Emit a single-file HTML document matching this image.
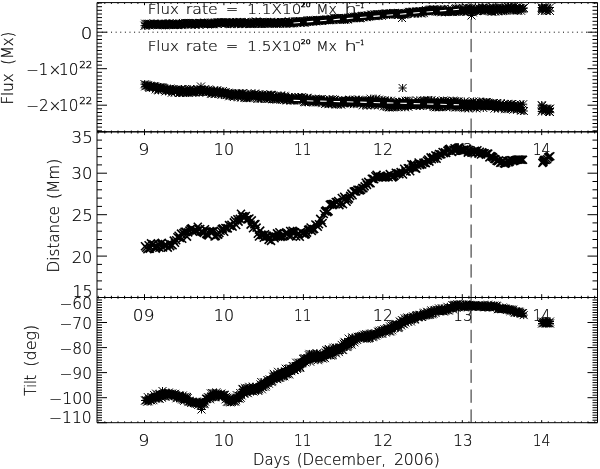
<!DOCTYPE html>
<html><head><meta charset="utf-8"><title>Flux, distance and tilt</title>
<style>html,body{margin:0;padding:0;background:#fff;overflow:hidden}svg{display:block}</style>
</head><body>
<svg width="600" height="469" viewBox="0 0 600 469">
<rect width="600" height="469" fill="#fff"/>
<defs><clipPath id="c1"><rect x="97.0" y="2.6" width="500.5" height="129.20000000000002"/></clipPath>
<clipPath id="c2"><rect x="97.0" y="131.8" width="500.5" height="165.7"/></clipPath>
<clipPath id="c3"><rect x="97.0" y="297.5" width="500.5" height="125.19999999999999"/></clipPath></defs>
<text transform="translate(138.33 155.00) scale(1.1722 1)" font-size="15.0" font-family="DejaVu Sans" font-weight="200" fill="#000" stroke="#000" stroke-width="0.2">9</text>
<text transform="translate(213.85 155.00) scale(1.0592 1)" font-size="15.0" font-family="DejaVu Sans" font-weight="200" fill="#000" stroke="#000" stroke-width="0.2">10</text>
<text transform="translate(293.99 155.00) scale(0.9123 1)" font-size="15.0" font-family="DejaVu Sans" font-weight="200" fill="#000" stroke="#000" stroke-width="0.2">11</text>
<text transform="translate(373.09 155.00) scale(1.0377 1)" font-size="15.0" font-family="DejaVu Sans" font-weight="200" fill="#000" stroke="#000" stroke-width="0.2">12</text>
<text transform="translate(453.33 155.00) scale(1.0111 1)" font-size="15.0" font-family="DejaVu Sans" font-weight="200" fill="#000" stroke="#000" stroke-width="0.2">13</text>
<text transform="translate(532.77 155.00) scale(0.9259 1)" font-size="15.0" font-family="DejaVu Sans" font-weight="200" fill="#000" stroke="#000" stroke-width="0.2">14</text>
<text transform="translate(132.87 320.60) scale(1.1324 1)" font-size="15.0" font-family="DejaVu Sans" font-weight="200" fill="#000" stroke="#000" stroke-width="0.2">09</text>
<text transform="translate(213.85 320.60) scale(1.0592 1)" font-size="15.0" font-family="DejaVu Sans" font-weight="200" fill="#000" stroke="#000" stroke-width="0.2">10</text>
<text transform="translate(293.99 320.60) scale(0.9123 1)" font-size="15.0" font-family="DejaVu Sans" font-weight="200" fill="#000" stroke="#000" stroke-width="0.2">11</text>
<text transform="translate(373.09 320.60) scale(1.0377 1)" font-size="15.0" font-family="DejaVu Sans" font-weight="200" fill="#000" stroke="#000" stroke-width="0.2">12</text>
<text transform="translate(453.33 320.60) scale(1.0111 1)" font-size="15.0" font-family="DejaVu Sans" font-weight="200" fill="#000" stroke="#000" stroke-width="0.2">13</text>
<text transform="translate(532.77 320.60) scale(0.9259 1)" font-size="15.0" font-family="DejaVu Sans" font-weight="200" fill="#000" stroke="#000" stroke-width="0.2">14</text>
<line x1="97.7" y1="32.2" x2="597" y2="32.2" stroke="#000" stroke-width="1" stroke-dasharray="1 3.612" stroke-dashoffset="0.5"/>
<line x1="471.1" y1="131.8" x2="471.1" y2="2.6" stroke="#222" stroke-width="1" stroke-dasharray="13.3 6.6"/>
<line x1="471.1" y1="297.5" x2="471.1" y2="131.8" stroke="#222" stroke-width="1" stroke-dasharray="13.3 6.6"/>
<line x1="471.1" y1="422.7" x2="471.1" y2="297.5" stroke="#222" stroke-width="1" stroke-dasharray="13.3 6.6"/>
<g clip-path="url(#c1)">
<polygon fill="#000" points="144.5,22.6 146.5,22.6 148.5,22.5 150.5,22.5 152.5,22.5 154.5,22.4 156.5,22.4 158.5,22.3 160.5,22.3 162.5,22.3 164.5,22.2 166.5,22.2 168.5,22.2 170.5,22.1 172.5,22.1 174.5,22.1 176.5,22 178.5,22 180.5,22 182.5,21.9 184.5,21.9 186.5,21.9 188.5,21.8 190.5,21.8 192.5,21.7 194.5,21.7 196.5,21.7 198.5,21.6 200.5,21.6 202.5,21.6 204.5,21.5 206.5,21.5 208.5,21.5 210.5,21.4 212.5,21.4 214.5,21.4 216.5,21.3 218.5,21.3 220.5,21.3 222.5,21.2 224.5,21.2 226.5,21.2 228.5,21.1 230.5,21.1 232.5,21 234.5,21 236.5,20.9 238.5,20.9 240.5,20.8 242.5,20.8 244.5,20.7 246.5,20.7 248.5,20.7 250.5,20.6 252.5,20.6 254.5,20.5 256.5,20.5 258.5,20.5 260.5,20.5 262.5,20.6 264.5,20.6 266.5,20.6 268.5,20.6 270.5,20.6 272.5,20.6 274.5,20.6 276.5,20.6 278.5,20.7 280.5,20.7 282.5,20.7 284.5,20.7 286.5,20.6 288.5,20.5 290.5,20.3 292.5,20.2 294.5,20.1 296.5,19.9 298.5,19.8 300.5,19.7 302.5,19.5 304.5,19.4 306.5,19.3 308.5,19.1 310.5,19 312.5,18.9 314.5,18.7 316.5,18.6 318.5,18.3 320.5,18.1 322.5,17.9 324.5,17.8 326.5,17.6 328.5,17.4 330.5,17.2 332.5,17.1 334.5,17 336.5,16.9 338.5,16.8 340.5,16.7 342.5,16.6 344.5,16.5 346.5,16.4 348.5,16.2 350.5,15.9 352.5,15.8 354.5,15.6 356.5,15.4 358.5,15.2 360.5,14.9 362.5,14.7 364.5,14.4 366.5,14.1 368.5,13.9 370.5,13.6 372.5,13.3 374.5,13.1 376.5,12.9 378.5,12.8 380.5,12.7 382.5,12.6 384.5,12.4 386.5,12.3 388.5,12.2 390.5,12.1 392.5,11.9 394.5,11.8 396.5,11.7 398.5,11.6 400.5,11.5 402.5,11.4 404.5,11.2 406.5,11 408.5,10.8 410.5,10.6 412.5,10.4 414.5,10.2 416.5,10 418.5,9.8 420.5,9.5 422.5,9.3 424.5,9.1 426.5,8.9 428.5,8.7 430.5,8.5 432.5,8.3 434.5,8.1 436.5,7.9 438.5,7.8 440.5,7.8 442.5,7.7 444.5,7.6 446.5,7.5 448.5,7.4 450.5,7.3 452.5,7.2 454.5,7.2 456.5,7.1 458.5,7 460.5,6.9 462.5,6.8 464.5,6.7 466.5,6.7 468.5,6.6 470.5,6.6 472.5,6.6 474.5,6.5 476.5,6.5 478.5,6.5 480.5,6.4 482.5,6.4 484.5,6.4 486.5,6.3 488.5,6.3 490.5,6.3 492.5,6.2 494.5,6.2 496.5,6.2 498.5,6.1 500.5,6.1 502.5,6.1 504.5,6 506.5,6 508.5,5.9 510.5,5.9 512.5,5.8 514.5,5.8 516.5,5.8 518.5,5.7 520.5,5.7 522.5,5.9 522.5,11.8 520.5,11.8 518.5,11.8 516.5,11.9 514.5,12 512.5,12 510.5,12.1 508.5,12.2 506.5,12.2 504.5,12.3 502.5,12.4 500.5,12.4 498.5,12.5 496.5,12.6 494.5,12.6 492.5,12.7 490.5,12.8 488.5,12.9 486.5,12.9 484.5,13 482.5,13.1 480.5,13.2 478.5,13.3 476.5,13.3 474.5,13.4 472.5,13.5 470.5,13.6 468.5,13.7 466.5,13.7 464.5,13.8 462.5,13.8 460.5,13.7 458.5,13.7 456.5,13.7 454.5,13.6 452.5,13.6 450.5,13.6 448.5,13.5 446.5,13.5 444.5,13.5 442.5,13.4 440.5,13.4 438.5,13.4 436.5,13.3 434.5,13.3 432.5,13.5 430.5,13.7 428.5,13.8 426.5,14 424.5,14.2 422.5,14.3 420.5,14.5 418.5,14.7 416.5,14.8 414.5,15 412.5,15.2 410.5,15.3 408.5,15.5 406.5,15.7 404.5,15.8 402.5,15.9 400.5,16 398.5,16.1 396.5,16.2 394.5,16.3 392.5,16.4 390.5,16.5 388.5,16.6 386.5,16.7 384.5,16.8 382.5,16.9 380.5,17 378.5,17.1 376.5,17.2 374.5,17.4 372.5,17.6 370.5,17.9 368.5,18.2 366.5,18.4 364.5,18.7 362.5,19 360.5,19.2 358.5,19.4 356.5,19.7 354.5,19.9 352.5,20.1 350.5,20.2 348.5,20.4 346.5,20.7 344.5,20.8 342.5,20.9 340.5,20.9 338.5,21 336.5,21.1 334.5,21.2 332.5,21.2 330.5,21.3 328.5,21.5 326.5,21.7 324.5,22 322.5,22.2 320.5,22.4 318.5,22.7 316.5,22.9 314.5,23.1 312.5,23.3 310.5,23.5 308.5,23.6 306.5,23.8 304.5,23.9 302.5,24.1 300.5,24.3 298.5,24.4 296.5,24.4 294.5,24.5 292.5,24.6 290.5,24.6 288.5,24.7 286.5,24.8 284.5,24.8 282.5,24.8 280.5,24.8 278.5,24.9 276.5,24.9 274.5,24.9 272.5,24.9 270.5,24.9 268.5,25 266.5,25 264.5,25 262.5,25 260.5,25 258.5,25.1 256.5,25.1 254.5,25.1 252.5,25.1 250.5,25.1 248.5,25.1 246.5,25.2 244.5,25.2 242.5,25.2 240.5,25.2 238.5,25.2 236.5,25.2 234.5,25.2 232.5,25.2 230.5,25.3 228.5,25.3 226.5,25.3 224.5,25.3 222.5,25.3 220.5,25.4 218.5,25.4 216.5,25.4 214.5,25.5 212.5,25.5 210.5,25.5 208.5,25.6 206.5,25.6 204.5,25.6 202.5,25.7 200.5,25.7 198.5,25.7 196.5,25.8 194.5,25.8 192.5,25.9 190.5,25.9 188.5,25.9 186.5,26 184.5,26 182.5,26.1 180.5,26.1 178.5,26.2 176.5,26.2 174.5,26.3 172.5,26.3 170.5,26.3 168.5,26.4 166.5,26.4 164.5,26.5 162.5,26.5 160.5,26.6 158.5,26.6 156.5,26.7 154.5,26.7 152.5,26.7 150.5,26.8 148.5,26.8 146.5,26.8 144.5,26.8"/>
<path fill="none" stroke="#000" stroke-width="1" d="M140.5 25.7h8M144.5 21.7v8M140.5 21.7l8 8M140.5 29.7l8 -8M141.2 23.7h8M145.2 19.7v8M141.2 19.7l8 8M141.2 27.7l8 -8M141.9 25.5h8M145.9 21.5v8M141.9 21.5l8 8M141.9 29.5l8 -8M142.6 24.2h8M146.6 20.2v8M142.6 20.2l8 8M142.6 28.2l8 -8M143.3 23.9h8M147.3 19.9v8M143.3 19.9l8 8M143.3 27.9l8 -8M144 23.8h8M148 19.8v8M144 19.8l8 8M144 27.8l8 -8M144.7 24.2h8M148.7 20.2v8M144.7 20.2l8 8M144.7 28.2l8 -8M145.4 25.4h8M149.4 21.4v8M145.4 21.4l8 8M145.4 29.4l8 -8M146.1 23.9h8M150.1 19.9v8M146.1 19.9l8 8M146.1 27.9l8 -8M146.8 24.8h8M150.8 20.8v8M146.8 20.8l8 8M146.8 28.8l8 -8M147.5 24.9h8M151.5 20.9v8M147.5 20.9l8 8M147.5 28.9l8 -8M148.2 24.3h8M152.2 20.3v8M148.2 20.3l8 8M148.2 28.3l8 -8M148.9 24.7h8M152.9 20.7v8M148.9 20.7l8 8M148.9 28.7l8 -8M149.6 23.6h8M153.6 19.6v8M149.6 19.6l8 8M149.6 27.6l8 -8M150.3 23.6h8M154.3 19.6v8M150.3 19.6l8 8M150.3 27.6l8 -8M151 23.9h8M155 19.9v8M151 19.9l8 8M151 27.9l8 -8M151.7 24.9h8M155.7 20.9v8M151.7 20.9l8 8M151.7 28.9l8 -8M152.4 24.4h8M156.4 20.4v8M152.4 20.4l8 8M152.4 28.4l8 -8M153.1 24.1h8M157.1 20.1v8M153.1 20.1l8 8M153.1 28.1l8 -8M153.8 24.7h8M157.8 20.7v8M153.8 20.7l8 8M153.8 28.7l8 -8M154.5 24.4h8M158.5 20.4v8M154.5 20.4l8 8M154.5 28.4l8 -8M155.2 24h8M159.2 20v8M155.2 20l8 8M155.2 28l8 -8M155.9 25.1h8M159.9 21.1v8M155.9 21.1l8 8M155.9 29.1l8 -8M156.6 24.9h8M160.6 20.9v8M156.6 20.9l8 8M156.6 28.9l8 -8M157.3 23.8h8M161.3 19.8v8M157.3 19.8l8 8M157.3 27.8l8 -8M158 24.6h8M162 20.6v8M158 20.6l8 8M158 28.6l8 -8M158.7 24.5h8M162.7 20.5v8M158.7 20.5l8 8M158.7 28.5l8 -8M159.4 25.2h8M163.4 21.2v8M159.4 21.2l8 8M159.4 29.2l8 -8M160.1 24.9h8M164.1 20.9v8M160.1 20.9l8 8M160.1 28.9l8 -8M160.8 23.9h8M164.8 19.9v8M160.8 19.9l8 8M160.8 27.9l8 -8M161.5 25.4h8M165.5 21.4v8M161.5 21.4l8 8M161.5 29.4l8 -8M162.2 23.5h8M166.2 19.5v8M162.2 19.5l8 8M162.2 27.5l8 -8M162.9 24.1h8M166.9 20.1v8M162.9 20.1l8 8M162.9 28.1l8 -8M163.6 24.9h8M167.6 20.9v8M163.6 20.9l8 8M163.6 28.9l8 -8M164.3 23.5h8M168.3 19.5v8M164.3 19.5l8 8M164.3 27.5l8 -8M165 24.2h8M169 20.2v8M165 20.2l8 8M165 28.2l8 -8M165.7 23.2h8M169.7 19.2v8M165.7 19.2l8 8M165.7 27.2l8 -8M166.4 24.6h8M170.4 20.6v8M166.4 20.6l8 8M166.4 28.6l8 -8M167.1 24.8h8M171.1 20.8v8M167.1 20.8l8 8M167.1 28.8l8 -8M167.8 24.4h8M171.8 20.4v8M167.8 20.4l8 8M167.8 28.4l8 -8M168.5 25h8M172.5 21v8M168.5 21l8 8M168.5 29l8 -8M169.2 23.8h8M173.2 19.8v8M169.2 19.8l8 8M169.2 27.8l8 -8M169.9 24.6h8M173.9 20.6v8M169.9 20.6l8 8M169.9 28.6l8 -8M170.6 24.4h8M174.6 20.4v8M170.6 20.4l8 8M170.6 28.4l8 -8M171.3 24.3h8M175.3 20.3v8M171.3 20.3l8 8M171.3 28.3l8 -8M172 24h8M176 20v8M172 20l8 8M172 28l8 -8M172.7 24.9h8M176.7 20.9v8M172.7 20.9l8 8M172.7 28.9l8 -8M173.4 25.1h8M177.4 21.1v8M173.4 21.1l8 8M173.4 29.1l8 -8M174.1 24h8M178.1 20v8M174.1 20l8 8M174.1 28l8 -8M174.8 24.4h8M178.8 20.4v8M174.8 20.4l8 8M174.8 28.4l8 -8M175.5 23.1h8M179.5 19.1v8M175.5 19.1l8 8M175.5 27.1l8 -8M176.2 24.5h8M180.2 20.5v8M176.2 20.5l8 8M176.2 28.5l8 -8M176.9 24.4h8M180.9 20.4v8M176.9 20.4l8 8M176.9 28.4l8 -8M177.6 25.1h8M181.6 21.1v8M177.6 21.1l8 8M177.6 29.1l8 -8M178.3 24.7h8M182.3 20.7v8M178.3 20.7l8 8M178.3 28.7l8 -8M179 23.5h8M183 19.5v8M179 19.5l8 8M179 27.5l8 -8M179.7 23.7h8M183.7 19.7v8M179.7 19.7l8 8M179.7 27.7l8 -8M180.4 24.3h8M184.4 20.3v8M180.4 20.3l8 8M180.4 28.3l8 -8M181.1 22.9h8M185.1 18.9v8M181.1 18.9l8 8M181.1 26.9l8 -8M181.8 23.9h8M185.8 19.9v8M181.8 19.9l8 8M181.8 27.9l8 -8M182.5 23.2h8M186.5 19.2v8M182.5 19.2l8 8M182.5 27.2l8 -8M183.2 23.1h8M187.2 19.1v8M183.2 19.1l8 8M183.2 27.1l8 -8M183.9 23h8M187.9 19v8M183.9 19l8 8M183.9 27l8 -8M184.6 24.4h8M188.6 20.4v8M184.6 20.4l8 8M184.6 28.4l8 -8M185.3 23.1h8M189.3 19.1v8M185.3 19.1l8 8M185.3 27.1l8 -8M186 23.3h8M190 19.3v8M186 19.3l8 8M186 27.3l8 -8M186.7 23.6h8M190.7 19.6v8M186.7 19.6l8 8M186.7 27.6l8 -8M187.4 24.6h8M191.4 20.6v8M187.4 20.6l8 8M187.4 28.6l8 -8M188.1 22.9h8M192.1 18.9v8M188.1 18.9l8 8M188.1 26.9l8 -8M188.8 23.7h8M192.8 19.7v8M188.8 19.7l8 8M188.8 27.7l8 -8M189.5 23.9h8M193.5 19.9v8M189.5 19.9l8 8M189.5 27.9l8 -8M190.2 24.6h8M194.2 20.6v8M190.2 20.6l8 8M190.2 28.6l8 -8M190.9 24.4h8M194.9 20.4v8M190.9 20.4l8 8M190.9 28.4l8 -8M191.6 24.5h8M195.6 20.5v8M191.6 20.5l8 8M191.6 28.5l8 -8M192.3 23.3h8M196.3 19.3v8M192.3 19.3l8 8M192.3 27.3l8 -8M193 23.5h8M197 19.5v8M193 19.5l8 8M193 27.5l8 -8M193.7 23.4h8M197.7 19.4v8M193.7 19.4l8 8M193.7 27.4l8 -8M194.4 24.5h8M198.4 20.5v8M194.4 20.5l8 8M194.4 28.5l8 -8M195.1 24.6h8M199.1 20.6v8M195.1 20.6l8 8M195.1 28.6l8 -8M195.8 22.9h8M199.8 18.9v8M195.8 18.9l8 8M195.8 26.9l8 -8M196.5 23h8M200.5 19v8M196.5 19l8 8M196.5 27l8 -8M197.2 23.1h8M201.2 19.1v8M197.2 19.1l8 8M197.2 27.1l8 -8M197.9 23.1h8M201.9 19.1v8M197.9 19.1l8 8M197.9 27.1l8 -8M198.6 23.6h8M202.6 19.6v8M198.6 19.6l8 8M198.6 27.6l8 -8M199.3 23.8h8M203.3 19.8v8M199.3 19.8l8 8M199.3 27.8l8 -8M200 23.1h8M204 19.1v8M200 19.1l8 8M200 27.1l8 -8M200.7 22.5h8M204.7 18.5v8M200.7 18.5l8 8M200.7 26.5l8 -8M201.4 23.4h8M205.4 19.4v8M201.4 19.4l8 8M201.4 27.4l8 -8M202.1 23.3h8M206.1 19.3v8M202.1 19.3l8 8M202.1 27.3l8 -8M202.8 23.7h8M206.8 19.7v8M202.8 19.7l8 8M202.8 27.7l8 -8M203.5 24.5h8M207.5 20.5v8M203.5 20.5l8 8M203.5 28.5l8 -8M204.2 23.9h8M208.2 19.9v8M204.2 19.9l8 8M204.2 27.9l8 -8M204.9 23.6h8M208.9 19.6v8M204.9 19.6l8 8M204.9 27.6l8 -8M205.6 23.8h8M209.6 19.8v8M205.6 19.8l8 8M205.6 27.8l8 -8M206.3 23.9h8M210.3 19.9v8M206.3 19.9l8 8M206.3 27.9l8 -8M207 22.5h8M211 18.5v8M207 18.5l8 8M207 26.5l8 -8M207.7 24.3h8M211.7 20.3v8M207.7 20.3l8 8M207.7 28.3l8 -8M208.4 24h8M212.4 20v8M208.4 20l8 8M208.4 28l8 -8M209.1 24.2h8M213.1 20.2v8M209.1 20.2l8 8M209.1 28.2l8 -8M209.8 24.1h8M213.8 20.1v8M209.8 20.1l8 8M209.8 28.1l8 -8M210.5 23.2h8M214.5 19.2v8M210.5 19.2l8 8M210.5 27.2l8 -8M211.2 23.2h8M215.2 19.2v8M211.2 19.2l8 8M211.2 27.2l8 -8M211.9 22.6h8M215.9 18.6v8M211.9 18.6l8 8M211.9 26.6l8 -8M212.6 23.7h8M216.6 19.7v8M212.6 19.7l8 8M212.6 27.7l8 -8M213.3 22.5h8M217.3 18.5v8M213.3 18.5l8 8M213.3 26.5l8 -8M214 22.5h8M218 18.5v8M214 18.5l8 8M214 26.5l8 -8M214.7 22.7h8M218.7 18.7v8M214.7 18.7l8 8M214.7 26.7l8 -8M215.4 22.6h8M219.4 18.6v8M215.4 18.6l8 8M215.4 26.6l8 -8M216.1 23h8M220.1 19v8M216.1 19l8 8M216.1 27l8 -8M216.8 22.4h8M220.8 18.4v8M216.8 18.4l8 8M216.8 26.4l8 -8M217.5 22.3h8M221.5 18.3v8M217.5 18.3l8 8M217.5 26.3l8 -8M218.2 22.6h8M222.2 18.6v8M218.2 18.6l8 8M218.2 26.6l8 -8M218.9 22.4h8M222.9 18.4v8M218.9 18.4l8 8M218.9 26.4l8 -8M219.6 23h8M223.6 19v8M219.6 19l8 8M219.6 27l8 -8M220.3 22.3h8M224.3 18.3v8M220.3 18.3l8 8M220.3 26.3l8 -8M221 24h8M225 20v8M221 20l8 8M221 28l8 -8M221.7 23.5h8M225.7 19.5v8M221.7 19.5l8 8M221.7 27.5l8 -8M222.4 22.5h8M226.4 18.5v8M222.4 18.5l8 8M222.4 26.5l8 -8M223.1 22.7h8M227.1 18.7v8M223.1 18.7l8 8M223.1 26.7l8 -8M223.8 22.9h8M227.8 18.9v8M223.8 18.9l8 8M223.8 26.9l8 -8M224.5 22.9h8M228.5 18.9v8M224.5 18.9l8 8M224.5 26.9l8 -8M225.2 22.4h8M229.2 18.4v8M225.2 18.4l8 8M225.2 26.4l8 -8M225.9 23.9h8M229.9 19.9v8M225.9 19.9l8 8M225.9 27.9l8 -8M226.6 24.2h8M230.6 20.2v8M226.6 20.2l8 8M226.6 28.2l8 -8M227.3 23.1h8M231.3 19.1v8M227.3 19.1l8 8M227.3 27.1l8 -8M228 23.1h8M232 19.1v8M228 19.1l8 8M228 27.1l8 -8M228.7 22.2h8M232.7 18.2v8M228.7 18.2l8 8M228.7 26.2l8 -8M229.4 22.2h8M233.4 18.2v8M229.4 18.2l8 8M229.4 26.2l8 -8M230.1 22.8h8M234.1 18.8v8M230.1 18.8l8 8M230.1 26.8l8 -8M230.8 22.6h8M234.8 18.6v8M230.8 18.6l8 8M230.8 26.6l8 -8M231.5 23.8h8M235.5 19.8v8M231.5 19.8l8 8M231.5 27.8l8 -8M232.2 22.3h8M236.2 18.3v8M232.2 18.3l8 8M232.2 26.3l8 -8M232.9 22h8M236.9 18v8M232.9 18l8 8M232.9 26l8 -8M233.6 24.1h8M237.6 20.1v8M233.6 20.1l8 8M233.6 28.1l8 -8M234.3 23.1h8M238.3 19.1v8M234.3 19.1l8 8M234.3 27.1l8 -8M235 22.2h8M239 18.2v8M235 18.2l8 8M235 26.2l8 -8M235.7 23.1h8M239.7 19.1v8M235.7 19.1l8 8M235.7 27.1l8 -8M236.4 21.9h8M240.4 17.9v8M236.4 17.9l8 8M236.4 25.9l8 -8M237.1 23.1h8M241.1 19.1v8M237.1 19.1l8 8M237.1 27.1l8 -8M237.8 24.1h8M241.8 20.1v8M237.8 20.1l8 8M237.8 28.1l8 -8M238.5 23.9h8M242.5 19.9v8M238.5 19.9l8 8M238.5 27.9l8 -8M239.2 23.4h8M243.2 19.4v8M239.2 19.4l8 8M239.2 27.4l8 -8M239.9 22.4h8M243.9 18.4v8M239.9 18.4l8 8M239.9 26.4l8 -8M240.6 22.6h8M244.6 18.6v8M240.6 18.6l8 8M240.6 26.6l8 -8M241.3 22.1h8M245.3 18.1v8M241.3 18.1l8 8M241.3 26.1l8 -8M242 23.6h8M246 19.6v8M242 19.6l8 8M242 27.6l8 -8M242.7 23h8M246.7 19v8M242.7 19l8 8M242.7 27l8 -8M243.4 23.6h8M247.4 19.6v8M243.4 19.6l8 8M243.4 27.6l8 -8M244.1 22.5h8M248.1 18.5v8M244.1 18.5l8 8M244.1 26.5l8 -8M244.8 22.2h8M248.8 18.2v8M244.8 18.2l8 8M244.8 26.2l8 -8M245.5 23.7h8M249.5 19.7v8M245.5 19.7l8 8M245.5 27.7l8 -8M246.2 24.1h8M250.2 20.1v8M246.2 20.1l8 8M246.2 28.1l8 -8M246.9 23.8h8M250.9 19.8v8M246.9 19.8l8 8M246.9 27.8l8 -8M247.6 23.6h8M251.6 19.6v8M247.6 19.6l8 8M247.6 27.6l8 -8M248.3 23.7h8M252.3 19.7v8M248.3 19.7l8 8M248.3 27.7l8 -8M249 23.4h8M253 19.4v8M249 19.4l8 8M249 27.4l8 -8M249.7 22.1h8M253.7 18.1v8M249.7 18.1l8 8M249.7 26.1l8 -8M250.4 22.9h8M254.4 18.9v8M250.4 18.9l8 8M250.4 26.9l8 -8M251.1 22.4h8M255.1 18.4v8M251.1 18.4l8 8M251.1 26.4l8 -8M251.8 21.6h8M255.8 17.6v8M251.8 17.6l8 8M251.8 25.6l8 -8M252.5 21.6h8M256.5 17.6v8M252.5 17.6l8 8M252.5 25.6l8 -8M253.2 22.2h8M257.2 18.2v8M253.2 18.2l8 8M253.2 26.2l8 -8M253.9 22.2h8M257.9 18.2v8M253.9 18.2l8 8M253.9 26.2l8 -8M254.6 23.3h8M258.6 19.3v8M254.6 19.3l8 8M254.6 27.3l8 -8M255.3 23.9h8M259.3 19.9v8M255.3 19.9l8 8M255.3 27.9l8 -8M256 22.7h8M260 18.7v8M256 18.7l8 8M256 26.7l8 -8M256.7 23.9h8M260.7 19.9v8M256.7 19.9l8 8M256.7 27.9l8 -8M257.4 24h8M261.4 20v8M257.4 20l8 8M257.4 28l8 -8M258.1 23.9h8M262.1 19.9v8M258.1 19.9l8 8M258.1 27.9l8 -8M258.8 22.5h8M262.8 18.5v8M258.8 18.5l8 8M258.8 26.5l8 -8M259.5 22.1h8M263.5 18.1v8M259.5 18.1l8 8M259.5 26.1l8 -8M260.2 22.1h8M264.2 18.1v8M260.2 18.1l8 8M260.2 26.1l8 -8M260.9 22h8M264.9 18v8M260.9 18l8 8M260.9 26l8 -8M261.6 22.1h8M265.6 18.1v8M261.6 18.1l8 8M261.6 26.1l8 -8M262.3 23.1h8M266.3 19.1v8M262.3 19.1l8 8M262.3 27.1l8 -8M263 23.7h8M267 19.7v8M263 19.7l8 8M263 27.7l8 -8M263.7 23.6h8M267.7 19.6v8M263.7 19.6l8 8M263.7 27.6l8 -8M264.4 22.7h8M268.4 18.7v8M264.4 18.7l8 8M264.4 26.7l8 -8M265.1 23.1h8M269.1 19.1v8M265.1 19.1l8 8M265.1 27.1l8 -8M265.8 23.5h8M269.8 19.5v8M265.8 19.5l8 8M265.8 27.5l8 -8M266.5 21.8h8M270.5 17.8v8M266.5 17.8l8 8M266.5 25.8l8 -8M267.2 23.1h8M271.2 19.1v8M267.2 19.1l8 8M267.2 27.1l8 -8M267.9 23.7h8M271.9 19.7v8M267.9 19.7l8 8M267.9 27.7l8 -8M268.6 23.4h8M272.6 19.4v8M268.6 19.4l8 8M268.6 27.4l8 -8M269.3 23.3h8M273.3 19.3v8M269.3 19.3l8 8M269.3 27.3l8 -8M270 22.7h8M274 18.7v8M270 18.7l8 8M270 26.7l8 -8M270.7 22h8M274.7 18v8M270.7 18l8 8M270.7 26l8 -8M271.4 23.4h8M275.4 19.4v8M271.4 19.4l8 8M271.4 27.4l8 -8M272.1 22.4h8M276.1 18.4v8M272.1 18.4l8 8M272.1 26.4l8 -8M272.8 23.4h8M276.8 19.4v8M272.8 19.4l8 8M272.8 27.4l8 -8M273.5 23.8h8M277.5 19.8v8M273.5 19.8l8 8M273.5 27.8l8 -8M274.2 22.5h8M278.2 18.5v8M274.2 18.5l8 8M274.2 26.5l8 -8M274.9 22.5h8M278.9 18.5v8M274.9 18.5l8 8M274.9 26.5l8 -8M275.6 23.7h8M279.6 19.7v8M275.6 19.7l8 8M275.6 27.7l8 -8M276.3 23.2h8M280.3 19.2v8M276.3 19.2l8 8M276.3 27.2l8 -8M277 22h8M281 18v8M277 18l8 8M277 26l8 -8M277.7 22h8M281.7 18v8M277.7 18l8 8M277.7 26l8 -8M278.4 22h8M282.4 18v8M278.4 18l8 8M278.4 26l8 -8M279.1 23.6h8M283.1 19.6v8M279.1 19.6l8 8M279.1 27.6l8 -8M279.8 23.4h8M283.8 19.4v8M279.8 19.4l8 8M279.8 27.4l8 -8M280.5 22h8M284.5 18v8M280.5 18l8 8M280.5 26l8 -8M281.2 23.4h8M285.2 19.4v8M281.2 19.4l8 8M281.2 27.4l8 -8M281.9 23.7h8M285.9 19.7v8M281.9 19.7l8 8M281.9 27.7l8 -8M282.6 23h8M286.6 19v8M282.6 19l8 8M282.6 27l8 -8M283.3 22.3h8M287.3 18.3v8M283.3 18.3l8 8M283.3 26.3l8 -8M284 22.7h8M288 18.7v8M284 18.7l8 8M284 26.7l8 -8M284.7 21.7h8M288.7 17.7v8M284.7 17.7l8 8M284.7 25.7l8 -8M285.4 21.4h8M289.4 17.4v8M285.4 17.4l8 8M285.4 25.4l8 -8M286.1 23.6h8M290.1 19.6v8M286.1 19.6l8 8M286.1 27.6l8 -8M286.8 22.8h8M290.8 18.8v8M286.8 18.8l8 8M286.8 26.8l8 -8M287.5 22.5h8M291.5 18.5v8M287.5 18.5l8 8M287.5 26.5l8 -8M288.2 23.4h8M292.2 19.4v8M288.2 19.4l8 8M288.2 27.4l8 -8M288.9 22.2h8M292.9 18.2v8M288.9 18.2l8 8M288.9 26.2l8 -8M289.6 23.2h8M293.6 19.2v8M289.6 19.2l8 8M289.6 27.2l8 -8M290.3 23.1h8M294.3 19.1v8M290.3 19.1l8 8M290.3 27.1l8 -8M291 21.5h8M295 17.5v8M291 17.5l8 8M291 25.5l8 -8M291.7 21.6h8M295.7 17.6v8M291.7 17.6l8 8M291.7 25.6l8 -8M292.4 21.7h8M296.4 17.7v8M292.4 17.7l8 8M292.4 25.7l8 -8M293.1 21.5h8M297.1 17.5v8M293.1 17.5l8 8M293.1 25.5l8 -8M293.8 22.3h8M297.8 18.3v8M293.8 18.3l8 8M293.8 26.3l8 -8M294.5 21.5h8M298.5 17.5v8M294.5 17.5l8 8M294.5 25.5l8 -8M295.2 21.8h8M299.2 17.8v8M295.2 17.8l8 8M295.2 25.8l8 -8M295.9 21h8M299.9 17v8M295.9 17l8 8M295.9 25l8 -8M296.6 23h8M300.6 19v8M296.6 19l8 8M296.6 27l8 -8M297.3 21.5h8M301.3 17.5v8M297.3 17.5l8 8M297.3 25.5l8 -8M298 21.7h8M302 17.7v8M298 17.7l8 8M298 25.7l8 -8M298.7 22h8M302.7 18v8M298.7 18l8 8M298.7 26l8 -8M299.4 22.8h8M303.4 18.8v8M299.4 18.8l8 8M299.4 26.8l8 -8M300.1 21.5h8M304.1 17.5v8M300.1 17.5l8 8M300.1 25.5l8 -8M300.8 22.7h8M304.8 18.7v8M300.8 18.7l8 8M300.8 26.7l8 -8M301.5 21.6h8M305.5 17.6v8M301.5 17.6l8 8M301.5 25.6l8 -8M302.2 21.6h8M306.2 17.6v8M302.2 17.6l8 8M302.2 25.6l8 -8M302.9 21.6h8M306.9 17.6v8M302.9 17.6l8 8M302.9 25.6l8 -8M303.6 20.2h8M307.6 16.2v8M303.6 16.2l8 8M303.6 24.2l8 -8M304.3 21.2h8M308.3 17.2v8M304.3 17.2l8 8M304.3 25.2l8 -8M305 20.6h8M309 16.6v8M305 16.6l8 8M305 24.6l8 -8M305.7 20.1h8M309.7 16.1v8M305.7 16.1l8 8M305.7 24.1l8 -8M306.4 22h8M310.4 18v8M306.4 18l8 8M306.4 26l8 -8M307.1 20.4h8M311.1 16.4v8M307.1 16.4l8 8M307.1 24.4l8 -8M307.8 21.1h8M311.8 17.1v8M307.8 17.1l8 8M307.8 25.1l8 -8M308.5 21.6h8M312.5 17.6v8M308.5 17.6l8 8M308.5 25.6l8 -8M309.2 21.2h8M313.2 17.2v8M309.2 17.2l8 8M309.2 25.2l8 -8M309.9 20.6h8M313.9 16.6v8M309.9 16.6l8 8M309.9 24.6l8 -8M310.6 21h8M314.6 17v8M310.6 17l8 8M310.6 25l8 -8M311.3 21h8M315.3 17v8M311.3 17l8 8M311.3 25l8 -8M312 21.5h8M316 17.5v8M312 17.5l8 8M312 25.5l8 -8M312.7 19.8h8M316.7 15.8v8M312.7 15.8l8 8M312.7 23.8l8 -8M313.4 20.8h8M317.4 16.8v8M313.4 16.8l8 8M313.4 24.8l8 -8M314.1 20h8M318.1 16v8M314.1 16l8 8M314.1 24l8 -8M314.8 20h8M318.8 16v8M314.8 16l8 8M314.8 24l8 -8M315.5 21h8M319.5 17v8M315.5 17l8 8M315.5 25l8 -8M316.2 20.3h8M320.2 16.3v8M316.2 16.3l8 8M316.2 24.3l8 -8M316.9 20.4h8M320.9 16.4v8M316.9 16.4l8 8M316.9 24.4l8 -8M317.6 20.8h8M321.6 16.8v8M317.6 16.8l8 8M317.6 24.8l8 -8M318.3 21h8M322.3 17v8M318.3 17l8 8M318.3 25l8 -8M319 19.9h8M323 15.9v8M319 15.9l8 8M319 23.9l8 -8M319.7 20.2h8M323.7 16.2v8M319.7 16.2l8 8M319.7 24.2l8 -8M320.4 19.9h8M324.4 15.9v8M320.4 15.9l8 8M320.4 23.9l8 -8M321.1 19.8h8M325.1 15.8v8M321.1 15.8l8 8M321.1 23.8l8 -8M321.8 20.1h8M325.8 16.1v8M321.8 16.1l8 8M321.8 24.1l8 -8M322.5 19.5h8M326.5 15.5v8M322.5 15.5l8 8M322.5 23.5l8 -8M323.2 19.6h8M327.2 15.6v8M323.2 15.6l8 8M323.2 23.6l8 -8M323.9 19.4h8M327.9 15.4v8M323.9 15.4l8 8M323.9 23.4l8 -8M324.6 20.3h8M328.6 16.3v8M324.6 16.3l8 8M324.6 24.3l8 -8M325.3 19.7h8M329.3 15.7v8M325.3 15.7l8 8M325.3 23.7l8 -8M326 20h8M330 16v8M326 16l8 8M326 24l8 -8M326.7 20.2h8M330.7 16.2v8M326.7 16.2l8 8M326.7 24.2l8 -8M327.4 18.7h8M331.4 14.7v8M327.4 14.7l8 8M327.4 22.7l8 -8M328.1 19.3h8M332.1 15.3v8M328.1 15.3l8 8M328.1 23.3l8 -8M328.8 20.1h8M332.8 16.1v8M328.8 16.1l8 8M328.8 24.1l8 -8M329.5 19.8h8M333.5 15.8v8M329.5 15.8l8 8M329.5 23.8l8 -8M330.2 18.3h8M334.2 14.3v8M330.2 14.3l8 8M330.2 22.3l8 -8M330.9 18.2h8M334.9 14.2v8M330.9 14.2l8 8M330.9 22.2l8 -8M331.6 18.9h8M335.6 14.9v8M331.6 14.9l8 8M331.6 22.9l8 -8M332.3 18.1h8M336.3 14.1v8M332.3 14.1l8 8M332.3 22.1l8 -8M333 18.4h8M337 14.4v8M333 14.4l8 8M333 22.4l8 -8M333.7 18h8M337.7 14v8M333.7 14l8 8M333.7 22l8 -8M334.4 19.3h8M338.4 15.3v8M334.4 15.3l8 8M334.4 23.3l8 -8M335.1 19.5h8M339.1 15.5v8M335.1 15.5l8 8M335.1 23.5l8 -8M335.8 19.7h8M339.8 15.7v8M335.8 15.7l8 8M335.8 23.7l8 -8M336.5 18.1h8M340.5 14.1v8M336.5 14.1l8 8M336.5 22.1l8 -8M337.2 19.3h8M341.2 15.3v8M337.2 15.3l8 8M337.2 23.3l8 -8M337.9 19.1h8M341.9 15.1v8M337.9 15.1l8 8M337.9 23.1l8 -8M338.6 17.9h8M342.6 13.9v8M338.6 13.9l8 8M338.6 21.9l8 -8M339.3 19.6h8M343.3 15.6v8M339.3 15.6l8 8M339.3 23.6l8 -8M340 19.8h8M344 15.8v8M340 15.8l8 8M340 23.8l8 -8M340.7 18h8M344.7 14v8M340.7 14l8 8M340.7 22l8 -8M341.4 19.7h8M345.4 15.7v8M341.4 15.7l8 8M341.4 23.7l8 -8M342.1 18.3h8M346.1 14.3v8M342.1 14.3l8 8M342.1 22.3l8 -8M342.8 18.4h8M346.8 14.4v8M342.8 14.4l8 8M342.8 22.4l8 -8M343.5 19.5h8M347.5 15.5v8M343.5 15.5l8 8M343.5 23.5l8 -8M344.2 19.1h8M348.2 15.1v8M344.2 15.1l8 8M344.2 23.1l8 -8M344.9 17.5h8M348.9 13.5v8M344.9 13.5l8 8M344.9 21.5l8 -8M345.6 18h8M349.6 14v8M345.6 14l8 8M345.6 22l8 -8M346.3 18.2h8M350.3 14.2v8M346.3 14.2l8 8M346.3 22.2l8 -8M347 17.7h8M351 13.7v8M347 13.7l8 8M347 21.7l8 -8M347.7 17.3h8M351.7 13.3v8M347.7 13.3l8 8M347.7 21.3l8 -8M348.4 17.5h8M352.4 13.5v8M348.4 13.5l8 8M348.4 21.5l8 -8M349.1 18.4h8M353.1 14.4v8M349.1 14.4l8 8M349.1 22.4l8 -8M349.8 16.7h8M353.8 12.7v8M349.8 12.7l8 8M349.8 20.7l8 -8M350.5 17.8h8M354.5 13.8v8M350.5 13.8l8 8M350.5 21.8l8 -8M351.2 17.5h8M355.2 13.5v8M351.2 13.5l8 8M351.2 21.5l8 -8M351.9 16.5h8M355.9 12.5v8M351.9 12.5l8 8M351.9 20.5l8 -8M352.6 17.1h8M356.6 13.1v8M352.6 13.1l8 8M352.6 21.1l8 -8M353.3 17.7h8M357.3 13.7v8M353.3 13.7l8 8M353.3 21.7l8 -8M354 17.4h8M358 13.4v8M354 13.4l8 8M354 21.4l8 -8M354.7 16.3h8M358.7 12.3v8M354.7 12.3l8 8M354.7 20.3l8 -8M355.4 18.3h8M359.4 14.3v8M355.4 14.3l8 8M355.4 22.3l8 -8M356.1 17.8h8M360.1 13.8v8M356.1 13.8l8 8M356.1 21.8l8 -8M356.8 18.1h8M360.8 14.1v8M356.8 14.1l8 8M356.8 22.1l8 -8M357.5 16h8M361.5 12v8M357.5 12l8 8M357.5 20l8 -8M358.2 16.3h8M362.2 12.3v8M358.2 12.3l8 8M358.2 20.3l8 -8M358.9 15.7h8M362.9 11.7v8M358.9 11.7l8 8M358.9 19.7l8 -8M359.6 17.3h8M363.6 13.3v8M359.6 13.3l8 8M359.6 21.3l8 -8M360.3 16h8M364.3 12v8M360.3 12l8 8M360.3 20l8 -8M361 15.6h8M365 11.6v8M361 11.6l8 8M361 19.6l8 -8M361.7 16.2h8M365.7 12.2v8M361.7 12.2l8 8M361.7 20.2l8 -8M362.4 17.2h8M366.4 13.2v8M362.4 13.2l8 8M362.4 21.2l8 -8M363.1 16.9h8M367.1 12.9v8M363.1 12.9l8 8M363.1 20.9l8 -8M363.8 15.6h8M367.8 11.6v8M363.8 11.6l8 8M363.8 19.6l8 -8M364.5 15.2h8M368.5 11.2v8M364.5 11.2l8 8M364.5 19.2l8 -8M365.2 16.9h8M369.2 12.9v8M365.2 12.9l8 8M365.2 20.9l8 -8M365.9 16h8M369.9 12v8M365.9 12l8 8M365.9 20l8 -8M366.6 16.2h8M370.6 12.2v8M366.6 12.2l8 8M366.6 20.2l8 -8M367.3 14.7h8M371.3 10.7v8M367.3 10.7l8 8M367.3 18.7l8 -8M368 14.5h8M372 10.5v8M368 10.5l8 8M368 18.5l8 -8M368.7 15.9h8M372.7 11.9v8M368.7 11.9l8 8M368.7 19.9l8 -8M369.4 15.2h8M373.4 11.2v8M369.4 11.2l8 8M369.4 19.2l8 -8M370.1 14.3h8M374.1 10.3v8M370.1 10.3l8 8M370.1 18.3l8 -8M370.8 16.2h8M374.8 12.2v8M370.8 12.2l8 8M370.8 20.2l8 -8M371.5 15.4h8M375.5 11.4v8M371.5 11.4l8 8M371.5 19.4l8 -8M372.2 15.8h8M376.2 11.8v8M372.2 11.8l8 8M372.2 19.8l8 -8M372.9 14.1h8M376.9 10.1v8M372.9 10.1l8 8M372.9 18.1l8 -8M373.6 15.8h8M377.6 11.8v8M373.6 11.8l8 8M373.6 19.8l8 -8M374.3 14h8M378.3 10v8M374.3 10l8 8M374.3 18l8 -8M375 15.8h8M379 11.8v8M375 11.8l8 8M375 19.8l8 -8M375.7 14.8h8M379.7 10.8v8M375.7 10.8l8 8M375.7 18.8l8 -8M376.4 14.5h8M380.4 10.5v8M376.4 10.5l8 8M376.4 18.5l8 -8M377.1 14.9h8M381.1 10.9v8M377.1 10.9l8 8M377.1 18.9l8 -8M377.8 15.8h8M381.8 11.8v8M377.8 11.8l8 8M377.8 19.8l8 -8M378.5 14.2h8M382.5 10.2v8M378.5 10.2l8 8M378.5 18.2l8 -8M379.2 13.8h8M383.2 9.8v8M379.2 9.8l8 8M379.2 17.8l8 -8M379.9 14.7h8M383.9 10.7v8M379.9 10.7l8 8M379.9 18.7l8 -8M380.6 14h8M384.6 10v8M380.6 10l8 8M380.6 18l8 -8M381.3 13.6h8M385.3 9.6v8M381.3 9.6l8 8M381.3 17.6l8 -8M382 13.7h8M386 9.7v8M382 9.7l8 8M382 17.7l8 -8M382.7 13.4h8M386.7 9.4v8M382.7 9.4l8 8M382.7 17.4l8 -8M383.4 13.7h8M387.4 9.7v8M383.4 9.7l8 8M383.4 17.7l8 -8M384.1 14h8M388.1 10v8M384.1 10l8 8M384.1 18l8 -8M384.8 13.9h8M388.8 9.9v8M384.8 9.9l8 8M384.8 17.9l8 -8M385.5 15h8M389.5 11v8M385.5 11l8 8M385.5 19l8 -8M386.2 13.8h8M390.2 9.8v8M386.2 9.8l8 8M386.2 17.8l8 -8M386.9 14.3h8M390.9 10.3v8M386.9 10.3l8 8M386.9 18.3l8 -8M387.6 13.4h8M391.6 9.4v8M387.6 9.4l8 8M387.6 17.4l8 -8M388.3 13.8h8M392.3 9.8v8M388.3 9.8l8 8M388.3 17.8l8 -8M389 13h8M393 9v8M389 9l8 8M389 17l8 -8M389.7 13.5h8M393.7 9.5v8M389.7 9.5l8 8M389.7 17.5l8 -8M390.4 12.9h8M394.4 8.9v8M390.4 8.9l8 8M390.4 16.9l8 -8M391.1 14.6h8M395.1 10.6v8M391.1 10.6l8 8M391.1 18.6l8 -8M391.8 14.1h8M395.8 10.1v8M391.8 10.1l8 8M391.8 18.1l8 -8M392.5 13.2h8M396.5 9.2v8M392.5 9.2l8 8M392.5 17.2l8 -8M393.2 13.9h8M397.2 9.9v8M393.2 9.9l8 8M393.2 17.9l8 -8M393.9 15h8M397.9 11v8M393.9 11l8 8M393.9 19l8 -8M394.6 12.9h8M398.6 8.9v8M394.6 8.9l8 8M394.6 16.9l8 -8M395.3 14.6h8M399.3 10.6v8M395.3 10.6l8 8M395.3 18.6l8 -8M396 13.6h8M400 9.6v8M396 9.6l8 8M396 17.6l8 -8M396.7 13.7h8M400.7 9.7v8M396.7 9.7l8 8M396.7 17.7l8 -8M397.4 14.6h8M401.4 10.6v8M397.4 10.6l8 8M397.4 18.6l8 -8M398.1 13.4h8M402.1 9.4v8M398.1 9.4l8 8M398.1 17.4l8 -8M398.8 13.6h8M402.8 9.6v8M398.8 9.6l8 8M398.8 17.6l8 -8M399.5 14.1h8M403.5 10.1v8M399.5 10.1l8 8M399.5 18.1l8 -8M400.2 14.8h8M404.2 10.8v8M400.2 10.8l8 8M400.2 18.8l8 -8M400.9 13.1h8M404.9 9.1v8M400.9 9.1l8 8M400.9 17.1l8 -8M401.6 14.3h8M405.6 10.3v8M401.6 10.3l8 8M401.6 18.3l8 -8M402.3 13.9h8M406.3 9.9v8M402.3 9.9l8 8M402.3 17.9l8 -8M403 13.7h8M407 9.7v8M403 9.7l8 8M403 17.7l8 -8M403.7 13h8M407.7 9v8M403.7 9l8 8M403.7 17l8 -8M404.4 12.8h8M408.4 8.8v8M404.4 8.8l8 8M404.4 16.8l8 -8M405.1 11.9h8M409.1 7.9v8M405.1 7.9l8 8M405.1 15.9l8 -8M405.8 12h8M409.8 8v8M405.8 8l8 8M405.8 16l8 -8M406.5 11.8h8M410.5 7.8v8M406.5 7.8l8 8M406.5 15.8l8 -8M407.2 13.6h8M411.2 9.6v8M407.2 9.6l8 8M407.2 17.6l8 -8M407.9 12.2h8M411.9 8.2v8M407.9 8.2l8 8M407.9 16.2l8 -8M408.6 11.8h8M412.6 7.8v8M408.6 7.8l8 8M408.6 15.8l8 -8M409.3 11.6h8M413.3 7.6v8M409.3 7.6l8 8M409.3 15.6l8 -8M410 13.6h8M414 9.6v8M410 9.6l8 8M410 17.6l8 -8M410.7 13.6h8M414.7 9.6v8M410.7 9.6l8 8M410.7 17.6l8 -8M411.4 13h8M415.4 9v8M411.4 9l8 8M411.4 17l8 -8M412.1 11.8h8M416.1 7.8v8M412.1 7.8l8 8M412.1 15.8l8 -8M412.8 11.6h8M416.8 7.6v8M412.8 7.6l8 8M412.8 15.6l8 -8M413.5 11.7h8M417.5 7.7v8M413.5 7.7l8 8M413.5 15.7l8 -8M414.2 12.1h8M418.2 8.1v8M414.2 8.1l8 8M414.2 16.1l8 -8M414.9 11.2h8M418.9 7.2v8M414.9 7.2l8 8M414.9 15.2l8 -8M415.6 12h8M419.6 8v8M415.6 8l8 8M415.6 16l8 -8M416.3 11.3h8M420.3 7.3v8M416.3 7.3l8 8M416.3 15.3l8 -8M417 13.4h8M421 9.4v8M417 9.4l8 8M417 17.4l8 -8M417.7 13.3h8M421.7 9.3v8M417.7 9.3l8 8M417.7 17.3l8 -8M418.4 12h8M422.4 8v8M418.4 8l8 8M418.4 16l8 -8M419.1 11h8M423.1 7v8M419.1 7l8 8M419.1 15l8 -8M419.8 13.1h8M423.8 9.1v8M419.8 9.1l8 8M419.8 17.1l8 -8M420.5 11.1h8M424.5 7.1v8M420.5 7.1l8 8M420.5 15.1l8 -8M421.2 11.1h8M425.2 7.1v8M421.2 7.1l8 8M421.2 15.1l8 -8M421.9 10h8M425.9 6v8M421.9 6l8 8M421.9 14l8 -8M422.6 11.1h8M426.6 7.1v8M422.6 7.1l8 8M422.6 15.1l8 -8M423.3 11.3h8M427.3 7.3v8M423.3 7.3l8 8M423.3 15.3l8 -8M424 11.3h8M428 7.3v8M424 7.3l8 8M424 15.3l8 -8M424.7 10.3h8M428.7 6.3v8M424.7 6.3l8 8M424.7 14.3l8 -8M425.4 11.2h8M429.4 7.2v8M425.4 7.2l8 8M425.4 15.2l8 -8M426.1 9.5h8M430.1 5.5v8M426.1 5.5l8 8M426.1 13.5l8 -8M426.8 10.3h8M430.8 6.3v8M426.8 6.3l8 8M426.8 14.3l8 -8M427.5 9.7h8M431.5 5.7v8M427.5 5.7l8 8M427.5 13.7l8 -8M428.2 10.6h8M432.2 6.6v8M428.2 6.6l8 8M428.2 14.6l8 -8M428.9 9.4h8M432.9 5.4v8M428.9 5.4l8 8M428.9 13.4l8 -8M429.6 9.2h8M433.6 5.2v8M429.6 5.2l8 8M429.6 13.2l8 -8M430.3 10.1h8M434.3 6.1v8M430.3 6.1l8 8M430.3 14.1l8 -8M431 9.8h8M435 5.8v8M431 5.8l8 8M431 13.8l8 -8M431.7 10.9h8M435.7 6.9v8M431.7 6.9l8 8M431.7 14.9l8 -8M432.4 10.7h8M436.4 6.7v8M432.4 6.7l8 8M432.4 14.7l8 -8M433.1 11.5h8M437.1 7.5v8M433.1 7.5l8 8M433.1 15.5l8 -8M433.8 11.2h8M437.8 7.2v8M433.8 7.2l8 8M433.8 15.2l8 -8M434.5 11.4h8M438.5 7.4v8M434.5 7.4l8 8M434.5 15.4l8 -8M435.2 11.9h8M439.2 7.9v8M435.2 7.9l8 8M435.2 15.9l8 -8M435.9 10.2h8M439.9 6.2v8M435.9 6.2l8 8M435.9 14.2l8 -8M436.6 9.9h8M440.6 5.9v8M436.6 5.9l8 8M436.6 13.9l8 -8M437.3 12.3h8M441.3 8.3v8M437.3 8.3l8 8M437.3 16.3l8 -8M438 9.3h8M442 5.3v8M438 5.3l8 8M438 13.3l8 -8M438.7 11.4h8M442.7 7.4v8M438.7 7.4l8 8M438.7 15.4l8 -8M439.4 11.1h8M443.4 7.1v8M439.4 7.1l8 8M439.4 15.1l8 -8M440.1 8.8h8M444.1 4.8v8M440.1 4.8l8 8M440.1 12.8l8 -8M440.8 11.8h8M444.8 7.8v8M440.8 7.8l8 8M440.8 15.8l8 -8M441.5 12.1h8M445.5 8.1v8M441.5 8.1l8 8M441.5 16.1l8 -8M442.2 11h8M446.2 7v8M442.2 7l8 8M442.2 15l8 -8M442.9 11.4h8M446.9 7.4v8M442.9 7.4l8 8M442.9 15.4l8 -8M443.6 11.7h8M447.6 7.7v8M443.6 7.7l8 8M443.6 15.7l8 -8M444.3 9h8M448.3 5v8M444.3 5l8 8M444.3 13l8 -8M445 10.6h8M449 6.6v8M445 6.6l8 8M445 14.6l8 -8M445.7 10.5h8M449.7 6.5v8M445.7 6.5l8 8M445.7 14.5l8 -8M446.4 11.9h8M450.4 7.9v8M446.4 7.9l8 8M446.4 15.9l8 -8M447.1 11.7h8M451.1 7.7v8M447.1 7.7l8 8M447.1 15.7l8 -8M447.8 11.8h8M451.8 7.8v8M447.8 7.8l8 8M447.8 15.8l8 -8M448.5 10.8h8M452.5 6.8v8M448.5 6.8l8 8M448.5 14.8l8 -8M449.2 12.1h8M453.2 8.1v8M449.2 8.1l8 8M449.2 16.1l8 -8M449.9 11.2h8M453.9 7.2v8M449.9 7.2l8 8M449.9 15.2l8 -8M450.6 11.3h8M454.6 7.3v8M450.6 7.3l8 8M450.6 15.3l8 -8M451.3 9.2h8M455.3 5.2v8M451.3 5.2l8 8M451.3 13.2l8 -8M452 8.2h8M456 4.2v8M452 4.2l8 8M452 12.2l8 -8M452.7 8.7h8M456.7 4.7v8M452.7 4.7l8 8M452.7 12.7l8 -8M453.4 9.7h8M457.4 5.7v8M453.4 5.7l8 8M453.4 13.7l8 -8M454.1 8.5h8M458.1 4.5v8M454.1 4.5l8 8M454.1 12.5l8 -8M454.8 11.9h8M458.8 7.9v8M454.8 7.9l8 8M454.8 15.9l8 -8M455.5 10.6h8M459.5 6.6v8M455.5 6.6l8 8M455.5 14.6l8 -8M456.2 10.9h8M460.2 6.9v8M456.2 6.9l8 8M456.2 14.9l8 -8M456.9 10.9h8M460.9 6.9v8M456.9 6.9l8 8M456.9 14.9l8 -8M457.6 11.2h8M461.6 7.2v8M457.6 7.2l8 8M457.6 15.2l8 -8M458.3 10.2h8M462.3 6.2v8M458.3 6.2l8 8M458.3 14.2l8 -8M459 7.8h8M463 3.8v8M459 3.8l8 8M459 11.8l8 -8M459.7 11.8h8M463.7 7.8v8M459.7 7.8l8 8M459.7 15.8l8 -8M460.4 11.5h8M464.4 7.5v8M460.4 7.5l8 8M460.4 15.5l8 -8M461.1 10.3h8M465.1 6.3v8M461.1 6.3l8 8M461.1 14.3l8 -8M461.8 10.4h8M465.8 6.4v8M461.8 6.4l8 8M461.8 14.4l8 -8M462.5 11h8M466.5 7v8M462.5 7l8 8M462.5 15l8 -8M463.2 8h8M467.2 4v8M463.2 4l8 8M463.2 12l8 -8M463.9 11.4h8M467.9 7.4v8M463.9 7.4l8 8M463.9 15.4l8 -8M464.6 8.9h8M468.6 4.9v8M464.6 4.9l8 8M464.6 12.9l8 -8M465.3 8h8M469.3 4v8M465.3 4l8 8M465.3 12l8 -8M466 8.9h8M470 4.9v8M466 4.9l8 8M466 12.9l8 -8M466.7 11.2h8M470.7 7.2v8M466.7 7.2l8 8M466.7 15.2l8 -8M467.4 8.6h8M471.4 4.6v8M467.4 4.6l8 8M467.4 12.6l8 -8M468.1 11.2h8M472.1 7.2v8M468.1 7.2l8 8M468.1 15.2l8 -8M468.8 12.4h8M472.8 8.4v8M468.8 8.4l8 8M468.8 16.4l8 -8M469.5 10h8M473.5 6v8M469.5 6l8 8M469.5 14l8 -8M470.2 9.4h8M474.2 5.4v8M470.2 5.4l8 8M470.2 13.4l8 -8M470.9 9.9h8M474.9 5.9v8M470.9 5.9l8 8M470.9 13.9l8 -8M471.6 10.8h8M475.6 6.8v8M471.6 6.8l8 8M471.6 14.8l8 -8M472.3 11.2h8M476.3 7.2v8M472.3 7.2l8 8M472.3 15.2l8 -8M473 10.5h8M477 6.5v8M473 6.5l8 8M473 14.5l8 -8M473.7 10.6h8M477.7 6.6v8M473.7 6.6l8 8M473.7 14.6l8 -8M474.4 7.8h8M478.4 3.8v8M474.4 3.8l8 8M474.4 11.8l8 -8M475.1 8.2h8M479.1 4.2v8M475.1 4.2l8 8M475.1 12.2l8 -8M475.8 8.7h8M479.8 4.7v8M475.8 4.7l8 8M475.8 12.7l8 -8M476.5 11h8M480.5 7v8M476.5 7l8 8M476.5 15l8 -8M477.2 8.9h8M481.2 4.9v8M477.2 4.9l8 8M477.2 12.9l8 -8M477.9 10.1h8M481.9 6.1v8M477.9 6.1l8 8M477.9 14.1l8 -8M478.6 7.5h8M482.6 3.5v8M478.6 3.5l8 8M478.6 11.5l8 -8M479.3 7.7h8M483.3 3.7v8M479.3 3.7l8 8M479.3 11.7l8 -8M480 8.6h8M484 4.6v8M480 4.6l8 8M480 12.6l8 -8M480.7 10.5h8M484.7 6.5v8M480.7 6.5l8 8M480.7 14.5l8 -8M481.4 10.6h8M485.4 6.6v8M481.4 6.6l8 8M481.4 14.6l8 -8M482.1 10.5h8M486.1 6.5v8M482.1 6.5l8 8M482.1 14.5l8 -8M482.8 8.7h8M486.8 4.7v8M482.8 4.7l8 8M482.8 12.7l8 -8M483.5 9.7h8M487.5 5.7v8M483.5 5.7l8 8M483.5 13.7l8 -8M484.2 9.4h8M488.2 5.4v8M484.2 5.4l8 8M484.2 13.4l8 -8M484.9 9.4h8M488.9 5.4v8M484.9 5.4l8 8M484.9 13.4l8 -8M485.6 7.8h8M489.6 3.8v8M485.6 3.8l8 8M485.6 11.8l8 -8M486.3 11.3h8M490.3 7.3v8M486.3 7.3l8 8M486.3 15.3l8 -8M487 8.2h8M491 4.2v8M487 4.2l8 8M487 12.2l8 -8M487.7 11.6h8M491.7 7.6v8M487.7 7.6l8 8M487.7 15.6l8 -8M488.4 11.4h8M492.4 7.4v8M488.4 7.4l8 8M488.4 15.4l8 -8M489.1 7.3h8M493.1 3.3v8M489.1 3.3l8 8M489.1 11.3l8 -8M489.8 9.3h8M493.8 5.3v8M489.8 5.3l8 8M489.8 13.3l8 -8M490.5 10.8h8M494.5 6.8v8M490.5 6.8l8 8M490.5 14.8l8 -8M491.2 11.5h8M495.2 7.5v8M491.2 7.5l8 8M491.2 15.5l8 -8M491.9 9.2h8M495.9 5.2v8M491.9 5.2l8 8M491.9 13.2l8 -8M492.6 8.3h8M496.6 4.3v8M492.6 4.3l8 8M492.6 12.3l8 -8M493.3 8.1h8M497.3 4.1v8M493.3 4.1l8 8M493.3 12.1l8 -8M494 11.3h8M498 7.3v8M494 7.3l8 8M494 15.3l8 -8M494.7 8h8M498.7 4v8M494.7 4l8 8M494.7 12l8 -8M495.4 9.6h8M499.4 5.6v8M495.4 5.6l8 8M495.4 13.6l8 -8M496.1 7.7h8M500.1 3.7v8M496.1 3.7l8 8M496.1 11.7l8 -8M496.8 9.4h8M500.8 5.4v8M496.8 5.4l8 8M496.8 13.4l8 -8M497.5 11.2h8M501.5 7.2v8M497.5 7.2l8 8M497.5 15.2l8 -8M498.2 7.6h8M502.2 3.6v8M498.2 3.6l8 8M498.2 11.6l8 -8M498.9 10.6h8M502.9 6.6v8M498.9 6.6l8 8M498.9 14.6l8 -8M499.6 9.2h8M503.6 5.2v8M499.6 5.2l8 8M499.6 13.2l8 -8M500.3 10.8h8M504.3 6.8v8M500.3 6.8l8 8M500.3 14.8l8 -8M501 10h8M505 6v8M501 6l8 8M501 14l8 -8M501.7 8h8M505.7 4v8M501.7 4l8 8M501.7 12l8 -8M502.4 10.8h8M506.4 6.8v8M502.4 6.8l8 8M502.4 14.8l8 -8M503.1 9h8M507.1 5v8M503.1 5l8 8M503.1 13l8 -8M503.8 7h8M507.8 3v8M503.8 3l8 8M503.8 11l8 -8M504.5 6.9h8M508.5 2.9v8M504.5 2.9l8 8M504.5 10.9l8 -8M505.2 9h8M509.2 5v8M505.2 5l8 8M505.2 13l8 -8M505.9 8.8h8M509.9 4.8v8M505.9 4.8l8 8M505.9 12.8l8 -8M506.6 8.2h8M510.6 4.2v8M506.6 4.2l8 8M506.6 12.2l8 -8M507.3 7.5h8M511.3 3.5v8M507.3 3.5l8 8M507.3 11.5l8 -8M508 8.3h8M512 4.3v8M508 4.3l8 8M508 12.3l8 -8M508.7 8.2h8M512.7 4.2v8M508.7 4.2l8 8M508.7 12.2l8 -8M509.4 10.3h8M513.4 6.3v8M509.4 6.3l8 8M509.4 14.3l8 -8M510.1 6.8h8M514.1 2.8v8M510.1 2.8l8 8M510.1 10.8l8 -8M510.8 9.9h8M514.8 5.9v8M510.8 5.9l8 8M510.8 13.9l8 -8M511.5 10.3h8M515.5 6.3v8M511.5 6.3l8 8M511.5 14.3l8 -8M512.2 7.3h8M516.2 3.3v8M512.2 3.3l8 8M512.2 11.3l8 -8M512.9 10.6h8M516.9 6.6v8M512.9 6.6l8 8M512.9 14.6l8 -8M513.6 9.7h8M517.6 5.7v8M513.6 5.7l8 8M513.6 13.7l8 -8M514.3 10.4h8M518.3 6.4v8M514.3 6.4l8 8M514.3 14.4l8 -8M515 7.9h8M519 3.9v8M515 3.9l8 8M515 11.9l8 -8M515.7 8.2h8M519.7 4.2v8M515.7 4.2l8 8M515.7 12.2l8 -8M516.4 8.3h8M520.4 4.3v8M516.4 4.3l8 8M516.4 12.3l8 -8M517.1 10.8h8M521.1 6.8v8M517.1 6.8l8 8M517.1 14.8l8 -8M517.8 9.2h8M521.8 5.2v8M517.8 5.2l8 8M517.8 13.2l8 -8M518.5 8.3h8M522.5 4.3v8M518.5 4.3l8 8M518.5 12.3l8 -8M519.2 8.6h8M523.2 4.6v8M519.2 4.6l8 8M519.2 12.6l8 -8M519.9 8h8M523.9 4v8M519.9 4l8 8M519.9 12l8 -8M540.5 8h8M544.5 4v8M540.5 4l8 8M540.5 12l8 -8M543.1 7.8h8M547.1 3.8v8M543.1 3.8l8 8M543.1 11.8l8 -8M542.2 8.8h8M546.2 4.8v8M542.2 4.8l8 8M542.2 12.8l8 -8M538.3 9.3h8M542.3 5.3v8M538.3 5.3l8 8M538.3 13.3l8 -8M538.1 9h8M542.1 5v8M538.1 5l8 8M538.1 13l8 -8M538.4 7.8h8M542.4 3.8v8M538.4 3.8l8 8M538.4 11.8l8 -8M541.3 10.4h8M545.3 6.4v8M541.3 6.4l8 8M541.3 14.4l8 -8M538.8 8.3h8M542.8 4.3v8M538.8 4.3l8 8M538.8 12.3l8 -8M542.9 10.8h8M546.9 6.8v8M542.9 6.8l8 8M542.9 14.8l8 -8M542.5 8.9h8M546.5 4.9v8M542.5 4.9l8 8M542.5 12.9l8 -8M537.8 7.5h8M541.8 3.5v8M537.8 3.5l8 8M537.8 11.5l8 -8M537.8 11h8M541.8 7v8M537.8 7l8 8M537.8 15l8 -8M546 7.5h8M550 3.5v8M546 3.5l8 8M546 11.5l8 -8M546 11h8M550 7v8M546 7l8 8M546 15l8 -8M398 18h8M402 14v8M398 14l8 8M398 22l8 -8M467.5 15.5h8M471.5 11.5v8M467.5 11.5l8 8M467.5 19.5l8 -8"/>
</g>
<g clip-path="url(#c1)">
<polygon fill="#000" points="144.5,83.1 146.5,83.3 148.5,83.5 150.5,83.8 152.5,84.2 154.5,84.6 156.5,85 158.5,85.4 160.5,85.8 162.5,86.1 164.5,86.4 166.5,86.7 168.5,87 170.5,87.2 172.5,87.5 174.5,87.7 176.5,87.9 178.5,88 180.5,88.2 182.5,88.1 184.5,88 186.5,88 188.5,87.9 190.5,87.9 192.5,87.8 194.5,87.7 196.5,87.8 198.5,87.9 200.5,88 202.5,88.1 204.5,88.2 206.5,88.3 208.5,88.4 210.5,88.5 212.5,88.6 214.5,88.7 216.5,88.9 218.5,89.2 220.5,89.5 222.5,89.8 224.5,90.1 226.5,90.4 228.5,90.7 230.5,91 232.5,91.3 234.5,91.6 236.5,91.8 238.5,91.8 240.5,91.9 242.5,92 244.5,92.1 246.5,92.2 248.5,92.2 250.5,92.3 252.5,92.4 254.5,92.5 256.5,92.6 258.5,92.8 260.5,92.9 262.5,93 264.5,93.2 266.5,93.3 268.5,93.5 270.5,93.6 272.5,93.8 274.5,93.9 276.5,94.1 278.5,94.2 280.5,94.4 282.5,94.5 284.5,94.7 286.5,94.8 288.5,95 290.5,95.1 292.5,95.3 294.5,95.4 296.5,95.6 298.5,95.7 300.5,95.9 302.5,96 304.5,96.2 306.5,96.3 308.5,96.5 310.5,96.7 312.5,96.8 314.5,97 316.5,97.1 318.5,97.2 320.5,97.3 322.5,97.4 324.5,97.5 326.5,97.7 328.5,97.8 330.5,97.9 332.5,98 334.5,98.1 336.5,98.2 338.5,98.3 340.5,98.4 342.5,98.6 344.5,98.7 346.5,98.6 348.5,98.6 350.5,98.5 352.5,98.4 354.5,98.3 356.5,98.2 358.5,98.2 360.5,98.1 362.5,98 364.5,97.9 366.5,97.8 368.5,97.8 370.5,97.7 372.5,97.6 374.5,97.5 376.5,97.7 378.5,97.9 380.5,98.1 382.5,98.3 384.5,98.5 386.5,98.8 388.5,99 390.5,99.2 392.5,99.4 394.5,99.6 396.5,99.7 398.5,99.6 400.5,99.6 402.5,99.5 404.5,99.5 406.5,99.4 408.5,99.4 410.5,99.3 412.5,99.3 414.5,99.2 416.5,99.2 418.5,99.1 420.5,99.1 422.5,99 424.5,99 426.5,98.9 428.5,98.9 430.5,98.8 432.5,98.8 434.5,98.7 436.5,98.8 438.5,98.8 440.5,98.9 442.5,99 444.5,99 446.5,99.1 448.5,99.2 450.5,99.2 452.5,99.3 454.5,99.4 456.5,99.4 458.5,99.5 460.5,99.5 462.5,99.6 464.5,99.7 466.5,99.8 468.5,99.9 470.5,100 472.5,100.1 474.5,100.2 476.5,100.4 478.5,100.5 480.5,100.6 482.5,100.7 484.5,100.8 486.5,100.9 488.5,101 490.5,101.1 492.5,101.3 494.5,101.4 496.5,101.5 498.5,101.7 500.5,101.9 502.5,102.1 504.5,102.3 506.5,102.4 508.5,102.6 510.5,102.8 512.5,103 514.5,103.2 516.5,103.2 518.5,103.2 520.5,103.2 522.5,103.2 522.5,112.9 520.5,112.4 518.5,111.9 516.5,111.5 514.5,111.1 512.5,111 510.5,110.9 508.5,110.7 506.5,110.6 504.5,110.5 502.5,110.4 500.5,110.3 498.5,110.2 496.5,110.1 494.5,110 492.5,109.9 490.5,109.9 488.5,109.8 486.5,109.8 484.5,109.8 482.5,109.7 480.5,109.7 478.5,109.6 476.5,109.6 474.5,109.5 472.5,109.5 470.5,109.4 468.5,109.4 466.5,109.3 464.5,109.3 462.5,109.2 460.5,109.1 458.5,109.1 456.5,109 454.5,109 452.5,108.9 450.5,108.8 448.5,108.8 446.5,108.7 444.5,108.6 442.5,108.5 440.5,108.5 438.5,108.4 436.5,108.3 434.5,108.3 432.5,108.4 430.5,108.4 428.5,108.5 426.5,108.5 424.5,108.6 422.5,108.6 420.5,108.7 418.5,108.7 416.5,108.8 414.5,108.8 412.5,108.9 410.5,108.9 408.5,109 406.5,109 404.5,109.1 402.5,109.1 400.5,109.2 398.5,109.2 396.5,109.3 394.5,109.2 392.5,109 390.5,108.7 388.5,108.5 386.5,108.2 384.5,108 382.5,107.7 380.5,107.5 378.5,107.2 376.5,107 374.5,106.8 372.5,106.8 370.5,106.7 368.5,106.7 366.5,106.7 364.5,106.6 362.5,106.6 360.5,106.6 358.5,106.5 356.5,106.5 354.5,106.5 352.5,106.4 350.5,106.4 348.5,106.4 346.5,106.3 344.5,106.3 342.5,106.1 340.5,106 338.5,105.9 336.5,105.7 334.5,105.6 332.5,105.5 330.5,105.3 328.5,105.2 326.5,105.1 324.5,104.9 322.5,104.8 320.5,104.7 318.5,104.5 316.5,104.4 314.5,104.2 312.5,104 310.5,103.8 308.5,103.6 306.5,103.5 304.5,103.2 302.5,103 300.5,102.8 298.5,102.6 296.5,102.5 294.5,102.2 292.5,102 290.5,101.8 288.5,101.6 286.5,101.5 284.5,101.3 282.5,101.2 280.5,101.1 278.5,101 276.5,100.9 274.5,100.8 272.5,100.7 270.5,100.6 268.5,100.5 266.5,100.4 264.5,100.3 262.5,100.2 260.5,100.1 258.5,100 256.5,99.9 254.5,99.8 252.5,99.6 250.5,99.5 248.5,99.3 246.5,99.2 244.5,99 242.5,98.9 240.5,98.7 238.5,98.6 236.5,98.4 234.5,98.2 232.5,97.9 230.5,97.6 228.5,97.3 226.5,97 224.5,96.7 222.5,96.4 220.5,96.1 218.5,95.8 216.5,95.5 214.5,95.3 212.5,95.1 210.5,95 208.5,94.8 206.5,94.7 204.5,94.5 202.5,94.4 200.5,94.2 198.5,94.1 196.5,93.9 194.5,93.8 192.5,93.9 190.5,94 188.5,94 186.5,94.1 184.5,94.1 182.5,94.2 180.5,94.3 178.5,94.2 176.5,94.1 174.5,94 172.5,93.9 170.5,93.8 168.5,93.5 166.5,93.1 164.5,92.7 162.5,92.3 160.5,91.9 158.5,91.4 156.5,90.9 154.5,90.4 152.5,89.9 150.5,89.4 148.5,88.7 146.5,88 144.5,87.3"/>
<path fill="none" stroke="#000" stroke-width="1" d="M140.5 84.2h8M144.5 80.2v8M140.5 80.2l8 8M140.5 88.2l8 -8M141.2 86.4h8M145.2 82.4v8M141.2 82.4l8 8M141.2 90.4l8 -8M141.9 84.6h8M145.9 80.6v8M141.9 80.6l8 8M141.9 88.6l8 -8M142.6 85.6h8M146.6 81.6v8M142.6 81.6l8 8M142.6 89.6l8 -8M143.3 85.4h8M147.3 81.4v8M143.3 81.4l8 8M143.3 89.4l8 -8M144 85.4h8M148 81.4v8M144 81.4l8 8M144 89.4l8 -8M144.7 87h8M148.7 83v8M144.7 83l8 8M144.7 91l8 -8M145.4 88h8M149.4 84v8M145.4 84l8 8M145.4 92l8 -8M146.1 85.7h8M150.1 81.7v8M146.1 81.7l8 8M146.1 89.7l8 -8M146.8 87.2h8M150.8 83.2v8M146.8 83.2l8 8M146.8 91.2l8 -8M147.5 86.1h8M151.5 82.1v8M147.5 82.1l8 8M147.5 90.1l8 -8M148.2 87.2h8M152.2 83.2v8M148.2 83.2l8 8M148.2 91.2l8 -8M148.9 86.8h8M152.9 82.8v8M148.9 82.8l8 8M148.9 90.8l8 -8M149.6 86.1h8M153.6 82.1v8M149.6 82.1l8 8M149.6 90.1l8 -8M150.3 86.2h8M154.3 82.2v8M150.3 82.2l8 8M150.3 90.2l8 -8M151 86.5h8M155 82.5v8M151 82.5l8 8M151 90.5l8 -8M151.7 89.4h8M155.7 85.4v8M151.7 85.4l8 8M151.7 93.4l8 -8M152.4 87.9h8M156.4 83.9v8M152.4 83.9l8 8M152.4 91.9l8 -8M153.1 87h8M157.1 83v8M153.1 83l8 8M153.1 91l8 -8M153.8 89.9h8M157.8 85.9v8M153.8 85.9l8 8M153.8 93.9l8 -8M154.5 90.4h8M158.5 86.4v8M154.5 86.4l8 8M154.5 94.4l8 -8M155.2 88.4h8M159.2 84.4v8M155.2 84.4l8 8M155.2 92.4l8 -8M155.9 87.3h8M159.9 83.3v8M155.9 83.3l8 8M155.9 91.3l8 -8M156.6 87.6h8M160.6 83.6v8M156.6 83.6l8 8M156.6 91.6l8 -8M157.3 87.3h8M161.3 83.3v8M157.3 83.3l8 8M157.3 91.3l8 -8M158 88.4h8M162 84.4v8M158 84.4l8 8M158 92.4l8 -8M158.7 87.5h8M162.7 83.5v8M158.7 83.5l8 8M158.7 91.5l8 -8M159.4 88.2h8M163.4 84.2v8M159.4 84.2l8 8M159.4 92.2l8 -8M160.1 88.4h8M164.1 84.4v8M160.1 84.4l8 8M160.1 92.4l8 -8M160.8 89.9h8M164.8 85.9v8M160.8 85.9l8 8M160.8 93.9l8 -8M161.5 91.4h8M165.5 87.4v8M161.5 87.4l8 8M161.5 95.4l8 -8M162.2 90.9h8M166.2 86.9v8M162.2 86.9l8 8M162.2 94.9l8 -8M162.9 89.6h8M166.9 85.6v8M162.9 85.6l8 8M162.9 93.6l8 -8M163.6 89.7h8M167.6 85.7v8M163.6 85.7l8 8M163.6 93.7l8 -8M164.3 90.3h8M168.3 86.3v8M164.3 86.3l8 8M164.3 94.3l8 -8M165 89.8h8M169 85.8v8M165 85.8l8 8M165 93.8l8 -8M165.7 89.7h8M169.7 85.7v8M165.7 85.7l8 8M165.7 93.7l8 -8M166.4 88.5h8M170.4 84.5v8M166.4 84.5l8 8M166.4 92.5l8 -8M167.1 89.6h8M171.1 85.6v8M167.1 85.6l8 8M167.1 93.6l8 -8M167.8 92.7h8M171.8 88.7v8M167.8 88.7l8 8M167.8 96.7l8 -8M168.5 89h8M172.5 85v8M168.5 85l8 8M168.5 93l8 -8M169.2 90.8h8M173.2 86.8v8M169.2 86.8l8 8M169.2 94.8l8 -8M169.9 91.4h8M173.9 87.4v8M169.9 87.4l8 8M169.9 95.4l8 -8M170.6 92.4h8M174.6 88.4v8M170.6 88.4l8 8M170.6 96.4l8 -8M171.3 89.7h8M175.3 85.7v8M171.3 85.7l8 8M171.3 93.7l8 -8M172 90h8M176 86v8M172 86l8 8M172 94l8 -8M172.7 89.9h8M176.7 85.9v8M172.7 85.9l8 8M172.7 93.9l8 -8M173.4 90.6h8M177.4 86.6v8M173.4 86.6l8 8M173.4 94.6l8 -8M174.1 90.9h8M178.1 86.9v8M174.1 86.9l8 8M174.1 94.9l8 -8M174.8 93h8M178.8 89v8M174.8 89l8 8M174.8 97l8 -8M175.5 92.7h8M179.5 88.7v8M175.5 88.7l8 8M175.5 96.7l8 -8M176.2 92.8h8M180.2 88.8v8M176.2 88.8l8 8M176.2 96.8l8 -8M176.9 89.3h8M180.9 85.3v8M176.9 85.3l8 8M176.9 93.3l8 -8M177.6 89.3h8M181.6 85.3v8M177.6 85.3l8 8M177.6 93.3l8 -8M178.3 92h8M182.3 88v8M178.3 88l8 8M178.3 96l8 -8M179 92.8h8M183 88.8v8M179 88.8l8 8M179 96.8l8 -8M179.7 91h8M183.7 87v8M179.7 87l8 8M179.7 95l8 -8M180.4 91.5h8M184.4 87.5v8M180.4 87.5l8 8M180.4 95.5l8 -8M181.1 89h8M185.1 85v8M181.1 85l8 8M181.1 93l8 -8M181.8 90.6h8M185.8 86.6v8M181.8 86.6l8 8M181.8 94.6l8 -8M182.5 92.8h8M186.5 88.8v8M182.5 88.8l8 8M182.5 96.8l8 -8M183.2 92.3h8M187.2 88.3v8M183.2 88.3l8 8M183.2 96.3l8 -8M183.9 92.4h8M187.9 88.4v8M183.9 88.4l8 8M183.9 96.4l8 -8M184.6 92.9h8M188.6 88.9v8M184.6 88.9l8 8M184.6 96.9l8 -8M185.3 89.9h8M189.3 85.9v8M185.3 85.9l8 8M185.3 93.9l8 -8M186 89.3h8M190 85.3v8M186 85.3l8 8M186 93.3l8 -8M186.7 89.5h8M190.7 85.5v8M186.7 85.5l8 8M186.7 93.5l8 -8M187.4 91h8M191.4 87v8M187.4 87l8 8M187.4 95l8 -8M188.1 91.6h8M192.1 87.6v8M188.1 87.6l8 8M188.1 95.6l8 -8M188.8 92.6h8M192.8 88.6v8M188.8 88.6l8 8M188.8 96.6l8 -8M189.5 91.7h8M193.5 87.7v8M189.5 87.7l8 8M189.5 95.7l8 -8M190.2 91.4h8M194.2 87.4v8M190.2 87.4l8 8M190.2 95.4l8 -8M190.9 91.8h8M194.9 87.8v8M190.9 87.8l8 8M190.9 95.8l8 -8M191.6 90.6h8M195.6 86.6v8M191.6 86.6l8 8M191.6 94.6l8 -8M192.3 91h8M196.3 87v8M192.3 87l8 8M192.3 95l8 -8M193 89h8M197 85v8M193 85l8 8M193 93l8 -8M193.7 92.1h8M197.7 88.1v8M193.7 88.1l8 8M193.7 96.1l8 -8M194.4 89.8h8M198.4 85.8v8M194.4 85.8l8 8M194.4 93.8l8 -8M195.1 92.8h8M199.1 88.8v8M195.1 88.8l8 8M195.1 96.8l8 -8M195.8 91.7h8M199.8 87.7v8M195.8 87.7l8 8M195.8 95.7l8 -8M196.5 90.3h8M200.5 86.3v8M196.5 86.3l8 8M196.5 94.3l8 -8M197.2 89.6h8M201.2 85.6v8M197.2 85.6l8 8M197.2 93.6l8 -8M197.9 90.1h8M201.9 86.1v8M197.9 86.1l8 8M197.9 94.1l8 -8M198.6 91.8h8M202.6 87.8v8M198.6 87.8l8 8M198.6 95.8l8 -8M199.3 92.1h8M203.3 88.1v8M199.3 88.1l8 8M199.3 96.1l8 -8M200 89.6h8M204 85.6v8M200 85.6l8 8M200 93.6l8 -8M200.7 89.5h8M204.7 85.5v8M200.7 85.5l8 8M200.7 93.5l8 -8M201.4 91.5h8M205.4 87.5v8M201.4 87.5l8 8M201.4 95.5l8 -8M202.1 91.8h8M206.1 87.8v8M202.1 87.8l8 8M202.1 95.8l8 -8M202.8 91h8M206.8 87v8M202.8 87l8 8M202.8 95l8 -8M203.5 90.3h8M207.5 86.3v8M203.5 86.3l8 8M203.5 94.3l8 -8M204.2 92h8M208.2 88v8M204.2 88l8 8M204.2 96l8 -8M204.9 89.4h8M208.9 85.4v8M204.9 85.4l8 8M204.9 93.4l8 -8M205.6 90.8h8M209.6 86.8v8M205.6 86.8l8 8M205.6 94.8l8 -8M206.3 91.5h8M210.3 87.5v8M206.3 87.5l8 8M206.3 95.5l8 -8M207 93.8h8M211 89.8v8M207 89.8l8 8M207 97.8l8 -8M207.7 92.4h8M211.7 88.4v8M207.7 88.4l8 8M207.7 96.4l8 -8M208.4 93.6h8M212.4 89.6v8M208.4 89.6l8 8M208.4 97.6l8 -8M209.1 91.8h8M213.1 87.8v8M209.1 87.8l8 8M209.1 95.8l8 -8M209.8 90.7h8M213.8 86.7v8M209.8 86.7l8 8M209.8 94.7l8 -8M210.5 90.8h8M214.5 86.8v8M210.5 86.8l8 8M210.5 94.8l8 -8M211.2 94.1h8M215.2 90.1v8M211.2 90.1l8 8M211.2 98.1l8 -8M211.9 93.1h8M215.9 89.1v8M211.9 89.1l8 8M211.9 97.1l8 -8M212.6 91.4h8M216.6 87.4v8M212.6 87.4l8 8M212.6 95.4l8 -8M213.3 90.1h8M217.3 86.1v8M213.3 86.1l8 8M213.3 94.1l8 -8M214 92.4h8M218 88.4v8M214 88.4l8 8M214 96.4l8 -8M214.7 93.4h8M218.7 89.4v8M214.7 89.4l8 8M214.7 97.4l8 -8M215.4 92.3h8M219.4 88.3v8M215.4 88.3l8 8M215.4 96.3l8 -8M216.1 91.6h8M220.1 87.6v8M216.1 87.6l8 8M216.1 95.6l8 -8M216.8 93.6h8M220.8 89.6v8M216.8 89.6l8 8M216.8 97.6l8 -8M217.5 94.9h8M221.5 90.9v8M217.5 90.9l8 8M217.5 98.9l8 -8M218.2 91.8h8M222.2 87.8v8M218.2 87.8l8 8M218.2 95.8l8 -8M218.9 91h8M222.9 87v8M218.9 87l8 8M218.9 95l8 -8M219.6 92.5h8M223.6 88.5v8M219.6 88.5l8 8M219.6 96.5l8 -8M220.3 93h8M224.3 89v8M220.3 89l8 8M220.3 97l8 -8M221 94.3h8M225 90.3v8M221 90.3l8 8M221 98.3l8 -8M221.7 92.2h8M225.7 88.2v8M221.7 88.2l8 8M221.7 96.2l8 -8M222.4 95.1h8M226.4 91.1v8M222.4 91.1l8 8M222.4 99.1l8 -8M223.1 94.9h8M227.1 90.9v8M223.1 90.9l8 8M223.1 98.9l8 -8M223.8 93.9h8M227.8 89.9v8M223.8 89.9l8 8M223.8 97.9l8 -8M224.5 92.7h8M228.5 88.7v8M224.5 88.7l8 8M224.5 96.7l8 -8M225.2 96.3h8M229.2 92.3v8M225.2 92.3l8 8M225.2 100.3l8 -8M225.9 93.4h8M229.9 89.4v8M225.9 89.4l8 8M225.9 97.4l8 -8M226.6 95.8h8M230.6 91.8v8M226.6 91.8l8 8M226.6 99.8l8 -8M227.3 93.2h8M231.3 89.2v8M227.3 89.2l8 8M227.3 97.2l8 -8M228 93.3h8M232 89.3v8M228 89.3l8 8M228 97.3l8 -8M228.7 95.9h8M232.7 91.9v8M228.7 91.9l8 8M228.7 99.9l8 -8M229.4 93.8h8M233.4 89.8v8M229.4 89.8l8 8M229.4 97.8l8 -8M230.1 96.9h8M234.1 92.9v8M230.1 92.9l8 8M230.1 100.9l8 -8M230.8 95h8M234.8 91v8M230.8 91l8 8M230.8 99l8 -8M231.5 93.6h8M235.5 89.6v8M231.5 89.6l8 8M231.5 97.6l8 -8M232.2 93.8h8M236.2 89.8v8M232.2 89.8l8 8M232.2 97.8l8 -8M232.9 94.7h8M236.9 90.7v8M232.9 90.7l8 8M232.9 98.7l8 -8M233.6 95.9h8M237.6 91.9v8M233.6 91.9l8 8M233.6 99.9l8 -8M234.3 97.3h8M238.3 93.3v8M234.3 93.3l8 8M234.3 101.3l8 -8M235 93.6h8M239 89.6v8M235 89.6l8 8M235 97.6l8 -8M235.7 94.8h8M239.7 90.8v8M235.7 90.8l8 8M235.7 98.8l8 -8M236.4 93.9h8M240.4 89.9v8M236.4 89.9l8 8M236.4 97.9l8 -8M237.1 97.6h8M241.1 93.6v8M237.1 93.6l8 8M237.1 101.6l8 -8M237.8 93.7h8M241.8 89.7v8M237.8 89.7l8 8M237.8 97.7l8 -8M238.5 93.3h8M242.5 89.3v8M238.5 89.3l8 8M238.5 97.3l8 -8M239.2 93.3h8M243.2 89.3v8M239.2 89.3l8 8M239.2 97.3l8 -8M239.9 95h8M243.9 91v8M239.9 91l8 8M239.9 99l8 -8M240.6 97.5h8M244.6 93.5v8M240.6 93.5l8 8M240.6 101.5l8 -8M241.3 97.5h8M245.3 93.5v8M241.3 93.5l8 8M241.3 101.5l8 -8M242 96.8h8M246 92.8v8M242 92.8l8 8M242 100.8l8 -8M242.7 98.2h8M246.7 94.2v8M242.7 94.2l8 8M242.7 102.2l8 -8M243.4 97.9h8M247.4 93.9v8M243.4 93.9l8 8M243.4 101.9l8 -8M244.1 94.9h8M248.1 90.9v8M244.1 90.9l8 8M244.1 98.9l8 -8M244.8 94.2h8M248.8 90.2v8M244.8 90.2l8 8M244.8 98.2l8 -8M245.5 98.1h8M249.5 94.1v8M245.5 94.1l8 8M245.5 102.1l8 -8M246.2 97.1h8M250.2 93.1v8M246.2 93.1l8 8M246.2 101.1l8 -8M246.9 93.5h8M250.9 89.5v8M246.9 89.5l8 8M246.9 97.5l8 -8M247.6 96.8h8M251.6 92.8v8M247.6 92.8l8 8M247.6 100.8l8 -8M248.3 95.4h8M252.3 91.4v8M248.3 91.4l8 8M248.3 99.4l8 -8M249 95.4h8M253 91.4v8M249 91.4l8 8M249 99.4l8 -8M249.7 95.2h8M253.7 91.2v8M249.7 91.2l8 8M249.7 99.2l8 -8M250.4 94.4h8M254.4 90.4v8M250.4 90.4l8 8M250.4 98.4l8 -8M251.1 93.5h8M255.1 89.5v8M251.1 89.5l8 8M251.1 97.5l8 -8M251.8 95h8M255.8 91v8M251.8 91l8 8M251.8 99l8 -8M252.5 95.5h8M256.5 91.5v8M252.5 91.5l8 8M252.5 99.5l8 -8M253.2 98.7h8M257.2 94.7v8M253.2 94.7l8 8M253.2 102.7l8 -8M253.9 94.4h8M257.9 90.4v8M253.9 90.4l8 8M253.9 98.4l8 -8M254.6 98.8h8M258.6 94.8v8M254.6 94.8l8 8M254.6 102.8l8 -8M255.3 94.9h8M259.3 90.9v8M255.3 90.9l8 8M255.3 98.9l8 -8M256 95.7h8M260 91.7v8M256 91.7l8 8M256 99.7l8 -8M256.7 98.2h8M260.7 94.2v8M256.7 94.2l8 8M256.7 102.2l8 -8M257.4 98.2h8M261.4 94.2v8M257.4 94.2l8 8M257.4 102.2l8 -8M258.1 96.2h8M262.1 92.2v8M258.1 92.2l8 8M258.1 100.2l8 -8M258.8 94.3h8M262.8 90.3v8M258.8 90.3l8 8M258.8 98.3l8 -8M259.5 96.5h8M263.5 92.5v8M259.5 92.5l8 8M259.5 100.5l8 -8M260.2 96.1h8M264.2 92.1v8M260.2 92.1l8 8M260.2 100.1l8 -8M260.9 98.9h8M264.9 94.9v8M260.9 94.9l8 8M260.9 102.9l8 -8M261.6 95.3h8M265.6 91.3v8M261.6 91.3l8 8M261.6 99.3l8 -8M262.3 96.2h8M266.3 92.2v8M262.3 92.2l8 8M262.3 100.2l8 -8M263 98.9h8M267 94.9v8M263 94.9l8 8M263 102.9l8 -8M263.7 94.6h8M267.7 90.6v8M263.7 90.6l8 8M263.7 98.6l8 -8M264.4 96.5h8M268.4 92.5v8M264.4 92.5l8 8M264.4 100.5l8 -8M265.1 98.6h8M269.1 94.6v8M265.1 94.6l8 8M265.1 102.6l8 -8M265.8 98.4h8M269.8 94.4v8M265.8 94.4l8 8M265.8 102.4l8 -8M266.5 94.8h8M270.5 90.8v8M266.5 90.8l8 8M266.5 98.8l8 -8M267.2 94.9h8M271.2 90.9v8M267.2 90.9l8 8M267.2 98.9l8 -8M267.9 95h8M271.9 91v8M267.9 91l8 8M267.9 99l8 -8M268.6 99.3h8M272.6 95.3v8M268.6 95.3l8 8M268.6 103.3l8 -8M269.3 96.1h8M273.3 92.1v8M269.3 92.1l8 8M269.3 100.1l8 -8M270 98.5h8M274 94.5v8M270 94.5l8 8M270 102.5l8 -8M270.7 99.3h8M274.7 95.3v8M270.7 95.3l8 8M270.7 103.3l8 -8M271.4 96.6h8M275.4 92.6v8M271.4 92.6l8 8M271.4 100.6l8 -8M272.1 96.4h8M276.1 92.4v8M272.1 92.4l8 8M272.1 100.4l8 -8M272.8 99.7h8M276.8 95.7v8M272.8 95.7l8 8M272.8 103.7l8 -8M273.5 98.1h8M277.5 94.1v8M273.5 94.1l8 8M273.5 102.1l8 -8M274.2 96.4h8M278.2 92.4v8M274.2 92.4l8 8M274.2 100.4l8 -8M274.9 98.7h8M278.9 94.7v8M274.9 94.7l8 8M274.9 102.7l8 -8M275.6 96.8h8M279.6 92.8v8M275.6 92.8l8 8M275.6 100.8l8 -8M276.3 96.7h8M280.3 92.7v8M276.3 92.7l8 8M276.3 100.7l8 -8M277 95.4h8M281 91.4v8M277 91.4l8 8M277 99.4l8 -8M277.7 99h8M281.7 95v8M277.7 95l8 8M277.7 103l8 -8M278.4 99.8h8M282.4 95.8v8M278.4 95.8l8 8M278.4 103.8l8 -8M279.1 98.5h8M283.1 94.5v8M279.1 94.5l8 8M279.1 102.5l8 -8M279.8 100h8M283.8 96v8M279.8 96l8 8M279.8 104l8 -8M280.5 95.8h8M284.5 91.8v8M280.5 91.8l8 8M280.5 99.8l8 -8M281.2 96.8h8M285.2 92.8v8M281.2 92.8l8 8M281.2 100.8l8 -8M281.9 98h8M285.9 94v8M281.9 94l8 8M281.9 102l8 -8M282.6 100.3h8M286.6 96.3v8M282.6 96.3l8 8M282.6 104.3l8 -8M283.3 100.3h8M287.3 96.3v8M283.3 96.3l8 8M283.3 104.3l8 -8M284 97.7h8M288 93.7v8M284 93.7l8 8M284 101.7l8 -8M284.7 97.2h8M288.7 93.2v8M284.7 93.2l8 8M284.7 101.2l8 -8M285.4 98.1h8M289.4 94.1v8M285.4 94.1l8 8M285.4 102.1l8 -8M286.1 98.4h8M290.1 94.4v8M286.1 94.4l8 8M286.1 102.4l8 -8M286.8 100.5h8M290.8 96.5v8M286.8 96.5l8 8M286.8 104.5l8 -8M287.5 97.1h8M291.5 93.1v8M287.5 93.1l8 8M287.5 101.1l8 -8M288.2 100.1h8M292.2 96.1v8M288.2 96.1l8 8M288.2 104.1l8 -8M288.9 99.8h8M292.9 95.8v8M288.9 95.8l8 8M288.9 103.8l8 -8M289.6 100.3h8M293.6 96.3v8M289.6 96.3l8 8M289.6 104.3l8 -8M290.3 100.1h8M294.3 96.1v8M290.3 96.1l8 8M290.3 104.1l8 -8M291 99.4h8M295 95.4v8M291 95.4l8 8M291 103.4l8 -8M291.7 98.1h8M295.7 94.1v8M291.7 94.1l8 8M291.7 102.1l8 -8M292.4 98.1h8M296.4 94.1v8M292.4 94.1l8 8M292.4 102.1l8 -8M293.1 98.4h8M297.1 94.4v8M293.1 94.4l8 8M293.1 102.4l8 -8M293.8 100.5h8M297.8 96.5v8M293.8 96.5l8 8M293.8 104.5l8 -8M294.5 97.1h8M298.5 93.1v8M294.5 93.1l8 8M294.5 101.1l8 -8M295.2 97.8h8M299.2 93.8v8M295.2 93.8l8 8M295.2 101.8l8 -8M295.9 100.6h8M299.9 96.6v8M295.9 96.6l8 8M295.9 104.6l8 -8M296.6 98.1h8M300.6 94.1v8M296.6 94.1l8 8M296.6 102.1l8 -8M297.3 97.3h8M301.3 93.3v8M297.3 93.3l8 8M297.3 101.3l8 -8M298 97.2h8M302 93.2v8M298 93.2l8 8M298 101.2l8 -8M298.7 99.8h8M302.7 95.8v8M298.7 95.8l8 8M298.7 103.8l8 -8M299.4 98.7h8M303.4 94.7v8M299.4 94.7l8 8M299.4 102.7l8 -8M300.1 102.1h8M304.1 98.1v8M300.1 98.1l8 8M300.1 106.1l8 -8M300.8 101.7h8M304.8 97.7v8M300.8 97.7l8 8M300.8 105.7l8 -8M301.5 102.3h8M305.5 98.3v8M301.5 98.3l8 8M301.5 106.3l8 -8M302.2 98.7h8M306.2 94.7v8M302.2 94.7l8 8M302.2 102.7l8 -8M302.9 97.8h8M306.9 93.8v8M302.9 93.8l8 8M302.9 101.8l8 -8M303.6 97.9h8M307.6 93.9v8M303.6 93.9l8 8M303.6 101.9l8 -8M304.3 100.1h8M308.3 96.1v8M304.3 96.1l8 8M304.3 104.1l8 -8M305 101.2h8M309 97.2v8M305 97.2l8 8M305 105.2l8 -8M305.7 99.9h8M309.7 95.9v8M305.7 95.9l8 8M305.7 103.9l8 -8M306.4 98.9h8M310.4 94.9v8M306.4 94.9l8 8M306.4 102.9l8 -8M307.1 99.9h8M311.1 95.9v8M307.1 95.9l8 8M307.1 103.9l8 -8M307.8 101h8M311.8 97v8M307.8 97l8 8M307.8 105l8 -8M308.5 101.3h8M312.5 97.3v8M308.5 97.3l8 8M308.5 105.3l8 -8M309.2 101.8h8M313.2 97.8v8M309.2 97.8l8 8M309.2 105.8l8 -8M309.9 102.4h8M313.9 98.4v8M309.9 98.4l8 8M309.9 106.4l8 -8M310.6 101.5h8M314.6 97.5v8M310.6 97.5l8 8M310.6 105.5l8 -8M311.3 98.7h8M315.3 94.7v8M311.3 94.7l8 8M311.3 102.7l8 -8M312 102.5h8M316 98.5v8M312 98.5l8 8M312 106.5l8 -8M312.7 99.7h8M316.7 95.7v8M312.7 95.7l8 8M312.7 103.7l8 -8M313.4 101.2h8M317.4 97.2v8M313.4 97.2l8 8M313.4 105.2l8 -8M314.1 100.2h8M318.1 96.2v8M314.1 96.2l8 8M314.1 104.2l8 -8M314.8 102.2h8M318.8 98.2v8M314.8 98.2l8 8M314.8 106.2l8 -8M315.5 99.3h8M319.5 95.3v8M315.5 95.3l8 8M315.5 103.3l8 -8M316.2 99.6h8M320.2 95.6v8M316.2 95.6l8 8M316.2 103.6l8 -8M316.9 99.6h8M320.9 95.6v8M316.9 95.6l8 8M316.9 103.6l8 -8M317.6 99.2h8M321.6 95.2v8M317.6 95.2l8 8M317.6 103.2l8 -8M318.3 103.2h8M322.3 99.2v8M318.3 99.2l8 8M318.3 107.2l8 -8M319 101.6h8M323 97.6v8M319 97.6l8 8M319 105.6l8 -8M319.7 100.3h8M323.7 96.3v8M319.7 96.3l8 8M319.7 104.3l8 -8M320.4 100.7h8M324.4 96.7v8M320.4 96.7l8 8M320.4 104.7l8 -8M321.1 103.9h8M325.1 99.9v8M321.1 99.9l8 8M321.1 107.9l8 -8M321.8 101.4h8M325.8 97.4v8M321.8 97.4l8 8M321.8 105.4l8 -8M322.5 99.9h8M326.5 95.9v8M322.5 95.9l8 8M322.5 103.9l8 -8M323.2 103.1h8M327.2 99.1v8M323.2 99.1l8 8M323.2 107.1l8 -8M323.9 102.3h8M327.9 98.3v8M323.9 98.3l8 8M323.9 106.3l8 -8M324.6 104.2h8M328.6 100.2v8M324.6 100.2l8 8M324.6 108.2l8 -8M325.3 99.4h8M329.3 95.4v8M325.3 95.4l8 8M325.3 103.4l8 -8M326 101.4h8M330 97.4v8M326 97.4l8 8M326 105.4l8 -8M326.7 103.4h8M330.7 99.4v8M326.7 99.4l8 8M326.7 107.4l8 -8M327.4 103.5h8M331.4 99.5v8M327.4 99.5l8 8M327.4 107.5l8 -8M328.1 104h8M332.1 100v8M328.1 100l8 8M328.1 108l8 -8M328.8 99.2h8M332.8 95.2v8M328.8 95.2l8 8M328.8 103.2l8 -8M329.5 100.7h8M333.5 96.7v8M329.5 96.7l8 8M329.5 104.7l8 -8M330.2 99.7h8M334.2 95.7v8M330.2 95.7l8 8M330.2 103.7l8 -8M330.9 100.2h8M334.9 96.2v8M330.9 96.2l8 8M330.9 104.2l8 -8M331.6 104.5h8M335.6 100.5v8M331.6 100.5l8 8M331.6 108.5l8 -8M332.3 102.4h8M336.3 98.4v8M332.3 98.4l8 8M332.3 106.4l8 -8M333 104.4h8M337 100.4v8M333 100.4l8 8M333 108.4l8 -8M333.7 101.3h8M337.7 97.3v8M333.7 97.3l8 8M333.7 105.3l8 -8M334.4 104.1h8M338.4 100.1v8M334.4 100.1l8 8M334.4 108.1l8 -8M335.1 101.9h8M339.1 97.9v8M335.1 97.9l8 8M335.1 105.9l8 -8M335.8 100.8h8M339.8 96.8v8M335.8 96.8l8 8M335.8 104.8l8 -8M336.5 103.8h8M340.5 99.8v8M336.5 99.8l8 8M336.5 107.8l8 -8M337.2 104.7h8M341.2 100.7v8M337.2 100.7l8 8M337.2 108.7l8 -8M337.9 100.1h8M341.9 96.1v8M337.9 96.1l8 8M337.9 104.1l8 -8M338.6 102.9h8M342.6 98.9v8M338.6 98.9l8 8M338.6 106.9l8 -8M339.3 103.1h8M343.3 99.1v8M339.3 99.1l8 8M339.3 107.1l8 -8M340 100.9h8M344 96.9v8M340 96.9l8 8M340 104.9l8 -8M340.7 101.7h8M344.7 97.7v8M340.7 97.7l8 8M340.7 105.7l8 -8M341.4 100.5h8M345.4 96.5v8M341.4 96.5l8 8M341.4 104.5l8 -8M342.1 100.8h8M346.1 96.8v8M342.1 96.8l8 8M342.1 104.8l8 -8M342.8 101.1h8M346.8 97.1v8M342.8 97.1l8 8M342.8 105.1l8 -8M343.5 103h8M347.5 99v8M343.5 99l8 8M343.5 107l8 -8M344.2 103.3h8M348.2 99.3v8M344.2 99.3l8 8M344.2 107.3l8 -8M344.9 100.7h8M348.9 96.7v8M344.9 96.7l8 8M344.9 104.7l8 -8M345.6 99.6h8M349.6 95.6v8M345.6 95.6l8 8M345.6 103.6l8 -8M346.3 101.4h8M350.3 97.4v8M346.3 97.4l8 8M346.3 105.4l8 -8M347 103.5h8M351 99.5v8M347 99.5l8 8M347 107.5l8 -8M347.7 100.5h8M351.7 96.5v8M347.7 96.5l8 8M347.7 104.5l8 -8M348.4 101.3h8M352.4 97.3v8M348.4 97.3l8 8M348.4 105.3l8 -8M349.1 100.6h8M353.1 96.6v8M349.1 96.6l8 8M349.1 104.6l8 -8M349.8 104.2h8M353.8 100.2v8M349.8 100.2l8 8M349.8 108.2l8 -8M350.5 102.7h8M354.5 98.7v8M350.5 98.7l8 8M350.5 106.7l8 -8M351.2 99.7h8M355.2 95.7v8M351.2 95.7l8 8M351.2 103.7l8 -8M351.9 99.9h8M355.9 95.9v8M351.9 95.9l8 8M351.9 103.9l8 -8M352.6 101.7h8M356.6 97.7v8M352.6 97.7l8 8M352.6 105.7l8 -8M353.3 102.7h8M357.3 98.7v8M353.3 98.7l8 8M353.3 106.7l8 -8M354 103.2h8M358 99.2v8M354 99.2l8 8M354 107.2l8 -8M354.7 99.7h8M358.7 95.7v8M354.7 95.7l8 8M354.7 103.7l8 -8M355.4 100.2h8M359.4 96.2v8M355.4 96.2l8 8M355.4 104.2l8 -8M356.1 103.6h8M360.1 99.6v8M356.1 99.6l8 8M356.1 107.6l8 -8M356.8 101.7h8M360.8 97.7v8M356.8 97.7l8 8M356.8 105.7l8 -8M357.5 100.9h8M361.5 96.9v8M357.5 96.9l8 8M357.5 104.9l8 -8M358.2 101h8M362.2 97v8M358.2 97l8 8M358.2 105l8 -8M358.9 105.3h8M362.9 101.3v8M358.9 101.3l8 8M358.9 109.3l8 -8M359.6 101h8M363.6 97v8M359.6 97l8 8M359.6 105l8 -8M360.3 102.7h8M364.3 98.7v8M360.3 98.7l8 8M360.3 106.7l8 -8M361 101.3h8M365 97.3v8M361 97.3l8 8M361 105.3l8 -8M361.7 101.7h8M365.7 97.7v8M361.7 97.7l8 8M361.7 105.7l8 -8M362.4 104.7h8M366.4 100.7v8M362.4 100.7l8 8M362.4 108.7l8 -8M363.1 105.6h8M367.1 101.6v8M363.1 101.6l8 8M363.1 109.6l8 -8M363.8 101.3h8M367.8 97.3v8M363.8 97.3l8 8M363.8 105.3l8 -8M364.5 100.1h8M368.5 96.1v8M364.5 96.1l8 8M364.5 104.1l8 -8M365.2 103.8h8M369.2 99.8v8M365.2 99.8l8 8M365.2 107.8l8 -8M365.9 100.1h8M369.9 96.1v8M365.9 96.1l8 8M365.9 104.1l8 -8M366.6 98.7h8M370.6 94.7v8M366.6 94.7l8 8M366.6 102.7l8 -8M367.3 105h8M371.3 101v8M367.3 101l8 8M367.3 109l8 -8M368 101.6h8M372 97.6v8M368 97.6l8 8M368 105.6l8 -8M368.7 104.5h8M372.7 100.5v8M368.7 100.5l8 8M368.7 108.5l8 -8M369.4 101.5h8M373.4 97.5v8M369.4 97.5l8 8M369.4 105.5l8 -8M370.1 104.9h8M374.1 100.9v8M370.1 100.9l8 8M370.1 108.9l8 -8M370.8 101.9h8M374.8 97.9v8M370.8 97.9l8 8M370.8 105.9l8 -8M371.5 99.7h8M375.5 95.7v8M371.5 95.7l8 8M371.5 103.7l8 -8M372.2 98.7h8M376.2 94.7v8M372.2 94.7l8 8M372.2 102.7l8 -8M372.9 102.8h8M376.9 98.8v8M372.9 98.8l8 8M372.9 106.8l8 -8M373.6 103.5h8M377.6 99.5v8M373.6 99.5l8 8M373.6 107.5l8 -8M374.3 105.5h8M378.3 101.5v8M374.3 101.5l8 8M374.3 109.5l8 -8M375 99.6h8M379 95.6v8M375 95.6l8 8M375 103.6l8 -8M375.7 103.6h8M379.7 99.6v8M375.7 99.6l8 8M375.7 107.6l8 -8M376.4 101.8h8M380.4 97.8v8M376.4 97.8l8 8M376.4 105.8l8 -8M377.1 102.9h8M381.1 98.9v8M377.1 98.9l8 8M377.1 106.9l8 -8M377.8 100.3h8M381.8 96.3v8M377.8 96.3l8 8M377.8 104.3l8 -8M378.5 101.4h8M382.5 97.4v8M378.5 97.4l8 8M378.5 105.4l8 -8M379.2 103.3h8M383.2 99.3v8M379.2 99.3l8 8M379.2 107.3l8 -8M379.9 106.4h8M383.9 102.4v8M379.9 102.4l8 8M379.9 110.4l8 -8M380.6 100.4h8M384.6 96.4v8M380.6 96.4l8 8M380.6 104.4l8 -8M381.3 103.3h8M385.3 99.3v8M381.3 99.3l8 8M381.3 107.3l8 -8M382 105.7h8M386 101.7v8M382 101.7l8 8M382 109.7l8 -8M382.7 107h8M386.7 103v8M382.7 103l8 8M382.7 111l8 -8M383.4 101.3h8M387.4 97.3v8M383.4 97.3l8 8M383.4 105.3l8 -8M384.1 100.9h8M388.1 96.9v8M384.1 96.9l8 8M384.1 104.9l8 -8M384.8 107.1h8M388.8 103.1v8M384.8 103.1l8 8M384.8 111.1l8 -8M385.5 107.4h8M389.5 103.4v8M385.5 103.4l8 8M385.5 111.4l8 -8M386.2 103.8h8M390.2 99.8v8M386.2 99.8l8 8M386.2 107.8l8 -8M386.9 100.7h8M390.9 96.7v8M386.9 96.7l8 8M386.9 104.7l8 -8M387.6 107.3h8M391.6 103.3v8M387.6 103.3l8 8M387.6 111.3l8 -8M388.3 103.3h8M392.3 99.3v8M388.3 99.3l8 8M388.3 107.3l8 -8M389 107.3h8M393 103.3v8M389 103.3l8 8M389 111.3l8 -8M389.7 105.3h8M393.7 101.3v8M389.7 101.3l8 8M389.7 109.3l8 -8M390.4 106.9h8M394.4 102.9v8M390.4 102.9l8 8M390.4 110.9l8 -8M391.1 101.9h8M395.1 97.9v8M391.1 97.9l8 8M391.1 105.9l8 -8M391.8 106.7h8M395.8 102.7v8M391.8 102.7l8 8M391.8 110.7l8 -8M392.5 102.4h8M396.5 98.4v8M392.5 98.4l8 8M392.5 106.4l8 -8M393.2 103.7h8M397.2 99.7v8M393.2 99.7l8 8M393.2 107.7l8 -8M393.9 107.1h8M397.9 103.1v8M393.9 103.1l8 8M393.9 111.1l8 -8M394.6 106.9h8M398.6 102.9v8M394.6 102.9l8 8M394.6 110.9l8 -8M395.3 102h8M399.3 98v8M395.3 98l8 8M395.3 106l8 -8M396 102.2h8M400 98.2v8M396 98.2l8 8M396 106.2l8 -8M396.7 103.6h8M400.7 99.6v8M396.7 99.6l8 8M396.7 107.6l8 -8M397.4 104.5h8M401.4 100.5v8M397.4 100.5l8 8M397.4 108.5l8 -8M398.1 103.4h8M402.1 99.4v8M398.1 99.4l8 8M398.1 107.4l8 -8M398.8 101.4h8M402.8 97.4v8M398.8 97.4l8 8M398.8 105.4l8 -8M399.5 102.4h8M403.5 98.4v8M399.5 98.4l8 8M399.5 106.4l8 -8M400.2 106h8M404.2 102v8M400.2 102l8 8M400.2 110l8 -8M400.9 107.3h8M404.9 103.3v8M400.9 103.3l8 8M400.9 111.3l8 -8M401.6 100.7h8M405.6 96.7v8M401.6 96.7l8 8M401.6 104.7l8 -8M402.3 104.7h8M406.3 100.7v8M402.3 100.7l8 8M402.3 108.7l8 -8M403 106.2h8M407 102.2v8M403 102.2l8 8M403 110.2l8 -8M403.7 100.7h8M407.7 96.7v8M403.7 96.7l8 8M403.7 104.7l8 -8M404.4 106.7h8M408.4 102.7v8M404.4 102.7l8 8M404.4 110.7l8 -8M405.1 101.2h8M409.1 97.2v8M405.1 97.2l8 8M405.1 105.2l8 -8M405.8 104.9h8M409.8 100.9v8M405.8 100.9l8 8M405.8 108.9l8 -8M406.5 104.5h8M410.5 100.5v8M406.5 100.5l8 8M406.5 108.5l8 -8M407.2 105.1h8M411.2 101.1v8M407.2 101.1l8 8M407.2 109.1l8 -8M407.9 102.6h8M411.9 98.6v8M407.9 98.6l8 8M407.9 106.6l8 -8M408.6 103.5h8M412.6 99.5v8M408.6 99.5l8 8M408.6 107.5l8 -8M409.3 104.7h8M413.3 100.7v8M409.3 100.7l8 8M409.3 108.7l8 -8M410 103.5h8M414 99.5v8M410 99.5l8 8M410 107.5l8 -8M410.7 105.2h8M414.7 101.2v8M410.7 101.2l8 8M410.7 109.2l8 -8M411.4 103.6h8M415.4 99.6v8M411.4 99.6l8 8M411.4 107.6l8 -8M412.1 103.5h8M416.1 99.5v8M412.1 99.5l8 8M412.1 107.5l8 -8M412.8 100.3h8M416.8 96.3v8M412.8 96.3l8 8M412.8 104.3l8 -8M413.5 104.8h8M417.5 100.8v8M413.5 100.8l8 8M413.5 108.8l8 -8M414.2 103.8h8M418.2 99.8v8M414.2 99.8l8 8M414.2 107.8l8 -8M414.9 101.9h8M418.9 97.9v8M414.9 97.9l8 8M414.9 105.9l8 -8M415.6 105.9h8M419.6 101.9v8M415.6 101.9l8 8M415.6 109.9l8 -8M416.3 106h8M420.3 102v8M416.3 102l8 8M416.3 110l8 -8M417 103.5h8M421 99.5v8M417 99.5l8 8M417 107.5l8 -8M417.7 101.4h8M421.7 97.4v8M417.7 97.4l8 8M417.7 105.4l8 -8M418.4 103.6h8M422.4 99.6v8M418.4 99.6l8 8M418.4 107.6l8 -8M419.1 100.8h8M423.1 96.8v8M419.1 96.8l8 8M419.1 104.8l8 -8M419.8 101h8M423.8 97v8M419.8 97l8 8M419.8 105l8 -8M420.5 103.2h8M424.5 99.2v8M420.5 99.2l8 8M420.5 107.2l8 -8M421.2 100.6h8M425.2 96.6v8M421.2 96.6l8 8M421.2 104.6l8 -8M421.9 103.3h8M425.9 99.3v8M421.9 99.3l8 8M421.9 107.3l8 -8M422.6 103.8h8M426.6 99.8v8M422.6 99.8l8 8M422.6 107.8l8 -8M423.3 100.2h8M427.3 96.2v8M423.3 96.2l8 8M423.3 104.2l8 -8M424 104.7h8M428 100.7v8M424 100.7l8 8M424 108.7l8 -8M424.7 100.5h8M428.7 96.5v8M424.7 96.5l8 8M424.7 104.5l8 -8M425.4 105.4h8M429.4 101.4v8M425.4 101.4l8 8M425.4 109.4l8 -8M426.1 105.7h8M430.1 101.7v8M426.1 101.7l8 8M426.1 109.7l8 -8M426.8 103.7h8M430.8 99.7v8M426.8 99.7l8 8M426.8 107.7l8 -8M427.5 100.2h8M431.5 96.2v8M427.5 96.2l8 8M427.5 104.2l8 -8M428.2 103.6h8M432.2 99.6v8M428.2 99.6l8 8M428.2 107.6l8 -8M428.9 102.6h8M432.9 98.6v8M428.9 98.6l8 8M428.9 106.6l8 -8M429.6 107h8M433.6 103v8M429.6 103l8 8M429.6 111l8 -8M430.3 100.8h8M434.3 96.8v8M430.3 96.8l8 8M430.3 104.8l8 -8M431 106.2h8M435 102.2v8M431 102.2l8 8M431 110.2l8 -8M431.7 107.3h8M435.7 103.3v8M431.7 103.3l8 8M431.7 111.3l8 -8M432.4 105.3h8M436.4 101.3v8M432.4 101.3l8 8M432.4 109.3l8 -8M433.1 106h8M437.1 102v8M433.1 102l8 8M433.1 110l8 -8M433.8 101.3h8M437.8 97.3v8M433.8 97.3l8 8M433.8 105.3l8 -8M434.5 107.3h8M438.5 103.3v8M434.5 103.3l8 8M434.5 111.3l8 -8M435.2 103.6h8M439.2 99.6v8M435.2 99.6l8 8M435.2 107.6l8 -8M435.9 107.1h8M439.9 103.1v8M435.9 103.1l8 8M435.9 111.1l8 -8M436.6 106.8h8M440.6 102.8v8M436.6 102.8l8 8M436.6 110.8l8 -8M437.3 101.2h8M441.3 97.2v8M437.3 97.2l8 8M437.3 105.2l8 -8M438 105.9h8M442 101.9v8M438 101.9l8 8M438 109.9l8 -8M438.7 107h8M442.7 103v8M438.7 103l8 8M438.7 111l8 -8M439.4 100.5h8M443.4 96.5v8M439.4 96.5l8 8M439.4 104.5l8 -8M440.1 102.7h8M444.1 98.7v8M440.1 98.7l8 8M440.1 106.7l8 -8M440.8 105.8h8M444.8 101.8v8M440.8 101.8l8 8M440.8 109.8l8 -8M441.5 101.3h8M445.5 97.3v8M441.5 97.3l8 8M441.5 105.3l8 -8M442.2 106.9h8M446.2 102.9v8M442.2 102.9l8 8M442.2 110.9l8 -8M442.9 102.2h8M446.9 98.2v8M442.9 98.2l8 8M442.9 106.2l8 -8M443.6 106.3h8M447.6 102.3v8M443.6 102.3l8 8M443.6 110.3l8 -8M444.3 101.2h8M448.3 97.2v8M444.3 97.2l8 8M444.3 105.2l8 -8M445 104h8M449 100v8M445 100l8 8M445 108l8 -8M445.7 107.2h8M449.7 103.2v8M445.7 103.2l8 8M445.7 111.2l8 -8M446.4 101.8h8M450.4 97.8v8M446.4 97.8l8 8M446.4 105.8l8 -8M447.1 102.2h8M451.1 98.2v8M447.1 98.2l8 8M447.1 106.2l8 -8M447.8 104.1h8M451.8 100.1v8M447.8 100.1l8 8M447.8 108.1l8 -8M448.5 102.7h8M452.5 98.7v8M448.5 98.7l8 8M448.5 106.7l8 -8M449.2 100.6h8M453.2 96.6v8M449.2 96.6l8 8M449.2 104.6l8 -8M449.9 101.7h8M453.9 97.7v8M449.9 97.7l8 8M449.9 105.7l8 -8M450.6 101.6h8M454.6 97.6v8M450.6 97.6l8 8M450.6 105.6l8 -8M451.3 107.5h8M455.3 103.5v8M451.3 103.5l8 8M451.3 111.5l8 -8M452 105.6h8M456 101.6v8M452 101.6l8 8M452 109.6l8 -8M452.7 107.2h8M456.7 103.2v8M452.7 103.2l8 8M452.7 111.2l8 -8M453.4 101.7h8M457.4 97.7v8M453.4 97.7l8 8M453.4 105.7l8 -8M454.1 106.4h8M458.1 102.4v8M454.1 102.4l8 8M454.1 110.4l8 -8M454.8 101.4h8M458.8 97.4v8M454.8 97.4l8 8M454.8 105.4l8 -8M455.5 104.6h8M459.5 100.6v8M455.5 100.6l8 8M455.5 108.6l8 -8M456.2 105.4h8M460.2 101.4v8M456.2 101.4l8 8M456.2 109.4l8 -8M456.9 103.3h8M460.9 99.3v8M456.9 99.3l8 8M456.9 107.3l8 -8M457.6 107.2h8M461.6 103.2v8M457.6 103.2l8 8M457.6 111.2l8 -8M458.3 104.8h8M462.3 100.8v8M458.3 100.8l8 8M458.3 108.8l8 -8M459 105h8M463 101v8M459 101l8 8M459 109l8 -8M459.7 107.4h8M463.7 103.4v8M459.7 103.4l8 8M459.7 111.4l8 -8M460.4 101.5h8M464.4 97.5v8M460.4 97.5l8 8M460.4 105.5l8 -8M461.1 108.2h8M465.1 104.2v8M461.1 104.2l8 8M461.1 112.2l8 -8M461.8 105.5h8M465.8 101.5v8M461.8 101.5l8 8M461.8 109.5l8 -8M462.5 103.8h8M466.5 99.8v8M462.5 99.8l8 8M462.5 107.8l8 -8M463.2 106.8h8M467.2 102.8v8M463.2 102.8l8 8M463.2 110.8l8 -8M463.9 102.9h8M467.9 98.9v8M463.9 98.9l8 8M463.9 106.9l8 -8M464.6 108.3h8M468.6 104.3v8M464.6 104.3l8 8M464.6 112.3l8 -8M465.3 105.2h8M469.3 101.2v8M465.3 101.2l8 8M465.3 109.2l8 -8M466 103.7h8M470 99.7v8M466 99.7l8 8M466 107.7l8 -8M466.7 106.7h8M470.7 102.7v8M466.7 102.7l8 8M466.7 110.7l8 -8M467.4 104.3h8M471.4 100.3v8M467.4 100.3l8 8M467.4 108.3l8 -8M468.1 102.4h8M472.1 98.4v8M468.1 98.4l8 8M468.1 106.4l8 -8M468.8 106.6h8M472.8 102.6v8M468.8 102.6l8 8M468.8 110.6l8 -8M469.5 101.5h8M473.5 97.5v8M469.5 97.5l8 8M469.5 105.5l8 -8M470.2 107.2h8M474.2 103.2v8M470.2 103.2l8 8M470.2 111.2l8 -8M470.9 103.1h8M474.9 99.1v8M470.9 99.1l8 8M470.9 107.1l8 -8M471.6 105.9h8M475.6 101.9v8M471.6 101.9l8 8M471.6 109.9l8 -8M472.3 108.4h8M476.3 104.4v8M472.3 104.4l8 8M472.3 112.4l8 -8M473 105.6h8M477 101.6v8M473 101.6l8 8M473 109.6l8 -8M473.7 106.2h8M477.7 102.2v8M473.7 102.2l8 8M473.7 110.2l8 -8M474.4 103.7h8M478.4 99.7v8M474.4 99.7l8 8M474.4 107.7l8 -8M475.1 101.5h8M479.1 97.5v8M475.1 97.5l8 8M475.1 105.5l8 -8M475.8 101.8h8M479.8 97.8v8M475.8 97.8l8 8M475.8 105.8l8 -8M476.5 102.6h8M480.5 98.6v8M476.5 98.6l8 8M476.5 106.6l8 -8M477.2 106h8M481.2 102v8M477.2 102l8 8M477.2 110l8 -8M477.9 104.7h8M481.9 100.7v8M477.9 100.7l8 8M477.9 108.7l8 -8M478.6 105.3h8M482.6 101.3v8M478.6 101.3l8 8M478.6 109.3l8 -8M479.3 108h8M483.3 104v8M479.3 104l8 8M479.3 112l8 -8M480 102.7h8M484 98.7v8M480 98.7l8 8M480 106.7l8 -8M480.7 103.4h8M484.7 99.4v8M480.7 99.4l8 8M480.7 107.4l8 -8M481.4 106.4h8M485.4 102.4v8M481.4 102.4l8 8M481.4 110.4l8 -8M482.1 102h8M486.1 98v8M482.1 98l8 8M482.1 106l8 -8M482.8 102h8M486.8 98v8M482.8 98l8 8M482.8 106l8 -8M483.5 104.4h8M487.5 100.4v8M483.5 100.4l8 8M483.5 108.4l8 -8M484.2 102.7h8M488.2 98.7v8M484.2 98.7l8 8M484.2 106.7l8 -8M484.9 104.5h8M488.9 100.5v8M484.9 100.5l8 8M484.9 108.5l8 -8M485.6 103.6h8M489.6 99.6v8M485.6 99.6l8 8M485.6 107.6l8 -8M486.3 106.1h8M490.3 102.1v8M486.3 102.1l8 8M486.3 110.1l8 -8M487 106.1h8M491 102.1v8M487 102.1l8 8M487 110.1l8 -8M487.7 103.6h8M491.7 99.6v8M487.7 99.6l8 8M487.7 107.6l8 -8M488.4 106.4h8M492.4 102.4v8M488.4 102.4l8 8M488.4 110.4l8 -8M489.1 105.5h8M493.1 101.5v8M489.1 101.5l8 8M489.1 109.5l8 -8M489.8 103.2h8M493.8 99.2v8M489.8 99.2l8 8M489.8 107.2l8 -8M490.5 108.6h8M494.5 104.6v8M490.5 104.6l8 8M490.5 112.6l8 -8M491.2 104h8M495.2 100v8M491.2 100l8 8M491.2 108l8 -8M491.9 103.5h8M495.9 99.5v8M491.9 99.5l8 8M491.9 107.5l8 -8M492.6 103.2h8M496.6 99.2v8M492.6 99.2l8 8M492.6 107.2l8 -8M493.3 106.8h8M497.3 102.8v8M493.3 102.8l8 8M493.3 110.8l8 -8M494 108.3h8M498 104.3v8M494 104.3l8 8M494 112.3l8 -8M494.7 107.8h8M498.7 103.8v8M494.7 103.8l8 8M494.7 111.8l8 -8M495.4 105.4h8M499.4 101.4v8M495.4 101.4l8 8M495.4 109.4l8 -8M496.1 104.6h8M500.1 100.6v8M496.1 100.6l8 8M496.1 108.6l8 -8M496.8 103h8M500.8 99v8M496.8 99l8 8M496.8 107l8 -8M497.5 107.1h8M501.5 103.1v8M497.5 103.1l8 8M497.5 111.1l8 -8M498.2 106.6h8M502.2 102.6v8M498.2 102.6l8 8M498.2 110.6l8 -8M498.9 105.3h8M502.9 101.3v8M498.9 101.3l8 8M498.9 109.3l8 -8M499.6 107.2h8M503.6 103.2v8M499.6 103.2l8 8M499.6 111.2l8 -8M500.3 106h8M504.3 102v8M500.3 102l8 8M500.3 110l8 -8M501 109.2h8M505 105.2v8M501 105.2l8 8M501 113.2l8 -8M501.7 107.9h8M505.7 103.9v8M501.7 103.9l8 8M501.7 111.9l8 -8M502.4 105h8M506.4 101v8M502.4 101l8 8M502.4 109l8 -8M503.1 109.1h8M507.1 105.1v8M503.1 105.1l8 8M503.1 113.1l8 -8M503.8 103.8h8M507.8 99.8v8M503.8 99.8l8 8M503.8 107.8l8 -8M504.5 106.9h8M508.5 102.9v8M504.5 102.9l8 8M504.5 110.9l8 -8M505.2 106.2h8M509.2 102.2v8M505.2 102.2l8 8M505.2 110.2l8 -8M505.9 105.2h8M509.9 101.2v8M505.9 101.2l8 8M505.9 109.2l8 -8M506.6 104.2h8M510.6 100.2v8M506.6 100.2l8 8M506.6 108.2l8 -8M507.3 108.6h8M511.3 104.6v8M507.3 104.6l8 8M507.3 112.6l8 -8M508 104h8M512 100v8M508 100l8 8M508 108l8 -8M508.7 107.3h8M512.7 103.3v8M508.7 103.3l8 8M508.7 111.3l8 -8M509.4 109.7h8M513.4 105.7v8M509.4 105.7l8 8M509.4 113.7l8 -8M510.1 105h8M514.1 101v8M510.1 101l8 8M510.1 109l8 -8M510.8 105.4h8M514.8 101.4v8M510.8 101.4l8 8M510.8 109.4l8 -8M511.5 107.9h8M515.5 103.9v8M511.5 103.9l8 8M511.5 111.9l8 -8M512.2 107.3h8M516.2 103.3v8M512.2 103.3l8 8M512.2 111.3l8 -8M512.9 108.3h8M516.9 104.3v8M512.9 104.3l8 8M512.9 112.3l8 -8M513.6 109.5h8M517.6 105.5v8M513.6 105.5l8 8M513.6 113.5l8 -8M514.3 105.4h8M518.3 101.4v8M514.3 101.4l8 8M514.3 109.4l8 -8M515 106.3h8M519 102.3v8M515 102.3l8 8M515 110.3l8 -8M515.7 106.3h8M519.7 102.3v8M515.7 102.3l8 8M515.7 110.3l8 -8M516.4 104.5h8M520.4 100.5v8M516.4 100.5l8 8M516.4 108.5l8 -8M517.1 110.7h8M521.1 106.7v8M517.1 106.7l8 8M517.1 114.7l8 -8M517.8 110.1h8M521.8 106.1v8M517.8 106.1l8 8M517.8 114.1l8 -8M518.5 109.7h8M522.5 105.7v8M518.5 105.7l8 8M518.5 113.7l8 -8M519.2 104.2h8M523.2 100.2v8M519.2 100.2l8 8M519.2 108.2l8 -8M519.9 111h8M523.9 107v8M519.9 107l8 8M519.9 115l8 -8M538.1 105.8h8M542.1 101.8v8M538.1 101.8l8 8M538.1 109.8l8 -8M544.6 109.1h8M548.6 105.1v8M544.6 105.1l8 8M544.6 113.1l8 -8M545.5 109.2h8M549.5 105.2v8M545.5 105.2l8 8M545.5 113.2l8 -8M539.9 108.8h8M543.9 104.8v8M539.9 104.8l8 8M539.9 112.8l8 -8M539.3 107.9h8M543.3 103.9v8M539.3 103.9l8 8M539.3 111.9l8 -8M545.6 111.6h8M549.6 107.6v8M545.6 107.6l8 8M545.6 115.6l8 -8M544.4 110.4h8M548.4 106.4v8M544.4 106.4l8 8M544.4 114.4l8 -8M545.3 111.7h8M549.3 107.7v8M545.3 107.7l8 8M545.3 115.7l8 -8M542.3 110.4h8M546.3 106.4v8M542.3 106.4l8 8M542.3 114.4l8 -8M538.1 109.8h8M542.1 105.8v8M538.1 105.8l8 8M538.1 113.8l8 -8M541.4 110.5h8M545.4 106.5v8M541.4 106.5l8 8M541.4 114.5l8 -8M543 108.6h8M547 104.6v8M543 104.6l8 8M543 112.6l8 -8M537.7 105h8M541.7 101v8M537.7 101l8 8M537.7 109l8 -8M537.7 111.5h8M541.7 107.5v8M537.7 107.5l8 8M537.7 115.5l8 -8M546 108.5h8M550 104.5v8M546 104.5l8 8M546 112.5l8 -8M546 112h8M550 108v8M546 108l8 8M546 116l8 -8M398.6 88h8M402.6 84v8M398.6 84l8 8M398.6 92l8 -8M197 86.5h8M201 82.5v8M197 82.5l8 8M197 90.5l8 -8"/>
</g>
<line x1="293.5" y1="23" x2="459" y2="9.3" stroke="#fff" stroke-width="1.1" stroke-dasharray="6.5 6.85"/>
<line x1="293.5" y1="100.4" x2="459" y2="104.8" stroke="#fff" stroke-width="1.1" stroke-dasharray="6.5 6.85"/>
<g clip-path="url(#c2)">
<path fill="none" stroke="#000" stroke-width="1.6" d="M141 242.3l8 8M141 250.3l8 -8M142.2 243.8l8 8M142.2 251.8l8 -8M143.4 245.3l8 8M143.4 253.3l8 -8M144.6 241.2l8 8M144.6 249.2l8 -8M145.8 244.8l8 8M145.8 252.8l8 -8M147 239.4l8 8M147 247.4l8 -8M148.2 240.7l8 8M148.2 248.7l8 -8M149.4 240.3l8 8M149.4 248.3l8 -8M150.6 243.4l8 8M150.6 251.4l8 -8M151.8 244.6l8 8M151.8 252.6l8 -8M153 243.1l8 8M153 251.1l8 -8M154.2 240.1l8 8M154.2 248.1l8 -8M155.4 243.7l8 8M155.4 251.7l8 -8M156.6 239.7l8 8M156.6 247.7l8 -8M157.8 238.9l8 8M157.8 246.9l8 -8M159 243.5l8 8M159 251.5l8 -8M160.2 241.3l8 8M160.2 249.3l8 -8M161.4 241.6l8 8M161.4 249.6l8 -8M162.6 241.3l8 8M162.6 249.3l8 -8M163.8 243.6l8 8M163.8 251.6l8 -8M165 239.4l8 8M165 247.4l8 -8M166.2 242.1l8 8M166.2 250.1l8 -8M167.4 240.4l8 8M167.4 248.4l8 -8M168.6 241.2l8 8M168.6 249.2l8 -8M169.8 236.6l8 8M169.8 244.6l8 -8M171 238.7l8 8M171 246.7l8 -8M172.2 236.3l8 8M172.2 244.3l8 -8M173.4 233.2l8 8M173.4 241.2l8 -8M174.6 231.7l8 8M174.6 239.7l8 -8M175.8 234l8 8M175.8 242l8 -8M177 229.6l8 8M177 237.6l8 -8M178.2 234.8l8 8M178.2 242.8l8 -8M179.4 229.1l8 8M179.4 237.1l8 -8M180.6 227.8l8 8M180.6 235.8l8 -8M181.8 227.9l8 8M181.8 235.9l8 -8M183 232.6l8 8M183 240.6l8 -8M184.2 228.4l8 8M184.2 236.4l8 -8M185.4 226.6l8 8M185.4 234.6l8 -8M186.6 225.1l8 8M186.6 233.1l8 -8M187.8 224.2l8 8M187.8 232.2l8 -8M189 227.6l8 8M189 235.6l8 -8M190.2 226.3l8 8M190.2 234.3l8 -8M191.4 226.2l8 8M191.4 234.2l8 -8M192.6 226.5l8 8M192.6 234.5l8 -8M193.8 222.8l8 8M193.8 230.8l8 -8M195 225.8l8 8M195 233.8l8 -8M196.2 225l8 8M196.2 233l8 -8M197.4 227.4l8 8M197.4 235.4l8 -8M198.6 228l8 8M198.6 236l8 -8M199.8 228.9l8 8M199.8 236.9l8 -8M201 225.3l8 8M201 233.3l8 -8M202.2 229.9l8 8M202.2 237.9l8 -8M203.4 230.7l8 8M203.4 238.7l8 -8M204.6 231.5l8 8M204.6 239.5l8 -8M205.8 227.1l8 8M205.8 235.1l8 -8M207 227.9l8 8M207 235.9l8 -8M208.2 227.6l8 8M208.2 235.6l8 -8M209.4 227.4l8 8M209.4 235.4l8 -8M210.6 232.5l8 8M210.6 240.5l8 -8M211.8 231.9l8 8M211.8 239.9l8 -8M213 230.3l8 8M213 238.3l8 -8M214.2 230.6l8 8M214.2 238.6l8 -8M215.4 229l8 8M215.4 237l8 -8M216.6 226.7l8 8M216.6 234.7l8 -8M217.8 225.1l8 8M217.8 233.1l8 -8M219 224.5l8 8M219 232.5l8 -8M220.2 227.8l8 8M220.2 235.8l8 -8M221.4 224l8 8M221.4 232l8 -8M222.6 224.2l8 8M222.6 232.2l8 -8M223.8 224.4l8 8M223.8 232.4l8 -8M225 221.1l8 8M225 229.1l8 -8M226.2 222l8 8M226.2 230l8 -8M227.4 220.7l8 8M227.4 228.7l8 -8M228.6 222.6l8 8M228.6 230.6l8 -8M229.8 218.4l8 8M229.8 226.4l8 -8M231 216.5l8 8M231 224.5l8 -8M232.2 221l8 8M232.2 229l8 -8M233.4 215.2l8 8M233.4 223.2l8 -8M234.6 217.6l8 8M234.6 225.6l8 -8M235.8 214.9l8 8M235.8 222.9l8 -8M237 209.7l8 8M237 217.7l8 -8M238.2 212.4l8 8M238.2 220.4l8 -8M239.4 212.2l8 8M239.4 220.2l8 -8M240.6 213.6l8 8M240.6 221.6l8 -8M241.8 212l8 8M241.8 220l8 -8M243 215.2l8 8M243 223.2l8 -8M244.2 215.4l8 8M244.2 223.4l8 -8M245.4 214.5l8 8M245.4 222.5l8 -8M246.6 220.6l8 8M246.6 228.6l8 -8M247.8 216.4l8 8M247.8 224.4l8 -8M249 224.3l8 8M249 232.3l8 -8M250.2 220.2l8 8M250.2 228.2l8 -8M251.4 220.1l8 8M251.4 228.1l8 -8M252.6 223.6l8 8M252.6 231.6l8 -8M253.8 229.8l8 8M253.8 237.8l8 -8M255 232.5l8 8M255 240.5l8 -8M256.2 226.6l8 8M256.2 234.6l8 -8M257.4 230.6l8 8M257.4 238.6l8 -8M258.6 231.1l8 8M258.6 239.1l8 -8M259.8 233.7l8 8M259.8 241.7l8 -8M261 230.2l8 8M261 238.2l8 -8M262.2 232.8l8 8M262.2 240.8l8 -8M263.4 232.4l8 8M263.4 240.4l8 -8M264.6 235.9l8 8M264.6 243.9l8 -8M265.8 233l8 8M265.8 241l8 -8M267 236.9l8 8M267 244.9l8 -8M268.2 232.4l8 8M268.2 240.4l8 -8M269.4 231.5l8 8M269.4 239.5l8 -8M270.6 234.2l8 8M270.6 242.2l8 -8M271.8 232.5l8 8M271.8 240.5l8 -8M273 229.4l8 8M273 237.4l8 -8M274.2 232.6l8 8M274.2 240.6l8 -8M275.4 228.3l8 8M275.4 236.3l8 -8M276.6 232.9l8 8M276.6 240.9l8 -8M277.8 232.1l8 8M277.8 240.1l8 -8M279 232.5l8 8M279 240.5l8 -8M280.2 231.2l8 8M280.2 239.2l8 -8M281.4 229.3l8 8M281.4 237.3l8 -8M282.6 229.4l8 8M282.6 237.4l8 -8M283.8 229.2l8 8M283.8 237.2l8 -8M285 232l8 8M285 240l8 -8M286.2 227l8 8M286.2 235l8 -8M287.4 232l8 8M287.4 240l8 -8M288.6 226.7l8 8M288.6 234.7l8 -8M289.8 227.9l8 8M289.8 235.9l8 -8M291 228.3l8 8M291 236.3l8 -8M292.2 232.5l8 8M292.2 240.5l8 -8M293.4 230l8 8M293.4 238l8 -8M294.6 229.3l8 8M294.6 237.3l8 -8M295.8 232.7l8 8M295.8 240.7l8 -8M297 228l8 8M297 236l8 -8M298.2 229.2l8 8M298.2 237.2l8 -8M299.4 229.4l8 8M299.4 237.4l8 -8M300.6 230.7l8 8M300.6 238.7l8 -8M301.8 230.1l8 8M301.8 238.1l8 -8M303 228.6l8 8M303 236.6l8 -8M304.2 225.9l8 8M304.2 233.9l8 -8M305.4 225.2l8 8M305.4 233.2l8 -8M306.6 223.5l8 8M306.6 231.5l8 -8M307.8 226.9l8 8M307.8 234.9l8 -8M309 225.2l8 8M309 233.2l8 -8M310.2 225l8 8M310.2 233l8 -8M311.4 220.5l8 8M311.4 228.5l8 -8M312.6 221.2l8 8M312.6 229.2l8 -8M313.8 222.8l8 8M313.8 230.8l8 -8M315 220.3l8 8M315 228.3l8 -8M316.2 214.9l8 8M316.2 222.9l8 -8M317.4 216.2l8 8M317.4 224.2l8 -8M318.6 219l8 8M318.6 227l8 -8M319.8 210l8 8M319.8 218l8 -8M321 207.4l8 8M321 215.4l8 -8M322.2 206.4l8 8M322.2 214.4l8 -8M323.4 208.1l8 8M323.4 216.1l8 -8M324.6 207.3l8 8M324.6 215.3l8 -8M325.8 200.7l8 8M325.8 208.7l8 -8M327 200.2l8 8M327 208.2l8 -8M328.2 200.2l8 8M328.2 208.2l8 -8M329.4 199.9l8 8M329.4 207.9l8 -8M330.6 200.3l8 8M330.6 208.3l8 -8M331.8 198l8 8M331.8 206l8 -8M333 198.3l8 8M333 206.3l8 -8M334.2 197l8 8M334.2 205l8 -8M335.4 201.1l8 8M335.4 209.1l8 -8M336.6 199.1l8 8M336.6 207.1l8 -8M337.8 194l8 8M337.8 202l8 -8M339 200.2l8 8M339 208.2l8 -8M340.2 192.8l8 8M340.2 200.8l8 -8M341.4 194.4l8 8M341.4 202.4l8 -8M342.6 197.7l8 8M342.6 205.7l8 -8M343.8 195.7l8 8M343.8 203.7l8 -8M345 194.5l8 8M345 202.5l8 -8M346.2 191.9l8 8M346.2 199.9l8 -8M347.4 189.6l8 8M347.4 197.6l8 -8M348.6 191.2l8 8M348.6 199.2l8 -8M349.8 187.5l8 8M349.8 195.5l8 -8M351 187.4l8 8M351 195.4l8 -8M352.2 187.4l8 8M352.2 195.4l8 -8M353.4 185.8l8 8M353.4 193.8l8 -8M354.6 185.9l8 8M354.6 193.9l8 -8M355.8 186.5l8 8M355.8 194.5l8 -8M357 185.7l8 8M357 193.7l8 -8M358.2 184.1l8 8M358.2 192.1l8 -8M359.4 184.3l8 8M359.4 192.3l8 -8M360.6 182.4l8 8M360.6 190.4l8 -8M361.8 178.7l8 8M361.8 186.7l8 -8M363 180.9l8 8M363 188.9l8 -8M364.2 177.9l8 8M364.2 185.9l8 -8M365.4 179.1l8 8M365.4 187.1l8 -8M366.6 179.3l8 8M366.6 187.3l8 -8M367.8 174.7l8 8M367.8 182.7l8 -8M369 174.9l8 8M369 182.9l8 -8M370.2 175.3l8 8M370.2 183.3l8 -8M371.4 172.3l8 8M371.4 180.3l8 -8M372.6 170.9l8 8M372.6 178.9l8 -8M373.8 173.3l8 8M373.8 181.3l8 -8M375 173.5l8 8M375 181.5l8 -8M376.2 172.6l8 8M376.2 180.6l8 -8M377.4 172.6l8 8M377.4 180.6l8 -8M378.6 173.4l8 8M378.6 181.4l8 -8M379.8 173l8 8M379.8 181l8 -8M381 173.1l8 8M381 181.1l8 -8M382.2 172.3l8 8M382.2 180.3l8 -8M383.4 171.6l8 8M383.4 179.6l8 -8M384.6 173.2l8 8M384.6 181.2l8 -8M385.8 170.1l8 8M385.8 178.1l8 -8M387 171.7l8 8M387 179.7l8 -8M388.2 173.5l8 8M388.2 181.5l8 -8M389.4 172.7l8 8M389.4 180.7l8 -8M390.6 171.7l8 8M390.6 179.7l8 -8M391.8 168.8l8 8M391.8 176.8l8 -8M393 169.5l8 8M393 177.5l8 -8M394.2 169.3l8 8M394.2 177.3l8 -8M395.4 170.1l8 8M395.4 178.1l8 -8M396.6 168.1l8 8M396.6 176.1l8 -8M397.8 169.3l8 8M397.8 177.3l8 -8M399 170.5l8 8M399 178.5l8 -8M400.2 164.7l8 8M400.2 172.7l8 -8M401.4 167.4l8 8M401.4 175.4l8 -8M402.6 167.6l8 8M402.6 175.6l8 -8M403.8 164.3l8 8M403.8 172.3l8 -8M405 164.4l8 8M405 172.4l8 -8M406.2 167.2l8 8M406.2 175.2l8 -8M407.4 160.3l8 8M407.4 168.3l8 -8M408.6 163.4l8 8M408.6 171.4l8 -8M409.8 160.4l8 8M409.8 168.4l8 -8M411 164.1l8 8M411 172.1l8 -8M412.2 164.6l8 8M412.2 172.6l8 -8M413.4 161.5l8 8M413.4 169.5l8 -8M414.6 158.5l8 8M414.6 166.5l8 -8M415.8 161l8 8M415.8 169l8 -8M417 160.2l8 8M417 168.2l8 -8M418.2 160.5l8 8M418.2 168.5l8 -8M419.4 158.7l8 8M419.4 166.7l8 -8M420.6 158.7l8 8M420.6 166.7l8 -8M421.8 159.1l8 8M421.8 167.1l8 -8M423 156.8l8 8M423 164.8l8 -8M424.2 155.5l8 8M424.2 163.5l8 -8M425.4 157.6l8 8M425.4 165.6l8 -8M426.6 153.4l8 8M426.6 161.4l8 -8M427.8 155.3l8 8M427.8 163.3l8 -8M429 153.4l8 8M429 161.4l8 -8M430.2 154.7l8 8M430.2 162.7l8 -8M431.4 151.4l8 8M431.4 159.4l8 -8M432.6 154.8l8 8M432.6 162.8l8 -8M433.8 151.7l8 8M433.8 159.7l8 -8M435 150l8 8M435 158l8 -8M436.2 150.5l8 8M436.2 158.5l8 -8M437.4 150.3l8 8M437.4 158.3l8 -8M438.6 148l8 8M438.6 156l8 -8M439.8 149.1l8 8M439.8 157.1l8 -8M441 148.4l8 8M441 156.4l8 -8M442.2 149l8 8M442.2 157l8 -8M443.4 146.7l8 8M443.4 154.7l8 -8M444.6 145.6l8 8M444.6 153.6l8 -8M445.8 144.7l8 8M445.8 152.7l8 -8M447 147.1l8 8M447 155.1l8 -8M448.2 147.9l8 8M448.2 155.9l8 -8M449.4 145.8l8 8M449.4 153.8l8 -8M450.6 144.2l8 8M450.6 152.2l8 -8M451.8 146.7l8 8M451.8 154.7l8 -8M453 144.8l8 8M453 152.8l8 -8M454.2 143.8l8 8M454.2 151.8l8 -8M455.4 143.4l8 8M455.4 151.4l8 -8M456.6 146.2l8 8M456.6 154.2l8 -8M457.8 146.6l8 8M457.8 154.6l8 -8M459 146.1l8 8M459 154.1l8 -8M460.2 145.6l8 8M460.2 153.6l8 -8M461.4 146.2l8 8M461.4 154.2l8 -8M462.6 144.9l8 8M462.6 152.9l8 -8M463.8 148.6l8 8M463.8 156.6l8 -8M465 146l8 8M465 154l8 -8M466.2 147.5l8 8M466.2 155.5l8 -8M467.4 148.6l8 8M467.4 156.6l8 -8M468.6 148.8l8 8M468.6 156.8l8 -8M469.8 147.3l8 8M469.8 155.3l8 -8M471 146.7l8 8M471 154.7l8 -8M472.2 148.1l8 8M472.2 156.1l8 -8M473.4 146.3l8 8M473.4 154.3l8 -8M474.6 149.8l8 8M474.6 157.8l8 -8M475.8 147.8l8 8M475.8 155.8l8 -8M477 150.5l8 8M477 158.5l8 -8M478.2 148.3l8 8M478.2 156.3l8 -8M479.4 149.3l8 8M479.4 157.3l8 -8M480.6 149.3l8 8M480.6 157.3l8 -8M481.8 150.6l8 8M481.8 158.6l8 -8M483 149.9l8 8M483 157.9l8 -8M484.2 149.6l8 8M484.2 157.6l8 -8M485.4 153.4l8 8M485.4 161.4l8 -8M486.6 152l8 8M486.6 160l8 -8M487.8 152.5l8 8M487.8 160.5l8 -8M489 153.4l8 8M489 161.4l8 -8M490.2 154.8l8 8M490.2 162.8l8 -8M491.4 155.3l8 8M491.4 163.3l8 -8M492.6 156.7l8 8M492.6 164.7l8 -8M493.8 157.2l8 8M493.8 165.2l8 -8M495 156.4l8 8M495 164.4l8 -8M496.2 158.7l8 8M496.2 166.7l8 -8M497.4 158.7l8 8M497.4 166.7l8 -8M498.6 156.4l8 8M498.6 164.4l8 -8M499.8 159.2l8 8M499.8 167.2l8 -8M501 159.7l8 8M501 167.7l8 -8M502.2 159l8 8M502.2 167l8 -8M503.4 157.1l8 8M503.4 165.1l8 -8M504.6 158.4l8 8M504.6 166.4l8 -8M505.8 157.6l8 8M505.8 165.6l8 -8M507 156.3l8 8M507 164.3l8 -8M508.2 156.2l8 8M508.2 164.2l8 -8M509.4 157.1l8 8M509.4 165.1l8 -8M510.6 156.6l8 8M510.6 164.6l8 -8M511.8 156l8 8M511.8 164l8 -8M513 155.7l8 8M513 163.7l8 -8M514.2 155.6l8 8M514.2 163.6l8 -8M515.4 155.5l8 8M515.4 163.5l8 -8M516.6 155.8l8 8M516.6 163.8l8 -8M517.8 155.8l8 8M517.8 163.8l8 -8M519 155.8l8 8M519 163.8l8 -8M538.4 158.9l8 8M538.4 166.9l8 -8M539.4 158.1l8 8M539.4 166.1l8 -8M539.5 156.7l8 8M539.5 164.7l8 -8M540.5 155.7l8 8M540.5 163.7l8 -8M541.6 156l8 8M541.6 164l8 -8M543.2 155.3l8 8M543.2 163.3l8 -8M544.2 153.5l8 8M544.2 161.5l8 -8M544.9 152.9l8 8M544.9 160.9l8 -8M546.3 152.2l8 8M546.3 160.2l8 -8"/>
</g>
<g clip-path="url(#c3)">
<polygon fill="#000" points="145,397.2 147,396.4 149,395.6 151,394.8 153,394 155,393.2 157,392 159,390.8 161,390 163,389.6 165,389.2 167,389.8 169,390.4 171,390.8 173,391 175,391.2 177,392 179,392.8 181,393.6 183,394.4 185,395.2 187,396 189,396.8 191,397.6 193,398.4 195,399.2 197,400 199,400.8 201,400.4 203,398.8 205,397.2 207,395.2 209,393.2 211,392 213,391.6 215,391.2 217,391.2 219,391.2 221,391.8 223,393 225,394.2 227,395.8 229,397.4 231,397.6 233,396.4 235,395.2 237,393.2 239,391.2 241,389.4 243,387.8 245,386.2 247,385.8 249,385.4 251,385 253,384.6 255,384.2 257,383 259,381.8 261,380.6 263,379.4 265,378.2 267,377 269,375.8 271,374.6 273,373.4 275,372.2 277,371 279,369.8 281,368.8 283,368 285,367.2 287,366.4 289,365.6 291,364.5 293,363.1 295,361.7 297,360.3 299,358.9 301,357.6 303,356.4 305,355.2 307,354 309,352.8 311,352.2 313,352.2 315,352.2 317,352.2 319,352.2 321,351.7 323,350.7 325,349.7 327,348.7 329,347.7 331,346.9 333,346.3 335,345.7 337,345.1 339,344.5 341,343.4 343,341.8 345,340.2 347,338.6 349,337 351,336.1 353,335.9 355,335.7 357,335.5 359,335.3 361,334.8 363,334 365,333.2 367,332.8 369,332.4 371,332 373,331.6 375,331.2 377,330.4 379,329.6 381,328.8 383,328 385,327.2 387,326.2 389,325.2 391,324.2 393,323.2 395,322.2 397,321.2 399,320.2 401,319.2 403,318.2 405,317.2 407,316.6 409,316 411,315.4 413,314.8 415,314.2 417,313.6 419,313 421,312.4 423,311.8 425,311.2 427,310.6 429,310 431,309.4 433,308.8 435,308.2 437,307.8 439,307.4 441,307 443,306.6 445,306.2 447,305.6 449,305 451,304.4 453,303.8 455,303.2 457,303.2 459,303.2 461,303.2 463,303.2 465,303.2 467,303.3 469,303.5 471,303.6 473,303.8 475,303.9 477,303.8 479,303.8 481,303.7 483,303.7 485,303.6 487,303.6 489,303.5 491,303.7 493,304 495,304.4 497,304.7 499,305.3 501,305.9 503,306.6 505,307.2 507,307.4 509,307.7 511,307.9 513,308.3 515,308.9 517,309.6 519,310.2 521,310.9 523,311.8 523,317.6 521,317.2 519,316.5 517,315.4 515,314.4 513,313.3 511,312.4 509,311.7 507,311 505,310.3 503,310.3 501,310.3 499,310.3 497,310.3 495,309.8 493,309.3 491,308.8 489,308.5 487,308.4 485,308.3 483,308.2 481,308.1 479,308 477,307.9 475,307.8 473,308 471,308.2 469,308.4 467,308.6 465,308.8 463,309 461,309.2 459,309.4 457,309.6 455,309.8 453,310.4 451,311 449,311.6 447,312.2 445,312.8 443,313.2 441,313.6 439,314 437,314.4 435,314.8 433,315.4 431,316 429,316.6 427,317.2 425,317.8 423,318.6 421,319.4 419,320.2 417,321 415,321.8 413,322.4 411,323 409,323.6 407,324.2 405,324.8 403,326 401,327.2 399,328.4 397,329.6 395,330.8 393,331.6 391,332.4 389,333.2 387,334 385,334.8 383,335.4 381,336 379,336.6 377,337.2 375,337.8 373,338.4 371,339 369,339.6 367,340.2 365,340.8 363,340.4 361,340 359,340.5 357,341.9 355,343.3 353,344.7 351,346.1 349,347.4 347,348.6 345,349.8 343,351 341,352.2 339,353.3 337,354.3 335,355.3 333,356.3 331,357.3 329,358.1 327,358.7 325,359.3 323,359.9 321,360.5 319,361 317,361.4 315,361.8 313,362.2 311,362.6 309,363.5 307,364.9 305,366.3 303,367.7 301,369.1 299,370.4 297,371.6 295,372.8 293,374 291,375.2 289,376.2 287,377 285,377.8 283,378.6 281,379.4 279,380.3 277,381.3 275,382.3 273,383.3 271,384.3 269,385.5 267,386.9 265,388.3 263,389.7 261,391.1 259,392.2 257,393 255,393.8 253,394.2 251,394.6 249,395 247,395.4 245,395.8 243,397.4 241,399 239,400.6 237,402.2 235,403.8 233,404.2 231,404.6 229,404.2 227,403 225,401.8 223,400.2 221,398.6 219,398 217,398.4 215,398.8 213,399.6 211,400.4 209,401.8 207,403.8 205,405.8 203,406.6 201,407.4 199,407.4 197,406.6 195,405.8 193,405 191,404.2 189,403.6 187,403.2 185,402.8 183,402 181,401.2 179,400.4 177,399.6 175,398.8 173,398.4 171,398 169,398 167,398.4 165,398.8 163,399.2 161,399.6 159,400 157,400.4 155,400.8 153,401.6 151,402.4 149,403 147,403.4 145,403.8"/>
<path fill="none" stroke="#000" stroke-width="1" d="M141 400.5h8M145 396.5v8M141 396.5l8 8M141 404.5l8 -8M141.7 400.3h8M145.7 396.3v8M141.7 396.3l8 8M141.7 404.3l8 -8M142.4 400.3h8M146.4 396.3v8M142.4 396.3l8 8M142.4 404.3l8 -8M143.1 401.7h8M147.1 397.7v8M143.1 397.7l8 8M143.1 405.7l8 -8M143.8 397.1h8M147.8 393.1v8M143.8 393.1l8 8M143.8 401.1l8 -8M144.5 401.3h8M148.5 397.3v8M144.5 397.3l8 8M144.5 405.3l8 -8M145.2 399.1h8M149.2 395.1v8M145.2 395.1l8 8M145.2 403.1l8 -8M145.9 399.4h8M149.9 395.4v8M145.9 395.4l8 8M145.9 403.4l8 -8M146.6 399.7h8M150.6 395.7v8M146.6 395.7l8 8M146.6 403.7l8 -8M147.3 400.4h8M151.3 396.4v8M147.3 396.4l8 8M147.3 404.4l8 -8M148 397.5h8M152 393.5v8M148 393.5l8 8M148 401.5l8 -8M148.7 397.5h8M152.7 393.5v8M148.7 393.5l8 8M148.7 401.5l8 -8M149.4 400.2h8M153.4 396.2v8M149.4 396.2l8 8M149.4 404.2l8 -8M150.1 395h8M154.1 391v8M150.1 391l8 8M150.1 399l8 -8M150.8 397.8h8M154.8 393.8v8M150.8 393.8l8 8M150.8 401.8l8 -8M151.5 397.6h8M155.5 393.6v8M151.5 393.6l8 8M151.5 401.6l8 -8M152.2 393.7h8M156.2 389.7v8M152.2 389.7l8 8M152.2 397.7l8 -8M152.9 396.9h8M156.9 392.9v8M152.9 392.9l8 8M152.9 400.9l8 -8M153.6 397.2h8M157.6 393.2v8M153.6 393.2l8 8M153.6 401.2l8 -8M154.3 398.7h8M158.3 394.7v8M154.3 394.7l8 8M154.3 402.7l8 -8M155 394.2h8M159 390.2v8M155 390.2l8 8M155 398.2l8 -8M155.7 398.7h8M159.7 394.7v8M155.7 394.7l8 8M155.7 402.7l8 -8M156.4 395h8M160.4 391v8M156.4 391l8 8M156.4 399l8 -8M157.1 394.7h8M161.1 390.7v8M157.1 390.7l8 8M157.1 398.7l8 -8M157.8 397.7h8M161.8 393.7v8M157.8 393.7l8 8M157.8 401.7l8 -8M158.5 391h8M162.5 387v8M158.5 387l8 8M158.5 395l8 -8M159.2 396h8M163.2 392v8M159.2 392l8 8M159.2 400l8 -8M159.9 395.2h8M163.9 391.2v8M159.9 391.2l8 8M159.9 399.2l8 -8M160.6 392.9h8M164.6 388.9v8M160.6 388.9l8 8M160.6 396.9l8 -8M161.3 396.7h8M165.3 392.7v8M161.3 392.7l8 8M161.3 400.7l8 -8M162 393.1h8M166 389.1v8M162 389.1l8 8M162 397.1l8 -8M162.7 393.9h8M166.7 389.9v8M162.7 389.9l8 8M162.7 397.9l8 -8M163.4 394.3h8M167.4 390.3v8M163.4 390.3l8 8M163.4 398.3l8 -8M164.1 395.8h8M168.1 391.8v8M164.1 391.8l8 8M164.1 399.8l8 -8M164.8 392.5h8M168.8 388.5v8M164.8 388.5l8 8M164.8 396.5l8 -8M165.5 393.9h8M169.5 389.9v8M165.5 389.9l8 8M165.5 397.9l8 -8M166.2 393.9h8M170.2 389.9v8M166.2 389.9l8 8M166.2 397.9l8 -8M166.9 394.7h8M170.9 390.7v8M166.9 390.7l8 8M166.9 398.7l8 -8M167.6 396.2h8M171.6 392.2v8M167.6 392.2l8 8M167.6 400.2l8 -8M168.3 393.5h8M172.3 389.5v8M168.3 389.5l8 8M168.3 397.5l8 -8M169 396.5h8M173 392.5v8M169 392.5l8 8M169 400.5l8 -8M169.7 394.3h8M173.7 390.3v8M169.7 390.3l8 8M169.7 398.3l8 -8M170.4 394.9h8M174.4 390.9v8M170.4 390.9l8 8M170.4 398.9l8 -8M171.1 393.8h8M175.1 389.8v8M171.1 389.8l8 8M171.1 397.8l8 -8M171.8 395.4h8M175.8 391.4v8M171.8 391.4l8 8M171.8 399.4l8 -8M172.5 398.3h8M176.5 394.3v8M172.5 394.3l8 8M172.5 402.3l8 -8M173.2 396.7h8M177.2 392.7v8M173.2 392.7l8 8M173.2 400.7l8 -8M173.9 397.8h8M177.9 393.8v8M173.9 393.8l8 8M173.9 401.8l8 -8M174.6 395.5h8M178.6 391.5v8M174.6 391.5l8 8M174.6 399.5l8 -8M175.3 395.7h8M179.3 391.7v8M175.3 391.7l8 8M175.3 399.7l8 -8M176 395.9h8M180 391.9v8M176 391.9l8 8M176 399.9l8 -8M176.7 397.8h8M180.7 393.8v8M176.7 393.8l8 8M176.7 401.8l8 -8M177.4 398.3h8M181.4 394.3v8M177.4 394.3l8 8M177.4 402.3l8 -8M178.1 399.4h8M182.1 395.4v8M178.1 395.4l8 8M178.1 403.4l8 -8M178.8 395.5h8M182.8 391.5v8M178.8 391.5l8 8M178.8 399.5l8 -8M179.5 399.6h8M183.5 395.6v8M179.5 395.6l8 8M179.5 403.6l8 -8M180.2 400.8h8M184.2 396.8v8M180.2 396.8l8 8M180.2 404.8l8 -8M180.9 399.2h8M184.9 395.2v8M180.9 395.2l8 8M180.9 403.2l8 -8M181.6 396.7h8M185.6 392.7v8M181.6 392.7l8 8M181.6 400.7l8 -8M182.3 398.3h8M186.3 394.3v8M182.3 394.3l8 8M182.3 402.3l8 -8M183 397h8M187 393v8M183 393l8 8M183 401l8 -8M183.7 398.2h8M187.7 394.2v8M183.7 394.2l8 8M183.7 402.2l8 -8M184.4 402.1h8M188.4 398.1v8M184.4 398.1l8 8M184.4 406.1l8 -8M185.1 400.7h8M189.1 396.7v8M185.1 396.7l8 8M185.1 404.7l8 -8M185.8 401.2h8M189.8 397.2v8M185.8 397.2l8 8M185.8 405.2l8 -8M186.5 402h8M190.5 398v8M186.5 398l8 8M186.5 406l8 -8M187.2 402.9h8M191.2 398.9v8M187.2 398.9l8 8M187.2 406.9l8 -8M187.9 401.8h8M191.9 397.8v8M187.9 397.8l8 8M187.9 405.8l8 -8M188.6 402.1h8M192.6 398.1v8M188.6 398.1l8 8M188.6 406.1l8 -8M189.3 402.4h8M193.3 398.4v8M189.3 398.4l8 8M189.3 406.4l8 -8M190 403h8M194 399v8M190 399l8 8M190 407l8 -8M190.7 402.8h8M194.7 398.8v8M190.7 398.8l8 8M190.7 406.8l8 -8M191.4 403.5h8M195.4 399.5v8M191.4 399.5l8 8M191.4 407.5l8 -8M192.1 401.6h8M196.1 397.6v8M192.1 397.6l8 8M192.1 405.6l8 -8M192.8 404h8M196.8 400v8M192.8 400l8 8M192.8 408l8 -8M193.5 403.3h8M197.5 399.3v8M193.5 399.3l8 8M193.5 407.3l8 -8M194.2 405h8M198.2 401v8M194.2 401l8 8M194.2 409l8 -8M194.9 402.2h8M198.9 398.2v8M194.9 398.2l8 8M194.9 406.2l8 -8M195.6 402.9h8M199.6 398.9v8M195.6 398.9l8 8M195.6 406.9l8 -8M196.3 402.1h8M200.3 398.1v8M196.3 398.1l8 8M196.3 406.1l8 -8M197 405.3h8M201 401.3v8M197 401.3l8 8M197 409.3l8 -8M197.7 405.7h8M201.7 401.7v8M197.7 401.7l8 8M197.7 409.7l8 -8M198.4 403.9h8M202.4 399.9v8M198.4 399.9l8 8M198.4 407.9l8 -8M199.1 401.9h8M203.1 397.9v8M199.1 397.9l8 8M199.1 405.9l8 -8M199.8 404.2h8M203.8 400.2v8M199.8 400.2l8 8M199.8 408.2l8 -8M200.5 403.6h8M204.5 399.6v8M200.5 399.6l8 8M200.5 407.6l8 -8M201.2 401.7h8M205.2 397.7v8M201.2 397.7l8 8M201.2 405.7l8 -8M201.9 399h8M205.9 395v8M201.9 395l8 8M201.9 403l8 -8M202.6 398.6h8M206.6 394.6v8M202.6 394.6l8 8M202.6 402.6l8 -8M203.3 398.7h8M207.3 394.7v8M203.3 394.7l8 8M203.3 402.7l8 -8M204 397.3h8M208 393.3v8M204 393.3l8 8M204 401.3l8 -8M204.7 397.3h8M208.7 393.3v8M204.7 393.3l8 8M204.7 401.3l8 -8M205.4 398h8M209.4 394v8M205.4 394l8 8M205.4 402l8 -8M206.1 399.3h8M210.1 395.3v8M206.1 395.3l8 8M206.1 403.3l8 -8M206.8 393.4h8M210.8 389.4v8M206.8 389.4l8 8M206.8 397.4l8 -8M207.5 396.5h8M211.5 392.5v8M207.5 392.5l8 8M207.5 400.5l8 -8M208.2 393h8M212.2 389v8M208.2 389l8 8M208.2 397l8 -8M208.9 393.3h8M212.9 389.3v8M208.9 389.3l8 8M208.9 397.3l8 -8M209.6 397.2h8M213.6 393.2v8M209.6 393.2l8 8M209.6 401.2l8 -8M210.3 395.6h8M214.3 391.6v8M210.3 391.6l8 8M210.3 399.6l8 -8M211 397.3h8M215 393.3v8M211 393.3l8 8M211 401.3l8 -8M211.7 394.6h8M215.7 390.6v8M211.7 390.6l8 8M211.7 398.6l8 -8M212.4 392.3h8M216.4 388.3v8M212.4 388.3l8 8M212.4 396.3l8 -8M213.1 394.2h8M217.1 390.2v8M213.1 390.2l8 8M213.1 398.2l8 -8M213.8 395.2h8M217.8 391.2v8M213.8 391.2l8 8M213.8 399.2l8 -8M214.5 396.8h8M218.5 392.8v8M214.5 392.8l8 8M214.5 400.8l8 -8M215.2 396.9h8M219.2 392.9v8M215.2 392.9l8 8M215.2 400.9l8 -8M215.9 394.4h8M219.9 390.4v8M215.9 390.4l8 8M215.9 398.4l8 -8M216.6 394.5h8M220.6 390.5v8M216.6 390.5l8 8M216.6 398.5l8 -8M217.3 393.5h8M221.3 389.5v8M217.3 389.5l8 8M217.3 397.5l8 -8M218 396.6h8M222 392.6v8M218 392.6l8 8M218 400.6l8 -8M218.7 394.9h8M222.7 390.9v8M218.7 390.9l8 8M218.7 398.9l8 -8M219.4 395h8M223.4 391v8M219.4 391l8 8M219.4 399l8 -8M220.1 394.7h8M224.1 390.7v8M220.1 390.7l8 8M220.1 398.7l8 -8M220.8 395.1h8M224.8 391.1v8M220.8 391.1l8 8M220.8 399.1l8 -8M221.5 399.4h8M225.5 395.4v8M221.5 395.4l8 8M221.5 403.4l8 -8M222.2 396.8h8M226.2 392.8v8M222.2 392.8l8 8M222.2 400.8l8 -8M222.9 401.8h8M226.9 397.8v8M222.9 397.8l8 8M222.9 405.8l8 -8M223.6 397.7h8M227.6 393.7v8M223.6 393.7l8 8M223.6 401.7l8 -8M224.3 402.1h8M228.3 398.1v8M224.3 398.1l8 8M224.3 406.1l8 -8M225 399h8M229 395v8M225 395l8 8M225 403l8 -8M225.7 399h8M229.7 395v8M225.7 395l8 8M225.7 403l8 -8M226.4 402.4h8M230.4 398.4v8M226.4 398.4l8 8M226.4 406.4l8 -8M227.1 399.8h8M231.1 395.8v8M227.1 395.8l8 8M227.1 403.8l8 -8M227.8 402h8M231.8 398v8M227.8 398l8 8M227.8 406l8 -8M228.5 398.7h8M232.5 394.7v8M228.5 394.7l8 8M228.5 402.7l8 -8M229.2 397.6h8M233.2 393.6v8M229.2 393.6l8 8M229.2 401.6l8 -8M229.9 401.6h8M233.9 397.6v8M229.9 397.6l8 8M229.9 405.6l8 -8M230.6 401h8M234.6 397v8M230.6 397l8 8M230.6 405l8 -8M231.3 401.6h8M235.3 397.6v8M231.3 397.6l8 8M231.3 405.6l8 -8M232 400.2h8M236 396.2v8M232 396.2l8 8M232 404.2l8 -8M232.7 395.1h8M236.7 391.1v8M232.7 391.1l8 8M232.7 399.1l8 -8M233.4 398.3h8M237.4 394.3v8M233.4 394.3l8 8M233.4 402.3l8 -8M234.1 398.2h8M238.1 394.2v8M234.1 394.2l8 8M234.1 402.2l8 -8M234.8 395.8h8M238.8 391.8v8M234.8 391.8l8 8M234.8 399.8l8 -8M235.5 398.7h8M239.5 394.7v8M235.5 394.7l8 8M235.5 402.7l8 -8M236.2 393h8M240.2 389v8M236.2 389l8 8M236.2 397l8 -8M236.9 397.8h8M240.9 393.8v8M236.9 393.8l8 8M236.9 401.8l8 -8M237.6 395.4h8M241.6 391.4v8M237.6 391.4l8 8M237.6 399.4l8 -8M238.3 389.4h8M242.3 385.4v8M238.3 385.4l8 8M238.3 393.4l8 -8M239 388.9h8M243 384.9v8M239 384.9l8 8M239 392.9l8 -8M239.7 393.2h8M243.7 389.2v8M239.7 389.2l8 8M239.7 397.2l8 -8M240.4 393.9h8M244.4 389.9v8M240.4 389.9l8 8M240.4 397.9l8 -8M241.1 387.8h8M245.1 383.8v8M241.1 383.8l8 8M241.1 391.8l8 -8M241.8 389.4h8M245.8 385.4v8M241.8 385.4l8 8M241.8 393.4l8 -8M242.5 392.4h8M246.5 388.4v8M242.5 388.4l8 8M242.5 396.4l8 -8M243.2 388h8M247.2 384v8M243.2 384l8 8M243.2 392l8 -8M243.9 393.2h8M247.9 389.2v8M243.9 389.2l8 8M243.9 397.2l8 -8M244.6 390.2h8M248.6 386.2v8M244.6 386.2l8 8M244.6 394.2l8 -8M245.3 386.8h8M249.3 382.8v8M245.3 382.8l8 8M245.3 390.8l8 -8M246 389h8M250 385v8M246 385l8 8M246 393l8 -8M246.7 390.4h8M250.7 386.4v8M246.7 386.4l8 8M246.7 394.4l8 -8M247.4 389.3h8M251.4 385.3v8M247.4 385.3l8 8M247.4 393.3l8 -8M248.1 390.9h8M252.1 386.9v8M248.1 386.9l8 8M248.1 394.9l8 -8M248.8 386.7h8M252.8 382.7v8M248.8 382.7l8 8M248.8 390.7l8 -8M249.5 391.6h8M253.5 387.6v8M249.5 387.6l8 8M249.5 395.6l8 -8M250.2 388.1h8M254.2 384.1v8M250.2 384.1l8 8M250.2 392.1l8 -8M250.9 390.1h8M254.9 386.1v8M250.9 386.1l8 8M250.9 394.1l8 -8M251.6 389.7h8M255.6 385.7v8M251.6 385.7l8 8M251.6 393.7l8 -8M252.3 387.7h8M256.3 383.7v8M252.3 383.7l8 8M252.3 391.7l8 -8M253 387.1h8M257 383.1v8M253 383.1l8 8M253 391.1l8 -8M253.7 390h8M257.7 386v8M253.7 386l8 8M253.7 394l8 -8M254.4 391h8M258.4 387v8M254.4 387l8 8M254.4 395l8 -8M255.1 389.3h8M259.1 385.3v8M255.1 385.3l8 8M255.1 393.3l8 -8M255.8 387.2h8M259.8 383.2v8M255.8 383.2l8 8M255.8 391.2l8 -8M256.5 384.4h8M260.5 380.4v8M256.5 380.4l8 8M256.5 388.4l8 -8M257.2 382h8M261.2 378v8M257.2 378l8 8M257.2 386l8 -8M257.9 389.3h8M261.9 385.3v8M257.9 385.3l8 8M257.9 393.3l8 -8M258.6 386.5h8M262.6 382.5v8M258.6 382.5l8 8M258.6 390.5l8 -8M259.3 387.1h8M263.3 383.1v8M259.3 383.1l8 8M259.3 391.1l8 -8M260 382.5h8M264 378.5v8M260 378.5l8 8M260 386.5l8 -8M260.7 384.3h8M264.7 380.3v8M260.7 380.3l8 8M260.7 388.3l8 -8M261.4 386.8h8M265.4 382.8v8M261.4 382.8l8 8M261.4 390.8l8 -8M262.1 385.2h8M266.1 381.2v8M262.1 381.2l8 8M262.1 389.2l8 -8M262.8 382.9h8M266.8 378.9v8M262.8 378.9l8 8M262.8 386.9l8 -8M263.5 380.1h8M267.5 376.1v8M263.5 376.1l8 8M263.5 384.1l8 -8M264.2 380.6h8M268.2 376.6v8M264.2 376.6l8 8M264.2 384.6l8 -8M264.9 383.7h8M268.9 379.7v8M264.9 379.7l8 8M264.9 387.7l8 -8M265.6 379.3h8M269.6 375.3v8M265.6 375.3l8 8M265.6 383.3l8 -8M266.3 381.2h8M270.3 377.2v8M266.3 377.2l8 8M266.3 385.2l8 -8M267 380.2h8M271 376.2v8M267 376.2l8 8M267 384.2l8 -8M267.7 382.1h8M271.7 378.1v8M267.7 378.1l8 8M267.7 386.1l8 -8M268.4 381.1h8M272.4 377.1v8M268.4 377.1l8 8M268.4 385.1l8 -8M269.1 376.6h8M273.1 372.6v8M269.1 372.6l8 8M269.1 380.6l8 -8M269.8 373.9h8M273.8 369.9v8M269.8 369.9l8 8M269.8 377.9l8 -8M270.5 375.6h8M274.5 371.6v8M270.5 371.6l8 8M270.5 379.6l8 -8M271.2 376.5h8M275.2 372.5v8M271.2 372.5l8 8M271.2 380.5l8 -8M271.9 377.5h8M275.9 373.5v8M271.9 373.5l8 8M271.9 381.5l8 -8M272.6 379h8M276.6 375v8M272.6 375l8 8M272.6 383l8 -8M273.3 379.2h8M277.3 375.2v8M273.3 375.2l8 8M273.3 383.2l8 -8M274 371.8h8M278 367.8v8M274 367.8l8 8M274 375.8l8 -8M274.7 378h8M278.7 374v8M274.7 374l8 8M274.7 382l8 -8M275.4 377.5h8M279.4 373.5v8M275.4 373.5l8 8M275.4 381.5l8 -8M276.1 377.6h8M280.1 373.6v8M276.1 373.6l8 8M276.1 381.6l8 -8M276.8 374.8h8M280.8 370.8v8M276.8 370.8l8 8M276.8 378.8l8 -8M277.5 372h8M281.5 368v8M277.5 368l8 8M277.5 376l8 -8M278.2 376.6h8M282.2 372.6v8M278.2 372.6l8 8M278.2 380.6l8 -8M278.9 376h8M282.9 372v8M278.9 372l8 8M278.9 380l8 -8M279.6 374.6h8M283.6 370.6v8M279.6 370.6l8 8M279.6 378.6l8 -8M280.3 376.3h8M284.3 372.3v8M280.3 372.3l8 8M280.3 380.3l8 -8M281 371.2h8M285 367.2v8M281 367.2l8 8M281 375.2l8 -8M281.7 368.7h8M285.7 364.7v8M281.7 364.7l8 8M281.7 372.7l8 -8M282.4 372.4h8M286.4 368.4v8M282.4 368.4l8 8M282.4 376.4l8 -8M283.1 374.2h8M287.1 370.2v8M283.1 370.2l8 8M283.1 378.2l8 -8M283.8 368.8h8M287.8 364.8v8M283.8 364.8l8 8M283.8 372.8l8 -8M284.5 373.3h8M288.5 369.3v8M284.5 369.3l8 8M284.5 377.3l8 -8M285.2 374.5h8M289.2 370.5v8M285.2 370.5l8 8M285.2 378.5l8 -8M285.9 368.3h8M289.9 364.3v8M285.9 364.3l8 8M285.9 372.3l8 -8M286.6 371h8M290.6 367v8M286.6 367l8 8M286.6 375l8 -8M287.3 371.2h8M291.3 367.2v8M287.3 367.2l8 8M287.3 375.2l8 -8M288 368.9h8M292 364.9v8M288 364.9l8 8M288 372.9l8 -8M288.7 366.1h8M292.7 362.1v8M288.7 362.1l8 8M288.7 370.1l8 -8M289.4 366.1h8M293.4 362.1v8M289.4 362.1l8 8M289.4 370.1l8 -8M290.1 370.1h8M294.1 366.1v8M290.1 366.1l8 8M290.1 374.1l8 -8M290.8 370h8M294.8 366v8M290.8 366l8 8M290.8 374l8 -8M291.5 366.6h8M295.5 362.6v8M291.5 362.6l8 8M291.5 370.6l8 -8M292.2 362.7h8M296.2 358.7v8M292.2 358.7l8 8M292.2 366.7l8 -8M292.9 368.9h8M296.9 364.9v8M292.9 364.9l8 8M292.9 372.9l8 -8M293.6 368.1h8M297.6 364.1v8M293.6 364.1l8 8M293.6 372.1l8 -8M294.3 362.6h8M298.3 358.6v8M294.3 358.6l8 8M294.3 366.6l8 -8M295 365.4h8M299 361.4v8M295 361.4l8 8M295 369.4l8 -8M295.7 368h8M299.7 364v8M295.7 364l8 8M295.7 372l8 -8M296.4 367.4h8M300.4 363.4v8M296.4 363.4l8 8M296.4 371.4l8 -8M297.1 363.5h8M301.1 359.5v8M297.1 359.5l8 8M297.1 367.5l8 -8M297.8 362.6h8M301.8 358.6v8M297.8 358.6l8 8M297.8 366.6l8 -8M298.5 363.2h8M302.5 359.2v8M298.5 359.2l8 8M298.5 367.2l8 -8M299.2 359h8M303.2 355v8M299.2 355l8 8M299.2 363l8 -8M299.9 358.6h8M303.9 354.6v8M299.9 354.6l8 8M299.9 362.6l8 -8M300.6 358.1h8M304.6 354.1v8M300.6 354.1l8 8M300.6 362.1l8 -8M301.3 362.4h8M305.3 358.4v8M301.3 358.4l8 8M301.3 366.4l8 -8M302 358.9h8M306 354.9v8M302 354.9l8 8M302 362.9l8 -8M302.7 360.2h8M306.7 356.2v8M302.7 356.2l8 8M302.7 364.2l8 -8M303.4 358.3h8M307.4 354.3v8M303.4 354.3l8 8M303.4 362.3l8 -8M304.1 358.9h8M308.1 354.9v8M304.1 354.9l8 8M304.1 362.9l8 -8M304.8 355.2h8M308.8 351.2v8M304.8 351.2l8 8M304.8 359.2l8 -8M305.5 353.9h8M309.5 349.9v8M305.5 349.9l8 8M305.5 357.9l8 -8M306.2 361.7h8M310.2 357.7v8M306.2 357.7l8 8M306.2 365.7l8 -8M306.9 356.3h8M310.9 352.3v8M306.9 352.3l8 8M306.9 360.3l8 -8M307.6 354.1h8M311.6 350.1v8M307.6 350.1l8 8M307.6 358.1l8 -8M308.3 358.4h8M312.3 354.4v8M308.3 354.4l8 8M308.3 362.4l8 -8M309 359.5h8M313 355.5v8M309 355.5l8 8M309 363.5l8 -8M309.7 354.4h8M313.7 350.4v8M309.7 350.4l8 8M309.7 358.4l8 -8M310.4 357.8h8M314.4 353.8v8M310.4 353.8l8 8M310.4 361.8l8 -8M311.1 355.8h8M315.1 351.8v8M311.1 351.8l8 8M311.1 359.8l8 -8M311.8 357.1h8M315.8 353.1v8M311.8 353.1l8 8M311.8 361.1l8 -8M312.5 353.4h8M316.5 349.4v8M312.5 349.4l8 8M312.5 357.4l8 -8M313.2 353.4h8M317.2 349.4v8M313.2 349.4l8 8M313.2 357.4l8 -8M313.9 360.2h8M317.9 356.2v8M313.9 356.2l8 8M313.9 364.2l8 -8M314.6 359.2h8M318.6 355.2v8M314.6 355.2l8 8M314.6 363.2l8 -8M315.3 356.5h8M319.3 352.5v8M315.3 352.5l8 8M315.3 360.5l8 -8M316 356.9h8M320 352.9v8M316 352.9l8 8M316 360.9l8 -8M316.7 354.6h8M320.7 350.6v8M316.7 350.6l8 8M316.7 358.6l8 -8M317.4 357.9h8M321.4 353.9v8M317.4 353.9l8 8M317.4 361.9l8 -8M318.1 355.1h8M322.1 351.1v8M318.1 351.1l8 8M318.1 359.1l8 -8M318.8 358.6h8M322.8 354.6v8M318.8 354.6l8 8M318.8 362.6l8 -8M319.5 357.1h8M323.5 353.1v8M319.5 353.1l8 8M319.5 361.1l8 -8M320.2 357.2h8M324.2 353.2v8M320.2 353.2l8 8M320.2 361.2l8 -8M320.9 358.1h8M324.9 354.1v8M320.9 354.1l8 8M320.9 362.1l8 -8M321.6 352.4h8M325.6 348.4v8M321.6 348.4l8 8M321.6 356.4l8 -8M322.3 350.3h8M326.3 346.3v8M322.3 346.3l8 8M322.3 354.3l8 -8M323 351.3h8M327 347.3v8M323 347.3l8 8M323 355.3l8 -8M323.7 350.8h8M327.7 346.8v8M323.7 346.8l8 8M323.7 354.8l8 -8M324.4 349.7h8M328.4 345.7v8M324.4 345.7l8 8M324.4 353.7l8 -8M325.1 349.1h8M329.1 345.1v8M325.1 345.1l8 8M325.1 353.1l8 -8M325.8 353.1h8M329.8 349.1v8M325.8 349.1l8 8M325.8 357.1l8 -8M326.5 355.5h8M330.5 351.5v8M326.5 351.5l8 8M326.5 359.5l8 -8M327.2 351.7h8M331.2 347.7v8M327.2 347.7l8 8M327.2 355.7l8 -8M327.9 355.4h8M331.9 351.4v8M327.9 351.4l8 8M327.9 359.4l8 -8M328.6 354.8h8M332.6 350.8v8M328.6 350.8l8 8M328.6 358.8l8 -8M329.3 347.7h8M333.3 343.7v8M329.3 343.7l8 8M329.3 351.7l8 -8M330 351.7h8M334 347.7v8M330 347.7l8 8M330 355.7l8 -8M330.7 349.8h8M334.7 345.8v8M330.7 345.8l8 8M330.7 353.8l8 -8M331.4 347.5h8M335.4 343.5v8M331.4 343.5l8 8M331.4 351.5l8 -8M332.1 353.4h8M336.1 349.4v8M332.1 349.4l8 8M332.1 357.4l8 -8M332.8 348h8M336.8 344v8M332.8 344l8 8M332.8 352l8 -8M333.5 350h8M337.5 346v8M333.5 346l8 8M333.5 354l8 -8M334.2 350.2h8M338.2 346.2v8M334.2 346.2l8 8M334.2 354.2l8 -8M334.9 352.1h8M338.9 348.1v8M334.9 348.1l8 8M334.9 356.1l8 -8M335.6 349.8h8M339.6 345.8v8M335.6 345.8l8 8M335.6 353.8l8 -8M336.3 347.6h8M340.3 343.6v8M336.3 343.6l8 8M336.3 351.6l8 -8M337 347.4h8M341 343.4v8M337 343.4l8 8M337 351.4l8 -8M337.7 344.9h8M341.7 340.9v8M337.7 340.9l8 8M337.7 348.9l8 -8M338.4 350.1h8M342.4 346.1v8M338.4 346.1l8 8M338.4 354.1l8 -8M339.1 349.9h8M343.1 345.9v8M339.1 345.9l8 8M339.1 353.9l8 -8M339.8 343.8h8M343.8 339.8v8M339.8 339.8l8 8M339.8 347.8l8 -8M340.5 341.9h8M344.5 337.9v8M340.5 337.9l8 8M340.5 345.9l8 -8M341.2 343h8M345.2 339v8M341.2 339l8 8M341.2 347l8 -8M341.9 343.2h8M345.9 339.2v8M341.9 339.2l8 8M341.9 347.2l8 -8M342.6 347.1h8M346.6 343.1v8M342.6 343.1l8 8M342.6 351.1l8 -8M343.3 346.7h8M347.3 342.7v8M343.3 342.7l8 8M343.3 350.7l8 -8M344 345.7h8M348 341.7v8M344 341.7l8 8M344 349.7l8 -8M344.7 338.6h8M348.7 334.6v8M344.7 334.6l8 8M344.7 342.6l8 -8M345.4 344.3h8M349.4 340.3v8M345.4 340.3l8 8M345.4 348.3l8 -8M346.1 343.3h8M350.1 339.3v8M346.1 339.3l8 8M346.1 347.3l8 -8M346.8 342.4h8M350.8 338.4v8M346.8 338.4l8 8M346.8 346.4l8 -8M347.5 344.6h8M351.5 340.6v8M347.5 340.6l8 8M347.5 348.6l8 -8M348.2 337.4h8M352.2 333.4v8M348.2 333.4l8 8M348.2 341.4l8 -8M348.9 337.9h8M352.9 333.9v8M348.9 333.9l8 8M348.9 341.9l8 -8M349.6 341.7h8M353.6 337.7v8M349.6 337.7l8 8M349.6 345.7l8 -8M350.3 342.4h8M354.3 338.4v8M350.3 338.4l8 8M350.3 346.4l8 -8M351 340.5h8M355 336.5v8M351 336.5l8 8M351 344.5l8 -8M351.7 338.2h8M355.7 334.2v8M351.7 334.2l8 8M351.7 342.2l8 -8M352.4 339.4h8M356.4 335.4v8M352.4 335.4l8 8M352.4 343.4l8 -8M353.1 339.8h8M357.1 335.8v8M353.1 335.8l8 8M353.1 343.8l8 -8M353.8 336.8h8M357.8 332.8v8M353.8 332.8l8 8M353.8 340.8l8 -8M354.5 337.5h8M358.5 333.5v8M354.5 333.5l8 8M354.5 341.5l8 -8M355.2 337.1h8M359.2 333.1v8M355.2 333.1l8 8M355.2 341.1l8 -8M355.9 336.5h8M359.9 332.5v8M355.9 332.5l8 8M355.9 340.5l8 -8M356.6 337.4h8M360.6 333.4v8M356.6 333.4l8 8M356.6 341.4l8 -8M357.3 336.2h8M361.3 332.2v8M357.3 332.2l8 8M357.3 340.2l8 -8M358 336.3h8M362 332.3v8M358 332.3l8 8M358 340.3l8 -8M358.7 335.7h8M362.7 331.7v8M358.7 331.7l8 8M358.7 339.7l8 -8M359.4 338h8M363.4 334v8M359.4 334l8 8M359.4 342l8 -8M360.1 334.6h8M364.1 330.6v8M360.1 330.6l8 8M360.1 338.6l8 -8M360.8 338.2h8M364.8 334.2v8M360.8 334.2l8 8M360.8 342.2l8 -8M361.5 335.2h8M365.5 331.2v8M361.5 331.2l8 8M361.5 339.2l8 -8M362.2 334.2h8M366.2 330.2v8M362.2 330.2l8 8M362.2 338.2l8 -8M362.9 338.8h8M366.9 334.8v8M362.9 334.8l8 8M362.9 342.8l8 -8M363.6 334.9h8M367.6 330.9v8M363.6 330.9l8 8M363.6 338.9l8 -8M364.3 338.5h8M368.3 334.5v8M364.3 334.5l8 8M364.3 342.5l8 -8M365 337.9h8M369 333.9v8M365 333.9l8 8M365 341.9l8 -8M365.7 337.8h8M369.7 333.8v8M365.7 333.8l8 8M365.7 341.8l8 -8M366.4 333.8h8M370.4 329.8v8M366.4 329.8l8 8M366.4 337.8l8 -8M367.1 335.2h8M371.1 331.2v8M367.1 331.2l8 8M367.1 339.2l8 -8M367.8 333.3h8M371.8 329.3v8M367.8 329.3l8 8M367.8 337.3l8 -8M368.5 337.2h8M372.5 333.2v8M368.5 333.2l8 8M368.5 341.2l8 -8M369.2 336.6h8M373.2 332.6v8M369.2 332.6l8 8M369.2 340.6l8 -8M369.9 335.4h8M373.9 331.4v8M369.9 331.4l8 8M369.9 339.4l8 -8M370.6 334.4h8M374.6 330.4v8M370.6 330.4l8 8M370.6 338.4l8 -8M371.3 333.7h8M375.3 329.7v8M371.3 329.7l8 8M371.3 337.7l8 -8M372 335.7h8M376 331.7v8M372 331.7l8 8M372 339.7l8 -8M372.7 333.8h8M376.7 329.8v8M372.7 329.8l8 8M372.7 337.8l8 -8M373.4 334.3h8M377.4 330.3v8M373.4 330.3l8 8M373.4 338.3l8 -8M374.1 331.7h8M378.1 327.7v8M374.1 327.7l8 8M374.1 335.7l8 -8M374.8 331.8h8M378.8 327.8v8M374.8 327.8l8 8M374.8 335.8l8 -8M375.5 330.7h8M379.5 326.7v8M375.5 326.7l8 8M375.5 334.7l8 -8M376.2 333.8h8M380.2 329.8v8M376.2 329.8l8 8M376.2 337.8l8 -8M376.9 332.7h8M380.9 328.7v8M376.9 328.7l8 8M376.9 336.7l8 -8M377.6 330.3h8M381.6 326.3v8M377.6 326.3l8 8M377.6 334.3l8 -8M378.3 333.9h8M382.3 329.9v8M378.3 329.9l8 8M378.3 337.9l8 -8M379 330.4h8M383 326.4v8M379 326.4l8 8M379 334.4l8 -8M379.7 331h8M383.7 327v8M379.7 327l8 8M379.7 335l8 -8M380.4 329.3h8M384.4 325.3v8M380.4 325.3l8 8M380.4 333.3l8 -8M381.1 329.7h8M385.1 325.7v8M381.1 325.7l8 8M381.1 333.7l8 -8M381.8 332.6h8M385.8 328.6v8M381.8 328.6l8 8M381.8 336.6l8 -8M382.5 329.4h8M386.5 325.4v8M382.5 325.4l8 8M382.5 333.4l8 -8M383.2 328.1h8M387.2 324.1v8M383.2 324.1l8 8M383.2 332.1l8 -8M383.9 329.6h8M387.9 325.6v8M383.9 325.6l8 8M383.9 333.6l8 -8M384.6 328.3h8M388.6 324.3v8M384.6 324.3l8 8M384.6 332.3l8 -8M385.3 331.5h8M389.3 327.5v8M385.3 327.5l8 8M385.3 335.5l8 -8M386 326.4h8M390 322.4v8M386 322.4l8 8M386 330.4l8 -8M386.7 331.4h8M390.7 327.4v8M386.7 327.4l8 8M386.7 335.4l8 -8M387.4 325.4h8M391.4 321.4v8M387.4 321.4l8 8M387.4 329.4l8 -8M388.1 330.3h8M392.1 326.3v8M388.1 326.3l8 8M388.1 334.3l8 -8M388.8 328.6h8M392.8 324.6v8M388.8 324.6l8 8M388.8 332.6l8 -8M389.5 325.3h8M393.5 321.3v8M389.5 321.3l8 8M389.5 329.3l8 -8M390.2 326.7h8M394.2 322.7v8M390.2 322.7l8 8M390.2 330.7l8 -8M390.9 325.1h8M394.9 321.1v8M390.9 321.1l8 8M390.9 329.1l8 -8M391.6 324.6h8M395.6 320.6v8M391.6 320.6l8 8M391.6 328.6l8 -8M392.3 323.9h8M396.3 319.9v8M392.3 319.9l8 8M392.3 327.9l8 -8M393 324.5h8M397 320.5v8M393 320.5l8 8M393 328.5l8 -8M393.7 328.1h8M397.7 324.1v8M393.7 324.1l8 8M393.7 332.1l8 -8M394.4 327.7h8M398.4 323.7v8M394.4 323.7l8 8M394.4 331.7l8 -8M395.1 326.9h8M399.1 322.9v8M395.1 322.9l8 8M395.1 330.9l8 -8M395.8 321.4h8M399.8 317.4v8M395.8 317.4l8 8M395.8 325.4l8 -8M396.5 322.2h8M400.5 318.2v8M396.5 318.2l8 8M396.5 326.2l8 -8M397.2 325.5h8M401.2 321.5v8M397.2 321.5l8 8M397.2 329.5l8 -8M397.9 320.1h8M401.9 316.1v8M397.9 316.1l8 8M397.9 324.1l8 -8M398.6 323.6h8M402.6 319.6v8M398.6 319.6l8 8M398.6 327.6l8 -8M399.3 320.7h8M403.3 316.7v8M399.3 316.7l8 8M399.3 324.7l8 -8M400 324.3h8M404 320.3v8M400 320.3l8 8M400 328.3l8 -8M400.7 318.4h8M404.7 314.4v8M400.7 314.4l8 8M400.7 322.4l8 -8M401.4 322.6h8M405.4 318.6v8M401.4 318.6l8 8M401.4 326.6l8 -8M402.1 319.8h8M406.1 315.8v8M402.1 315.8l8 8M402.1 323.8l8 -8M402.8 318.4h8M406.8 314.4v8M402.8 314.4l8 8M402.8 322.4l8 -8M403.5 317.5h8M407.5 313.5v8M403.5 313.5l8 8M403.5 321.5l8 -8M404.2 321.9h8M408.2 317.9v8M404.2 317.9l8 8M404.2 325.9l8 -8M404.9 320h8M408.9 316v8M404.9 316l8 8M404.9 324l8 -8M405.6 317.9h8M409.6 313.9v8M405.6 313.9l8 8M405.6 321.9l8 -8M406.3 319h8M410.3 315v8M406.3 315l8 8M406.3 323l8 -8M407 321.5h8M411 317.5v8M407 317.5l8 8M407 325.5l8 -8M407.7 317.4h8M411.7 313.4v8M407.7 313.4l8 8M407.7 321.4l8 -8M408.4 319.2h8M412.4 315.2v8M408.4 315.2l8 8M408.4 323.2l8 -8M409.1 316.5h8M413.1 312.5v8M409.1 312.5l8 8M409.1 320.5l8 -8M409.8 316.6h8M413.8 312.6v8M409.8 312.6l8 8M409.8 320.6l8 -8M410.5 319.7h8M414.5 315.7v8M410.5 315.7l8 8M410.5 323.7l8 -8M411.2 319.1h8M415.2 315.1v8M411.2 315.1l8 8M411.2 323.1l8 -8M411.9 316h8M415.9 312v8M411.9 312l8 8M411.9 320l8 -8M412.6 315.2h8M416.6 311.2v8M412.6 311.2l8 8M412.6 319.2l8 -8M413.3 315h8M417.3 311v8M413.3 311l8 8M413.3 319l8 -8M414 317.5h8M418 313.5v8M414 313.5l8 8M414 321.5l8 -8M414.7 316.7h8M418.7 312.7v8M414.7 312.7l8 8M414.7 320.7l8 -8M415.4 315.3h8M419.4 311.3v8M415.4 311.3l8 8M415.4 319.3l8 -8M416.1 314.7h8M420.1 310.7v8M416.1 310.7l8 8M416.1 318.7l8 -8M416.8 316.5h8M420.8 312.5v8M416.8 312.5l8 8M416.8 320.5l8 -8M417.5 316.8h8M421.5 312.8v8M417.5 312.8l8 8M417.5 320.8l8 -8M418.2 317h8M422.2 313v8M418.2 313l8 8M418.2 321l8 -8M418.9 315.6h8M422.9 311.6v8M418.9 311.6l8 8M418.9 319.6l8 -8M419.6 313.6h8M423.6 309.6v8M419.6 309.6l8 8M419.6 317.6l8 -8M420.3 312.7h8M424.3 308.7v8M420.3 308.7l8 8M420.3 316.7l8 -8M421 315.6h8M425 311.6v8M421 311.6l8 8M421 319.6l8 -8M421.7 313.9h8M425.7 309.9v8M421.7 309.9l8 8M421.7 317.9l8 -8M422.4 315.1h8M426.4 311.1v8M422.4 311.1l8 8M422.4 319.1l8 -8M423.1 311.8h8M427.1 307.8v8M423.1 307.8l8 8M423.1 315.8l8 -8M423.8 315.1h8M427.8 311.1v8M423.8 311.1l8 8M423.8 319.1l8 -8M424.5 312.7h8M428.5 308.7v8M424.5 308.7l8 8M424.5 316.7l8 -8M425.2 314.8h8M429.2 310.8v8M425.2 310.8l8 8M425.2 318.8l8 -8M425.9 314.7h8M429.9 310.7v8M425.9 310.7l8 8M425.9 318.7l8 -8M426.6 312.8h8M430.6 308.8v8M426.6 308.8l8 8M426.6 316.8l8 -8M427.3 310.4h8M431.3 306.4v8M427.3 306.4l8 8M427.3 314.4l8 -8M428 314.3h8M432 310.3v8M428 310.3l8 8M428 318.3l8 -8M428.7 312.1h8M432.7 308.1v8M428.7 308.1l8 8M428.7 316.1l8 -8M429.4 313.7h8M433.4 309.7v8M429.4 309.7l8 8M429.4 317.7l8 -8M430.1 310.7h8M434.1 306.7v8M430.1 306.7l8 8M430.1 314.7l8 -8M430.8 310.1h8M434.8 306.1v8M430.8 306.1l8 8M430.8 314.1l8 -8M431.5 312.9h8M435.5 308.9v8M431.5 308.9l8 8M431.5 316.9l8 -8M432.2 310.6h8M436.2 306.6v8M432.2 306.6l8 8M432.2 314.6l8 -8M432.9 309.6h8M436.9 305.6v8M432.9 305.6l8 8M432.9 313.6l8 -8M433.6 310.4h8M437.6 306.4v8M433.6 306.4l8 8M433.6 314.4l8 -8M434.3 311.3h8M438.3 307.3v8M434.3 307.3l8 8M434.3 315.3l8 -8M435 308.4h8M439 304.4v8M435 304.4l8 8M435 312.4l8 -8M435.7 310.7h8M439.7 306.7v8M435.7 306.7l8 8M435.7 314.7l8 -8M436.4 310.2h8M440.4 306.2v8M436.4 306.2l8 8M436.4 314.2l8 -8M437.1 310.4h8M441.1 306.4v8M437.1 306.4l8 8M437.1 314.4l8 -8M437.8 308.4h8M441.8 304.4v8M437.8 304.4l8 8M437.8 312.4l8 -8M438.5 311h8M442.5 307v8M438.5 307l8 8M438.5 315l8 -8M439.2 311.3h8M443.2 307.3v8M439.2 307.3l8 8M439.2 315.3l8 -8M439.9 311.4h8M443.9 307.4v8M439.9 307.4l8 8M439.9 315.4l8 -8M440.6 308.8h8M444.6 304.8v8M440.6 304.8l8 8M440.6 312.8l8 -8M441.3 310.4h8M445.3 306.4v8M441.3 306.4l8 8M441.3 314.4l8 -8M442 308.7h8M446 304.7v8M442 304.7l8 8M442 312.7l8 -8M442.7 310.1h8M446.7 306.1v8M442.7 306.1l8 8M442.7 314.1l8 -8M443.4 306.8h8M447.4 302.8v8M443.4 302.8l8 8M443.4 310.8l8 -8M444.1 310.3h8M448.1 306.3v8M444.1 306.3l8 8M444.1 314.3l8 -8M444.8 310.4h8M448.8 306.4v8M444.8 306.4l8 8M444.8 314.4l8 -8M445.5 308.1h8M449.5 304.1v8M445.5 304.1l8 8M445.5 312.1l8 -8M446.2 308h8M450.2 304v8M446.2 304l8 8M446.2 312l8 -8M446.9 307.9h8M450.9 303.9v8M446.9 303.9l8 8M446.9 311.9l8 -8M447.6 307.7h8M451.6 303.7v8M447.6 303.7l8 8M447.6 311.7l8 -8M448.3 305.1h8M452.3 301.1v8M448.3 301.1l8 8M448.3 309.1l8 -8M449 309.3h8M453 305.3v8M449 305.3l8 8M449 313.3l8 -8M449.7 305.6h8M453.7 301.6v8M449.7 301.6l8 8M449.7 309.6l8 -8M450.4 305.2h8M454.4 301.2v8M450.4 301.2l8 8M450.4 309.2l8 -8M451.1 304.7h8M455.1 300.7v8M451.1 300.7l8 8M451.1 308.7l8 -8M451.8 305.3h8M455.8 301.3v8M451.8 301.3l8 8M451.8 309.3l8 -8M452.5 307.8h8M456.5 303.8v8M452.5 303.8l8 8M452.5 311.8l8 -8M453.2 304.3h8M457.2 300.3v8M453.2 300.3l8 8M453.2 308.3l8 -8M453.9 304.6h8M457.9 300.6v8M453.9 300.6l8 8M453.9 308.6l8 -8M454.6 307.2h8M458.6 303.2v8M454.6 303.2l8 8M454.6 311.2l8 -8M455.3 305h8M459.3 301v8M455.3 301l8 8M455.3 309l8 -8M456 304.3h8M460 300.3v8M456 300.3l8 8M456 308.3l8 -8M456.7 306.6h8M460.7 302.6v8M456.7 302.6l8 8M456.7 310.6l8 -8M457.4 306.5h8M461.4 302.5v8M457.4 302.5l8 8M457.4 310.5l8 -8M458.1 306.2h8M462.1 302.2v8M458.1 302.2l8 8M458.1 310.2l8 -8M458.8 306.9h8M462.8 302.9v8M458.8 302.9l8 8M458.8 310.9l8 -8M459.5 304.6h8M463.5 300.6v8M459.5 300.6l8 8M459.5 308.6l8 -8M460.2 307.4h8M464.2 303.4v8M460.2 303.4l8 8M460.2 311.4l8 -8M460.9 306.8h8M464.9 302.8v8M460.9 302.8l8 8M460.9 310.8l8 -8M461.6 304.4h8M465.6 300.4v8M461.6 300.4l8 8M461.6 308.4l8 -8M462.3 304.7h8M466.3 300.7v8M462.3 300.7l8 8M462.3 308.7l8 -8M463 305.9h8M467 301.9v8M463 301.9l8 8M463 309.9l8 -8M463.7 306h8M467.7 302v8M463.7 302l8 8M463.7 310l8 -8M464.4 305.3h8M468.4 301.3v8M464.4 301.3l8 8M464.4 309.3l8 -8M465.1 304.8h8M469.1 300.8v8M465.1 300.8l8 8M465.1 308.8l8 -8M465.8 305.7h8M469.8 301.7v8M465.8 301.7l8 8M465.8 309.7l8 -8M466.5 304.9h8M470.5 300.9v8M466.5 300.9l8 8M466.5 308.9l8 -8M467.2 306.1h8M471.2 302.1v8M467.2 302.1l8 8M467.2 310.1l8 -8M467.9 306.8h8M471.9 302.8v8M467.9 302.8l8 8M467.9 310.8l8 -8M468.6 305.1h8M472.6 301.1v8M468.6 301.1l8 8M468.6 309.1l8 -8M469.3 306h8M473.3 302v8M469.3 302l8 8M469.3 310l8 -8M470 306.4h8M474 302.4v8M470 302.4l8 8M470 310.4l8 -8M470.7 305.2h8M474.7 301.2v8M470.7 301.2l8 8M470.7 309.2l8 -8M471.4 306.5h8M475.4 302.5v8M471.4 302.5l8 8M471.4 310.5l8 -8M472.1 306.7h8M476.1 302.7v8M472.1 302.7l8 8M472.1 310.7l8 -8M472.8 305.6h8M476.8 301.6v8M472.8 301.6l8 8M472.8 309.6l8 -8M473.5 305.7h8M477.5 301.7v8M473.5 301.7l8 8M473.5 309.7l8 -8M474.2 306.6h8M478.2 302.6v8M474.2 302.6l8 8M474.2 310.6l8 -8M474.9 306h8M478.9 302v8M474.9 302l8 8M474.9 310l8 -8M475.6 305.7h8M479.6 301.7v8M475.6 301.7l8 8M475.6 309.7l8 -8M476.3 306.9h8M480.3 302.9v8M476.3 302.9l8 8M476.3 310.9l8 -8M477 306.6h8M481 302.6v8M477 302.6l8 8M477 310.6l8 -8M477.7 305.5h8M481.7 301.5v8M477.7 301.5l8 8M477.7 309.5l8 -8M478.4 305.3h8M482.4 301.3v8M478.4 301.3l8 8M478.4 309.3l8 -8M479.1 305.5h8M483.1 301.5v8M479.1 301.5l8 8M479.1 309.5l8 -8M479.8 305.8h8M483.8 301.8v8M479.8 301.8l8 8M479.8 309.8l8 -8M480.5 307.3h8M484.5 303.3v8M480.5 303.3l8 8M480.5 311.3l8 -8M481.2 306.8h8M485.2 302.8v8M481.2 302.8l8 8M481.2 310.8l8 -8M481.9 307.1h8M485.9 303.1v8M481.9 303.1l8 8M481.9 311.1l8 -8M482.6 306.9h8M486.6 302.9v8M482.6 302.9l8 8M482.6 310.9l8 -8M483.3 307h8M487.3 303v8M483.3 303l8 8M483.3 311l8 -8M484 304.7h8M488 300.7v8M484 300.7l8 8M484 308.7l8 -8M484.7 306.1h8M488.7 302.1v8M484.7 302.1l8 8M484.7 310.1l8 -8M485.4 307.4h8M489.4 303.4v8M485.4 303.4l8 8M485.4 311.4l8 -8M486.1 307.4h8M490.1 303.4v8M486.1 303.4l8 8M486.1 311.4l8 -8M486.8 305.4h8M490.8 301.4v8M486.8 301.4l8 8M486.8 309.4l8 -8M487.5 306.1h8M491.5 302.1v8M487.5 302.1l8 8M487.5 310.1l8 -8M488.2 306.9h8M492.2 302.9v8M488.2 302.9l8 8M488.2 310.9l8 -8M488.9 306.2h8M492.9 302.2v8M488.9 302.2l8 8M488.9 310.2l8 -8M489.6 306.9h8M493.6 302.9v8M489.6 302.9l8 8M489.6 310.9l8 -8M490.3 305.5h8M494.3 301.5v8M490.3 301.5l8 8M490.3 309.5l8 -8M491 306.9h8M495 302.9v8M491 302.9l8 8M491 310.9l8 -8M491.7 307.2h8M495.7 303.2v8M491.7 303.2l8 8M491.7 311.2l8 -8M492.4 305.7h8M496.4 301.7v8M492.4 301.7l8 8M492.4 309.7l8 -8M493.1 306.2h8M497.1 302.2v8M493.1 302.2l8 8M493.1 310.2l8 -8M493.8 309.2h8M497.8 305.2v8M493.8 305.2l8 8M493.8 313.2l8 -8M494.5 308.6h8M498.5 304.6v8M494.5 304.6l8 8M494.5 312.6l8 -8M495.2 309.1h8M499.2 305.1v8M495.2 305.1l8 8M495.2 313.1l8 -8M495.9 308.3h8M499.9 304.3v8M495.9 304.3l8 8M495.9 312.3l8 -8M496.6 308.8h8M500.6 304.8v8M496.6 304.8l8 8M496.6 312.8l8 -8M497.3 309h8M501.3 305v8M497.3 305l8 8M497.3 313l8 -8M498 309.1h8M502 305.1v8M498 305.1l8 8M498 313.1l8 -8M498.7 307.5h8M502.7 303.5v8M498.7 303.5l8 8M498.7 311.5l8 -8M499.4 308.7h8M503.4 304.7v8M499.4 304.7l8 8M499.4 312.7l8 -8M500.1 308.3h8M504.1 304.3v8M500.1 304.3l8 8M500.1 312.3l8 -8M500.8 308.9h8M504.8 304.9v8M500.8 304.9l8 8M500.8 312.9l8 -8M501.5 308.6h8M505.5 304.6v8M501.5 304.6l8 8M501.5 312.6l8 -8M502.2 309.1h8M506.2 305.1v8M502.2 305.1l8 8M502.2 313.1l8 -8M502.9 309.9h8M506.9 305.9v8M502.9 305.9l8 8M502.9 313.9l8 -8M503.6 309.6h8M507.6 305.6v8M503.6 305.6l8 8M503.6 313.6l8 -8M504.3 309.1h8M508.3 305.1v8M504.3 305.1l8 8M504.3 313.1l8 -8M505 309.7h8M509 305.7v8M505 305.7l8 8M505 313.7l8 -8M505.7 309.7h8M509.7 305.7v8M505.7 305.7l8 8M505.7 313.7l8 -8M506.4 311.1h8M510.4 307.1v8M506.4 307.1l8 8M506.4 315.1l8 -8M507.1 309.6h8M511.1 305.6v8M507.1 305.6l8 8M507.1 313.6l8 -8M507.8 309.8h8M511.8 305.8v8M507.8 305.8l8 8M507.8 313.8l8 -8M508.5 311h8M512.5 307v8M508.5 307l8 8M508.5 315l8 -8M509.2 309.7h8M513.2 305.7v8M509.2 305.7l8 8M509.2 313.7l8 -8M509.9 311.5h8M513.9 307.5v8M509.9 307.5l8 8M509.9 315.5l8 -8M510.6 313h8M514.6 309v8M510.6 309l8 8M510.6 317l8 -8M511.3 311.8h8M515.3 307.8v8M511.3 307.8l8 8M511.3 315.8l8 -8M512 311.2h8M516 307.2v8M512 307.2l8 8M512 315.2l8 -8M512.7 312.2h8M516.7 308.2v8M512.7 308.2l8 8M512.7 316.2l8 -8M513.4 312.8h8M517.4 308.8v8M513.4 308.8l8 8M513.4 316.8l8 -8M514.1 311.5h8M518.1 307.5v8M514.1 307.5l8 8M514.1 315.5l8 -8M514.8 311.7h8M518.8 307.7v8M514.8 307.7l8 8M514.8 315.7l8 -8M515.5 311.9h8M519.5 307.9v8M515.5 307.9l8 8M515.5 315.9l8 -8M516.2 312.9h8M520.2 308.9v8M516.2 308.9l8 8M516.2 316.9l8 -8M516.9 313.6h8M520.9 309.6v8M516.9 309.6l8 8M516.9 317.6l8 -8M517.6 313.4h8M521.6 309.4v8M517.6 309.4l8 8M517.6 317.4l8 -8M518.3 313.4h8M522.3 309.4v8M518.3 309.4l8 8M518.3 317.4l8 -8M519 313.1h8M523 309.1v8M519 309.1l8 8M519 317.1l8 -8M519.7 315.1h8M523.7 311.1v8M519.7 311.1l8 8M519.7 319.1l8 -8M545.2 323.1h8M549.2 319.1v8M545.2 319.1l8 8M545.2 327.1l8 -8M539.3 323.3h8M543.3 319.3v8M539.3 319.3l8 8M539.3 327.3l8 -8M542.9 323.1h8M546.9 319.1v8M542.9 319.1l8 8M542.9 327.1l8 -8M543.3 323.3h8M547.3 319.3v8M543.3 319.3l8 8M543.3 327.3l8 -8M544.3 323.2h8M548.3 319.2v8M544.3 319.2l8 8M544.3 327.2l8 -8M539.6 322.9h8M543.6 318.9v8M539.6 318.9l8 8M539.6 326.9l8 -8M542.2 323h8M546.2 319v8M542.2 319l8 8M542.2 327l8 -8M541.5 323.3h8M545.5 319.3v8M541.5 319.3l8 8M541.5 327.3l8 -8M542.4 322h8M546.4 318v8M542.4 318l8 8M542.4 326l8 -8M539.9 321.8h8M543.9 317.8v8M539.9 317.8l8 8M539.9 325.8l8 -8M541.9 321.6h8M545.9 317.6v8M541.9 317.6l8 8M541.9 325.6l8 -8M541.7 321.8h8M545.7 317.8v8M541.7 317.8l8 8M541.7 325.8l8 -8M538 321.5h8M542 317.5v8M538 317.5l8 8M538 325.5l8 -8M538 323.5h8M542 319.5v8M538 319.5l8 8M538 327.5l8 -8M546 321.5h8M550 317.5v8M546 317.5l8 8M546 325.5l8 -8M546 323.5h8M550 319.5v8M546 319.5l8 8M546 327.5l8 -8M197.5 409.5h8M201.5 405.5v8M197.5 405.5l8 8M197.5 413.5l8 -8"/>
</g>
<path fill="none" stroke="#000" stroke-width="1" d="M97 2.6H597.5V131.8H97ZM97 131.8H597.5V297.5H97ZM97 297.5H597.5V422.7H97ZM98.2 131.8V130.5M98.2 2.6V3.9M104.8 131.8V130.5M104.8 2.6V3.9M111.4 131.8V130.5M111.4 2.6V3.9M118 131.8V130.5M118 2.6V3.9M124.6 131.8V130.5M124.6 2.6V3.9M131.3 131.8V130.5M131.3 2.6V3.9M137.9 131.8V130.5M137.9 2.6V3.9M144.5 131.8V129.2M144.5 2.6V5.2M151.1 131.8V130.5M151.1 2.6V3.9M157.7 131.8V130.5M157.7 2.6V3.9M164.4 131.8V130.5M164.4 2.6V3.9M171 131.8V130.5M171 2.6V3.9M177.6 131.8V130.5M177.6 2.6V3.9M184.2 131.8V130.5M184.2 2.6V3.9M190.8 131.8V130.5M190.8 2.6V3.9M197.5 131.8V130.5M197.5 2.6V3.9M204.1 131.8V130.5M204.1 2.6V3.9M210.7 131.8V130.5M210.7 2.6V3.9M217.3 131.8V130.5M217.3 2.6V3.9M223.9 131.8V129.2M223.9 2.6V5.2M230.6 131.8V130.5M230.6 2.6V3.9M237.2 131.8V130.5M237.2 2.6V3.9M243.8 131.8V130.5M243.8 2.6V3.9M250.4 131.8V130.5M250.4 2.6V3.9M257 131.8V130.5M257 2.6V3.9M263.7 131.8V130.5M263.7 2.6V3.9M270.3 131.8V130.5M270.3 2.6V3.9M276.9 131.8V130.5M276.9 2.6V3.9M283.5 131.8V130.5M283.5 2.6V3.9M290.1 131.8V130.5M290.1 2.6V3.9M296.8 131.8V130.5M296.8 2.6V3.9M303.4 131.8V129.2M303.4 2.6V5.2M310 131.8V130.5M310 2.6V3.9M316.6 131.8V130.5M316.6 2.6V3.9M323.2 131.8V130.5M323.2 2.6V3.9M329.9 131.8V130.5M329.9 2.6V3.9M336.5 131.8V130.5M336.5 2.6V3.9M343.1 131.8V130.5M343.1 2.6V3.9M349.7 131.8V130.5M349.7 2.6V3.9M356.3 131.8V130.5M356.3 2.6V3.9M363 131.8V130.5M363 2.6V3.9M369.6 131.8V130.5M369.6 2.6V3.9M376.2 131.8V130.5M376.2 2.6V3.9M382.8 131.8V129.2M382.8 2.6V5.2M389.4 131.8V130.5M389.4 2.6V3.9M396.1 131.8V130.5M396.1 2.6V3.9M402.7 131.8V130.5M402.7 2.6V3.9M409.3 131.8V130.5M409.3 2.6V3.9M415.9 131.8V130.5M415.9 2.6V3.9M422.5 131.8V130.5M422.5 2.6V3.9M429.2 131.8V130.5M429.2 2.6V3.9M435.8 131.8V130.5M435.8 2.6V3.9M442.4 131.8V130.5M442.4 2.6V3.9M449 131.8V130.5M449 2.6V3.9M455.6 131.8V130.5M455.6 2.6V3.9M462.3 131.8V129.2M462.3 2.6V5.2M468.9 131.8V130.5M468.9 2.6V3.9M475.5 131.8V130.5M475.5 2.6V3.9M482.1 131.8V130.5M482.1 2.6V3.9M488.7 131.8V130.5M488.7 2.6V3.9M495.4 131.8V130.5M495.4 2.6V3.9M502 131.8V130.5M502 2.6V3.9M508.6 131.8V130.5M508.6 2.6V3.9M515.2 131.8V130.5M515.2 2.6V3.9M521.8 131.8V130.5M521.8 2.6V3.9M528.5 131.8V130.5M528.5 2.6V3.9M535.1 131.8V130.5M535.1 2.6V3.9M541.7 131.8V129.2M541.7 2.6V5.2M548.3 131.8V130.5M548.3 2.6V3.9M554.9 131.8V130.5M554.9 2.6V3.9M561.6 131.8V130.5M561.6 2.6V3.9M568.2 131.8V130.5M568.2 2.6V3.9M574.8 131.8V130.5M574.8 2.6V3.9M581.4 131.8V130.5M581.4 2.6V3.9M588 131.8V130.5M588 2.6V3.9M594.7 131.8V130.5M594.7 2.6V3.9M98.2 297.5V295.8M98.2 131.8V133.5M104.8 297.5V295.8M104.8 131.8V133.5M111.4 297.5V295.8M111.4 131.8V133.5M118 297.5V295.8M118 131.8V133.5M124.6 297.5V295.8M124.6 131.8V133.5M131.3 297.5V295.8M131.3 131.8V133.5M137.9 297.5V295.8M137.9 131.8V133.5M144.5 297.5V294.2M144.5 131.8V135.1M151.1 297.5V295.8M151.1 131.8V133.5M157.7 297.5V295.8M157.7 131.8V133.5M164.4 297.5V295.8M164.4 131.8V133.5M171 297.5V295.8M171 131.8V133.5M177.6 297.5V295.8M177.6 131.8V133.5M184.2 297.5V295.8M184.2 131.8V133.5M190.8 297.5V295.8M190.8 131.8V133.5M197.5 297.5V295.8M197.5 131.8V133.5M204.1 297.5V295.8M204.1 131.8V133.5M210.7 297.5V295.8M210.7 131.8V133.5M217.3 297.5V295.8M217.3 131.8V133.5M223.9 297.5V294.2M223.9 131.8V135.1M230.6 297.5V295.8M230.6 131.8V133.5M237.2 297.5V295.8M237.2 131.8V133.5M243.8 297.5V295.8M243.8 131.8V133.5M250.4 297.5V295.8M250.4 131.8V133.5M257 297.5V295.8M257 131.8V133.5M263.7 297.5V295.8M263.7 131.8V133.5M270.3 297.5V295.8M270.3 131.8V133.5M276.9 297.5V295.8M276.9 131.8V133.5M283.5 297.5V295.8M283.5 131.8V133.5M290.1 297.5V295.8M290.1 131.8V133.5M296.8 297.5V295.8M296.8 131.8V133.5M303.4 297.5V294.2M303.4 131.8V135.1M310 297.5V295.8M310 131.8V133.5M316.6 297.5V295.8M316.6 131.8V133.5M323.2 297.5V295.8M323.2 131.8V133.5M329.9 297.5V295.8M329.9 131.8V133.5M336.5 297.5V295.8M336.5 131.8V133.5M343.1 297.5V295.8M343.1 131.8V133.5M349.7 297.5V295.8M349.7 131.8V133.5M356.3 297.5V295.8M356.3 131.8V133.5M363 297.5V295.8M363 131.8V133.5M369.6 297.5V295.8M369.6 131.8V133.5M376.2 297.5V295.8M376.2 131.8V133.5M382.8 297.5V294.2M382.8 131.8V135.1M389.4 297.5V295.8M389.4 131.8V133.5M396.1 297.5V295.8M396.1 131.8V133.5M402.7 297.5V295.8M402.7 131.8V133.5M409.3 297.5V295.8M409.3 131.8V133.5M415.9 297.5V295.8M415.9 131.8V133.5M422.5 297.5V295.8M422.5 131.8V133.5M429.2 297.5V295.8M429.2 131.8V133.5M435.8 297.5V295.8M435.8 131.8V133.5M442.4 297.5V295.8M442.4 131.8V133.5M449 297.5V295.8M449 131.8V133.5M455.6 297.5V295.8M455.6 131.8V133.5M462.3 297.5V294.2M462.3 131.8V135.1M468.9 297.5V295.8M468.9 131.8V133.5M475.5 297.5V295.8M475.5 131.8V133.5M482.1 297.5V295.8M482.1 131.8V133.5M488.7 297.5V295.8M488.7 131.8V133.5M495.4 297.5V295.8M495.4 131.8V133.5M502 297.5V295.8M502 131.8V133.5M508.6 297.5V295.8M508.6 131.8V133.5M515.2 297.5V295.8M515.2 131.8V133.5M521.8 297.5V295.8M521.8 131.8V133.5M528.5 297.5V295.8M528.5 131.8V133.5M535.1 297.5V295.8M535.1 131.8V133.5M541.7 297.5V294.2M541.7 131.8V135.1M548.3 297.5V295.8M548.3 131.8V133.5M554.9 297.5V295.8M554.9 131.8V133.5M561.6 297.5V295.8M561.6 131.8V133.5M568.2 297.5V295.8M568.2 131.8V133.5M574.8 297.5V295.8M574.8 131.8V133.5M581.4 297.5V295.8M581.4 131.8V133.5M588 297.5V295.8M588 131.8V133.5M594.7 297.5V295.8M594.7 131.8V133.5M98.2 422.7V421.4M98.2 297.5V298.8M104.8 422.7V421.4M104.8 297.5V298.8M111.4 422.7V421.4M111.4 297.5V298.8M118 422.7V421.4M118 297.5V298.8M124.6 422.7V421.4M124.6 297.5V298.8M131.3 422.7V421.4M131.3 297.5V298.8M137.9 422.7V421.4M137.9 297.5V298.8M144.5 422.7V420.2M144.5 297.5V300M151.1 422.7V421.4M151.1 297.5V298.8M157.7 422.7V421.4M157.7 297.5V298.8M164.4 422.7V421.4M164.4 297.5V298.8M171 422.7V421.4M171 297.5V298.8M177.6 422.7V421.4M177.6 297.5V298.8M184.2 422.7V421.4M184.2 297.5V298.8M190.8 422.7V421.4M190.8 297.5V298.8M197.5 422.7V421.4M197.5 297.5V298.8M204.1 422.7V421.4M204.1 297.5V298.8M210.7 422.7V421.4M210.7 297.5V298.8M217.3 422.7V421.4M217.3 297.5V298.8M223.9 422.7V420.2M223.9 297.5V300M230.6 422.7V421.4M230.6 297.5V298.8M237.2 422.7V421.4M237.2 297.5V298.8M243.8 422.7V421.4M243.8 297.5V298.8M250.4 422.7V421.4M250.4 297.5V298.8M257 422.7V421.4M257 297.5V298.8M263.7 422.7V421.4M263.7 297.5V298.8M270.3 422.7V421.4M270.3 297.5V298.8M276.9 422.7V421.4M276.9 297.5V298.8M283.5 422.7V421.4M283.5 297.5V298.8M290.1 422.7V421.4M290.1 297.5V298.8M296.8 422.7V421.4M296.8 297.5V298.8M303.4 422.7V420.2M303.4 297.5V300M310 422.7V421.4M310 297.5V298.8M316.6 422.7V421.4M316.6 297.5V298.8M323.2 422.7V421.4M323.2 297.5V298.8M329.9 422.7V421.4M329.9 297.5V298.8M336.5 422.7V421.4M336.5 297.5V298.8M343.1 422.7V421.4M343.1 297.5V298.8M349.7 422.7V421.4M349.7 297.5V298.8M356.3 422.7V421.4M356.3 297.5V298.8M363 422.7V421.4M363 297.5V298.8M369.6 422.7V421.4M369.6 297.5V298.8M376.2 422.7V421.4M376.2 297.5V298.8M382.8 422.7V420.2M382.8 297.5V300M389.4 422.7V421.4M389.4 297.5V298.8M396.1 422.7V421.4M396.1 297.5V298.8M402.7 422.7V421.4M402.7 297.5V298.8M409.3 422.7V421.4M409.3 297.5V298.8M415.9 422.7V421.4M415.9 297.5V298.8M422.5 422.7V421.4M422.5 297.5V298.8M429.2 422.7V421.4M429.2 297.5V298.8M435.8 422.7V421.4M435.8 297.5V298.8M442.4 422.7V421.4M442.4 297.5V298.8M449 422.7V421.4M449 297.5V298.8M455.6 422.7V421.4M455.6 297.5V298.8M462.3 422.7V420.2M462.3 297.5V300M468.9 422.7V421.4M468.9 297.5V298.8M475.5 422.7V421.4M475.5 297.5V298.8M482.1 422.7V421.4M482.1 297.5V298.8M488.7 422.7V421.4M488.7 297.5V298.8M495.4 422.7V421.4M495.4 297.5V298.8M502 422.7V421.4M502 297.5V298.8M508.6 422.7V421.4M508.6 297.5V298.8M515.2 422.7V421.4M515.2 297.5V298.8M521.8 422.7V421.4M521.8 297.5V298.8M528.5 422.7V421.4M528.5 297.5V298.8M535.1 422.7V421.4M535.1 297.5V298.8M541.7 422.7V420.2M541.7 297.5V300M548.3 422.7V421.4M548.3 297.5V298.8M554.9 422.7V421.4M554.9 297.5V298.8M561.6 422.7V421.4M561.6 297.5V298.8M568.2 422.7V421.4M568.2 297.5V298.8M574.8 422.7V421.4M574.8 297.5V298.8M581.4 422.7V421.4M581.4 297.5V298.8M588 422.7V421.4M588 297.5V298.8M594.7 422.7V421.4M594.7 297.5V298.8M97 3H102M592.5 3H597.5M97 6.7H102M592.5 6.7H597.5M97 10.3H102M592.5 10.3H597.5M97 14H102M592.5 14H597.5M97 17.6H102M592.5 17.6H597.5M97 21.3H102M592.5 21.3H597.5M97 24.9H102M592.5 24.9H597.5M97 28.6H102M592.5 28.6H597.5M97 32.2H107M587.5 32.2H597.5M97 35.9H102M592.5 35.9H597.5M97 39.5H102M592.5 39.5H597.5M97 43.2H102M592.5 43.2H597.5M97 46.8H102M592.5 46.8H597.5M97 50.5H102M592.5 50.5H597.5M97 54.1H102M592.5 54.1H597.5M97 57.8H102M592.5 57.8H597.5M97 61.4H102M592.5 61.4H597.5M97 65.1H102M592.5 65.1H597.5M97 68.7H107M587.5 68.7H597.5M97 72.3H102M592.5 72.3H597.5M97 76H102M592.5 76H597.5M97 79.7H102M592.5 79.7H597.5M97 83.3H102M592.5 83.3H597.5M97 87H102M592.5 87H597.5M97 90.6H102M592.5 90.6H597.5M97 94.2H102M592.5 94.2H597.5M97 97.9H102M592.5 97.9H597.5M97 101.5H102M592.5 101.5H597.5M97 105.2H107M587.5 105.2H597.5M97 108.8H102M592.5 108.8H597.5M97 112.5H102M592.5 112.5H597.5M97 116.2H102M592.5 116.2H597.5M97 119.8H102M592.5 119.8H597.5M97 123.5H102M592.5 123.5H597.5M97 127.1H102M592.5 127.1H597.5M97 130.8H102M592.5 130.8H597.5M97 131.8H107M587.5 131.8H597.5M97 140.1H102M592.5 140.1H597.5M97 148.4H102M592.5 148.4H597.5M97 156.7H102M592.5 156.7H597.5M97 164.9H102M592.5 164.9H597.5M97 173.2H107M587.5 173.2H597.5M97 181.5H102M592.5 181.5H597.5M97 189.8H102M592.5 189.8H597.5M97 198.1H102M592.5 198.1H597.5M97 206.4H102M592.5 206.4H597.5M97 214.7H107M587.5 214.7H597.5M97 222.9H102M592.5 222.9H597.5M97 231.2H102M592.5 231.2H597.5M97 239.5H102M592.5 239.5H597.5M97 247.8H102M592.5 247.8H597.5M97 256.1H107M587.5 256.1H597.5M97 264.4H102M592.5 264.4H597.5M97 272.6H102M592.5 272.6H597.5M97 280.9H102M592.5 280.9H597.5M97 289.2H102M592.5 289.2H597.5M97 297.5H107M587.5 297.5H597.5M97 297.5H107M587.5 297.5H597.5M97 300H102M592.5 300H597.5M97 302.5H102M592.5 302.5H597.5M97 305H102M592.5 305H597.5M97 307.5H102M592.5 307.5H597.5M97 310H102M592.5 310H597.5M97 312.5H102M592.5 312.5H597.5M97 315H102M592.5 315H597.5M97 317.5H102M592.5 317.5H597.5M97 320H102M592.5 320H597.5M97 322.5H107M587.5 322.5H597.5M97 325H102M592.5 325H597.5M97 327.5H102M592.5 327.5H597.5M97 330.1H102M592.5 330.1H597.5M97 332.6H102M592.5 332.6H597.5M97 335.1H102M592.5 335.1H597.5M97 337.6H102M592.5 337.6H597.5M97 340.1H102M592.5 340.1H597.5M97 342.6H102M592.5 342.6H597.5M97 345.1H102M592.5 345.1H597.5M97 347.6H107M587.5 347.6H597.5M97 350.1H102M592.5 350.1H597.5M97 352.6H102M592.5 352.6H597.5M97 355.1H102M592.5 355.1H597.5M97 357.6H102M592.5 357.6H597.5M97 360.1H102M592.5 360.1H597.5M97 362.6H102M592.5 362.6H597.5M97 365.1H102M592.5 365.1H597.5M97 367.6H102M592.5 367.6H597.5M97 370.1H102M592.5 370.1H597.5M97 372.6H107M587.5 372.6H597.5M97 375.1H102M592.5 375.1H597.5M97 377.6H102M592.5 377.6H597.5M97 380.1H102M592.5 380.1H597.5M97 382.6H102M592.5 382.6H597.5M97 385.1H102M592.5 385.1H597.5M97 387.6H102M592.5 387.6H597.5M97 390.1H102M592.5 390.1H597.5M97 392.7H102M592.5 392.7H597.5M97 395.2H102M592.5 395.2H597.5M97 397.7H107M587.5 397.7H597.5M97 400.2H102M592.5 400.2H597.5M97 402.7H102M592.5 402.7H597.5M97 405.2H102M592.5 405.2H597.5M97 407.7H102M592.5 407.7H597.5M97 410.2H102M592.5 410.2H597.5M97 412.7H102M592.5 412.7H597.5M97 415.2H102M592.5 415.2H597.5M97 417.7H102M592.5 417.7H597.5M97 420.2H102M592.5 420.2H597.5M97 422.7H107M587.5 422.7H597.5"/>
<text transform="translate(147.70 14.00) scale(1.0714 1)" font-size="14.0" font-family="DejaVu Sans" font-weight="200" fill="#000" stroke="#000" stroke-width="0.2">Flux</text>
<text transform="translate(185.79 14.00) scale(1.1258 1)" font-size="14.0" font-family="DejaVu Sans" font-weight="200" fill="#000" stroke="#000" stroke-width="0.2">rate</text>
<text transform="translate(225.89 14.00) scale(1.0286 1)" font-size="14.0" font-family="DejaVu Sans" font-weight="200" fill="#000" stroke="#000" stroke-width="0.2">=</text>
<text transform="translate(247.22 14.00) scale(1.0912 1)" font-size="14.0" font-family="DejaVu Sans" font-weight="200" fill="#000" stroke="#000" stroke-width="0.2">1.1X10</text>
<text transform="translate(300.75 7.40) scale(1.2642 1)" font-size="6.2" font-family="DejaVu Sans" font-weight="200" fill="#000" stroke="#000" stroke-width="0.45">20</text>
<text transform="translate(316.22 14.00) scale(1.0196 1)" font-size="14.0" font-family="DejaVu Sans" font-weight="200" fill="#000" stroke="#000" stroke-width="0.2">Mx</text>
<text transform="translate(344.46 14.00) scale(1.3937 1)" font-size="14.0" font-family="DejaVu Sans" font-weight="200" fill="#000" stroke="#000" stroke-width="0.2">h</text>
<text transform="translate(355.37 8.40) scale(0.8300 1)" font-size="7.2" font-family="DejaVu Sans" font-weight="200" fill="#000" stroke="#000" stroke-width="0.4">−1</text>
<text transform="translate(147.70 50.60) scale(1.0714 1)" font-size="14.0" font-family="DejaVu Sans" font-weight="200" fill="#000" stroke="#000" stroke-width="0.2">Flux</text>
<text transform="translate(185.79 50.60) scale(1.1258 1)" font-size="14.0" font-family="DejaVu Sans" font-weight="200" fill="#000" stroke="#000" stroke-width="0.2">rate</text>
<text transform="translate(225.89 50.60) scale(1.0286 1)" font-size="14.0" font-family="DejaVu Sans" font-weight="200" fill="#000" stroke="#000" stroke-width="0.2">=</text>
<text transform="translate(247.22 50.60) scale(1.0912 1)" font-size="14.0" font-family="DejaVu Sans" font-weight="200" fill="#000" stroke="#000" stroke-width="0.2">1.5X10</text>
<text transform="translate(300.75 44.00) scale(1.2642 1)" font-size="6.2" font-family="DejaVu Sans" font-weight="200" fill="#000" stroke="#000" stroke-width="0.45">20</text>
<text transform="translate(316.22 50.60) scale(1.0196 1)" font-size="14.0" font-family="DejaVu Sans" font-weight="200" fill="#000" stroke="#000" stroke-width="0.2">Mx</text>
<text transform="translate(344.46 50.60) scale(1.3937 1)" font-size="14.0" font-family="DejaVu Sans" font-weight="200" fill="#000" stroke="#000" stroke-width="0.2">h</text>
<text transform="translate(355.37 45.00) scale(0.8300 1)" font-size="7.2" font-family="DejaVu Sans" font-weight="200" fill="#000" stroke="#000" stroke-width="0.4">−1</text>
<text transform="translate(80.86 38.60) scale(1.2001 1)" font-size="15.2" font-family="DejaVu Sans" font-weight="200" fill="#000" stroke="#000" stroke-width="0.2">0</text>
<text transform="translate(26.34 74.90) scale(0.9934 1)" font-size="15.0" font-family="DejaVu Sans" font-weight="200" fill="#000" stroke="#000" stroke-width="0.2">−1</text>
<text transform="translate(48.45 74.90) scale(1.0227 1)" font-size="15.0" font-family="DejaVu Sans" font-weight="200" fill="#000" stroke="#000" stroke-width="0.2">×</text>
<text transform="translate(58.91 74.90) scale(1.0218 1)" font-size="15.0" font-family="DejaVu Sans" font-weight="200" fill="#000" stroke="#000" stroke-width="0.2">10</text>
<text transform="translate(79.17 67.60) scale(1.2051 1)" font-size="8.6" font-family="DejaVu Sans" font-weight="200" fill="#000" stroke="#000" stroke-width="0.3">22</text>
<text transform="translate(26.30 111.20) scale(1.0131 1)" font-size="15.0" font-family="DejaVu Sans" font-weight="200" fill="#000" stroke="#000" stroke-width="0.2">−2</text>
<text transform="translate(48.45 111.20) scale(1.0227 1)" font-size="15.0" font-family="DejaVu Sans" font-weight="200" fill="#000" stroke="#000" stroke-width="0.2">×</text>
<text transform="translate(58.91 111.20) scale(1.0218 1)" font-size="15.0" font-family="DejaVu Sans" font-weight="200" fill="#000" stroke="#000" stroke-width="0.2">10</text>
<text transform="translate(79.17 104.10) scale(1.2051 1)" font-size="8.6" font-family="DejaVu Sans" font-weight="200" fill="#000" stroke="#000" stroke-width="0.3">22</text>
<text transform="translate(71.55 142.90) scale(1.1121 1)" font-size="15.0" font-family="DejaVu Sans" font-weight="200" fill="#000" stroke="#000" stroke-width="0.2">35</text>
<text transform="translate(71.57 179.30) scale(1.0920 1)" font-size="15.0" font-family="DejaVu Sans" font-weight="200" fill="#000" stroke="#000" stroke-width="0.2">30</text>
<text transform="translate(71.64 221.30) scale(1.1070 1)" font-size="15.0" font-family="DejaVu Sans" font-weight="200" fill="#000" stroke="#000" stroke-width="0.2">25</text>
<text transform="translate(71.66 262.90) scale(1.0871 1)" font-size="15.0" font-family="DejaVu Sans" font-weight="200" fill="#000" stroke="#000" stroke-width="0.2">20</text>
<text transform="translate(72.46 297.30) scale(1.0540 1)" font-size="15.0" font-family="DejaVu Sans" font-weight="200" fill="#000" stroke="#000" stroke-width="0.2">15</text>
<text transform="translate(59.48 308.50) scale(1.0270 1)" font-size="15.0" font-family="DejaVu Sans" font-weight="200" fill="#000" stroke="#000" stroke-width="0.2">−60</text>
<text transform="translate(59.48 329.00) scale(1.0270 1)" font-size="15.0" font-family="DejaVu Sans" font-weight="200" fill="#000" stroke="#000" stroke-width="0.2">−70</text>
<text transform="translate(59.48 354.40) scale(1.0270 1)" font-size="15.0" font-family="DejaVu Sans" font-weight="200" fill="#000" stroke="#000" stroke-width="0.2">−80</text>
<text transform="translate(59.48 379.30) scale(1.0270 1)" font-size="15.0" font-family="DejaVu Sans" font-weight="200" fill="#000" stroke="#000" stroke-width="0.2">−90</text>
<text transform="translate(48.94 404.30) scale(1.0536 1)" font-size="15.0" font-family="DejaVu Sans" font-weight="200" fill="#000" stroke="#000" stroke-width="0.2">−100</text>
<text transform="translate(48.97 422.50) scale(1.0379 1)" font-size="15.0" font-family="DejaVu Sans" font-weight="200" fill="#000" stroke="#000" stroke-width="0.2">−110</text>
<text transform="translate(138.33 446.00) scale(1.1722 1)" font-size="15.0" font-family="DejaVu Sans" font-weight="200" fill="#000" stroke="#000" stroke-width="0.2">9</text>
<text transform="translate(213.85 446.00) scale(1.0592 1)" font-size="15.0" font-family="DejaVu Sans" font-weight="200" fill="#000" stroke="#000" stroke-width="0.2">10</text>
<text transform="translate(293.99 446.00) scale(0.9123 1)" font-size="15.0" font-family="DejaVu Sans" font-weight="200" fill="#000" stroke="#000" stroke-width="0.2">11</text>
<text transform="translate(373.09 446.00) scale(1.0377 1)" font-size="15.0" font-family="DejaVu Sans" font-weight="200" fill="#000" stroke="#000" stroke-width="0.2">12</text>
<text transform="translate(453.33 446.00) scale(1.0111 1)" font-size="15.0" font-family="DejaVu Sans" font-weight="200" fill="#000" stroke="#000" stroke-width="0.2">13</text>
<text transform="translate(532.77 446.00) scale(0.9259 1)" font-size="15.0" font-family="DejaVu Sans" font-weight="200" fill="#000" stroke="#000" stroke-width="0.2">14</text>
<text transform="translate(12.80 104.60) rotate(-90) scale(0.9740 1)" font-size="15.4" font-family="DejaVu Sans" font-weight="200" fill="#000" stroke="#000" stroke-width="0.2">Flux</text>
<text transform="translate(12.80 64.84) rotate(-90) scale(0.9652 1)" font-size="15.4" font-family="DejaVu Sans" font-weight="200" fill="#000" stroke="#000" stroke-width="0.2">(Mx)</text>
<text transform="translate(58.80 272.52) rotate(-90) scale(0.9861 1)" font-size="15.4" font-family="DejaVu Sans" font-weight="200" fill="#000" stroke="#000" stroke-width="0.2">Distance</text>
<text transform="translate(58.80 198.89) rotate(-90) scale(0.9990 1)" font-size="15.4" font-family="DejaVu Sans" font-weight="200" fill="#000" stroke="#000" stroke-width="0.2">(Mm)</text>
<text transform="translate(35.80 395.67) rotate(-90) scale(0.8762 1)" font-size="15.4" font-family="DejaVu Sans" font-weight="200" fill="#000" stroke="#000" stroke-width="0.2">Tilt</text>
<text transform="translate(35.80 366.76) rotate(-90) scale(1.0411 1)" font-size="15.4" font-family="DejaVu Sans" font-weight="200" fill="#000" stroke="#000" stroke-width="0.2">(deg)</text>
<text transform="translate(252.90 465.00) scale(0.9912 1)" font-size="15.1" font-family="DejaVu Sans" font-weight="200" fill="#000" stroke="#000" stroke-width="0.2">Days</text>
<text transform="translate(296.63 465.00) scale(1.0069 1)" font-size="15.1" font-family="DejaVu Sans" font-weight="200" fill="#000" stroke="#000" stroke-width="0.2">(December,</text>
<text transform="translate(393.90 465.00) scale(1.0371 1)" font-size="15.1" font-family="DejaVu Sans" font-weight="200" fill="#000" stroke="#000" stroke-width="0.2">2006)</text>
</svg>
</body></html>
